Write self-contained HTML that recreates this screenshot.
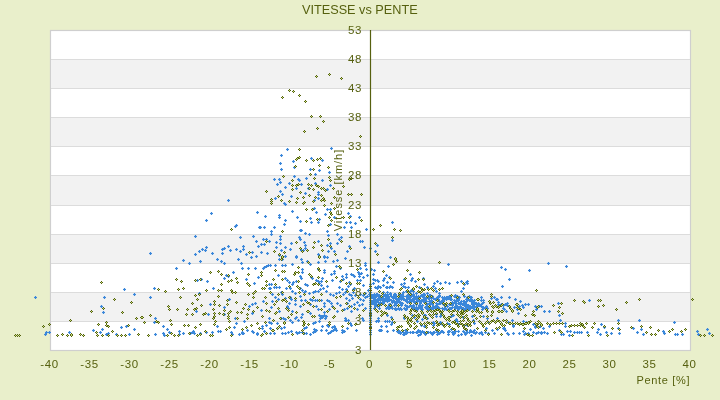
<!DOCTYPE html><html><head><meta charset="utf-8"><style>
html,body{margin:0;padding:0;width:720px;height:400px;overflow:hidden;background:#e9efcb}
svg{display:block;will-change:transform}
.t{font-family:"Liberation Sans",sans-serif;font-size:11.5px;fill:#56600f;letter-spacing:0.6px}
.a{font-family:"Liberation Sans",sans-serif;font-size:11px;fill:#56600f}
.ti{font-family:"Liberation Sans",sans-serif;font-size:12.7px;fill:#56600f}
</style></head><body><svg width="720" height="400" viewBox="0 0 720 400">
<rect x="0" y="0" width="720" height="400" fill="#e9efcb"/><rect x="50.5" y="30.5" width="640" height="320" fill="#ffffff" stroke="#cfcfcf" stroke-width="1.2"/><rect x="51" y="59" width="639" height="29" fill="#f2f2f2"/><rect x="51" y="117" width="639" height="29" fill="#f2f2f2"/><rect x="51" y="175" width="639" height="30" fill="#f2f2f2"/><rect x="51" y="234" width="639" height="29" fill="#f2f2f2"/><rect x="51" y="292" width="639" height="29" fill="#f2f2f2"/><line x1="51" y1="59.5" x2="690" y2="59.5" stroke="#dcdcdc" stroke-width="1.1"/><line x1="51" y1="88.5" x2="690" y2="88.5" stroke="#dcdcdc" stroke-width="1.1"/><line x1="51" y1="117.5" x2="690" y2="117.5" stroke="#dcdcdc" stroke-width="1.1"/><line x1="51" y1="146.5" x2="690" y2="146.5" stroke="#dcdcdc" stroke-width="1.1"/><line x1="51" y1="175.5" x2="690" y2="175.5" stroke="#dcdcdc" stroke-width="1.1"/><line x1="51" y1="205.5" x2="690" y2="205.5" stroke="#dcdcdc" stroke-width="1.1"/><line x1="51" y1="234.5" x2="690" y2="234.5" stroke="#dcdcdc" stroke-width="1.1"/><line x1="51" y1="263.5" x2="690" y2="263.5" stroke="#dcdcdc" stroke-width="1.1"/><line x1="51" y1="292.5" x2="690" y2="292.5" stroke="#dcdcdc" stroke-width="1.1"/><line x1="51" y1="321.5" x2="690" y2="321.5" stroke="#dcdcdc" stroke-width="1.1"/><text transform="translate(342,190.5) rotate(-90)" text-anchor="middle" class="a" textLength="81.5" lengthAdjust="spacing">Vitesse [km/h]</text><g shape-rendering="crispEdges"><path d="M286 148h1v1h-1zM288 148h1v1h-1zM286 150h1v1h-1zM288 150h1v1h-1zM280 154h1v1h-1zM282 154h1v1h-1zM280 156h1v1h-1zM282 156h1v1h-1zM279 162h1v1h-1zM281 162h1v1h-1zM279 164h1v1h-1zM281 164h1v1h-1zM280 168h1v1h-1zM282 168h1v1h-1zM280 170h1v1h-1zM282 170h1v1h-1zM292 160h1v1h-1zM294 160h1v1h-1zM292 162h1v1h-1zM294 162h1v1h-1zM293 166h1v1h-1zM295 166h1v1h-1zM293 168h1v1h-1zM295 168h1v1h-1zM310 157h1v1h-1zM312 157h1v1h-1zM310 159h1v1h-1zM312 159h1v1h-1zM321 159h1v1h-1zM323 159h1v1h-1zM321 161h1v1h-1zM323 161h1v1h-1zM330 147h1v1h-1zM332 147h1v1h-1zM330 149h1v1h-1zM332 149h1v1h-1zM309 168h1v1h-1zM311 168h1v1h-1zM309 170h1v1h-1zM311 170h1v1h-1zM318 169h1v1h-1zM320 169h1v1h-1zM318 171h1v1h-1zM320 171h1v1h-1zM328 171h1v1h-1zM330 171h1v1h-1zM328 173h1v1h-1zM330 173h1v1h-1zM314 173h1v1h-1zM316 173h1v1h-1zM314 175h1v1h-1zM316 175h1v1h-1zM293 175h1v1h-1zM295 175h1v1h-1zM293 177h1v1h-1zM295 177h1v1h-1zM297 178h1v1h-1zM299 178h1v1h-1zM297 180h1v1h-1zM299 180h1v1h-1zM298 179h1v1h-1zM300 179h1v1h-1zM298 181h1v1h-1zM300 181h1v1h-1zM305 177h1v1h-1zM307 177h1v1h-1zM305 179h1v1h-1zM307 179h1v1h-1zM273 178h1v1h-1zM275 178h1v1h-1zM273 180h1v1h-1zM275 180h1v1h-1zM278 178h1v1h-1zM280 178h1v1h-1zM278 180h1v1h-1zM280 180h1v1h-1zM279 181h1v1h-1zM281 181h1v1h-1zM279 183h1v1h-1zM281 183h1v1h-1zM276 183h1v1h-1zM278 183h1v1h-1zM276 185h1v1h-1zM278 185h1v1h-1zM288 182h1v1h-1zM290 182h1v1h-1zM288 184h1v1h-1zM290 184h1v1h-1zM300 183h1v1h-1zM302 183h1v1h-1zM300 185h1v1h-1zM302 185h1v1h-1zM321 179h1v1h-1zM323 179h1v1h-1zM321 181h1v1h-1zM323 181h1v1h-1zM284 186h1v1h-1zM286 186h1v1h-1zM284 188h1v1h-1zM286 188h1v1h-1zM295 187h1v1h-1zM297 187h1v1h-1zM295 189h1v1h-1zM297 189h1v1h-1zM307 187h1v1h-1zM309 187h1v1h-1zM307 189h1v1h-1zM309 189h1v1h-1zM314 182h1v1h-1zM316 182h1v1h-1zM314 184h1v1h-1zM316 184h1v1h-1zM329 184h1v1h-1zM331 184h1v1h-1zM329 186h1v1h-1zM331 186h1v1h-1zM326 188h1v1h-1zM328 188h1v1h-1zM326 190h1v1h-1zM328 190h1v1h-1zM279 190h1v1h-1zM281 190h1v1h-1zM279 192h1v1h-1zM281 192h1v1h-1zM281 193h1v1h-1zM283 193h1v1h-1zM281 195h1v1h-1zM283 195h1v1h-1zM304 192h1v1h-1zM306 192h1v1h-1zM304 194h1v1h-1zM306 194h1v1h-1zM317 191h1v1h-1zM319 191h1v1h-1zM317 193h1v1h-1zM319 193h1v1h-1zM317 193h1v1h-1zM319 193h1v1h-1zM317 195h1v1h-1zM319 195h1v1h-1zM290 195h1v1h-1zM292 195h1v1h-1zM290 197h1v1h-1zM292 197h1v1h-1zM274 197h1v1h-1zM276 197h1v1h-1zM274 199h1v1h-1zM276 199h1v1h-1zM317 197h1v1h-1zM319 197h1v1h-1zM317 199h1v1h-1zM319 199h1v1h-1zM335 265h1v1h-1zM337 265h1v1h-1zM335 267h1v1h-1zM337 267h1v1h-1zM339 267h1v1h-1zM341 267h1v1h-1zM339 269h1v1h-1zM341 269h1v1h-1zM333 270h1v1h-1zM335 270h1v1h-1zM333 272h1v1h-1zM335 272h1v1h-1zM333 272h1v1h-1zM335 272h1v1h-1zM333 274h1v1h-1zM335 274h1v1h-1zM330 273h1v1h-1zM332 273h1v1h-1zM330 275h1v1h-1zM332 275h1v1h-1zM331 279h1v1h-1zM333 279h1v1h-1zM331 281h1v1h-1zM333 281h1v1h-1zM341 275h1v1h-1zM343 275h1v1h-1zM341 277h1v1h-1zM343 277h1v1h-1zM345 273h1v1h-1zM347 273h1v1h-1zM345 275h1v1h-1zM347 275h1v1h-1zM345 276h1v1h-1zM347 276h1v1h-1zM345 278h1v1h-1zM347 278h1v1h-1zM342 278h1v1h-1zM344 278h1v1h-1zM342 280h1v1h-1zM344 280h1v1h-1zM339 280h1v1h-1zM341 280h1v1h-1zM339 282h1v1h-1zM341 282h1v1h-1zM350 273h1v1h-1zM352 273h1v1h-1zM350 275h1v1h-1zM352 275h1v1h-1zM352 274h1v1h-1zM354 274h1v1h-1zM352 276h1v1h-1zM354 276h1v1h-1zM353 275h1v1h-1zM355 275h1v1h-1zM353 277h1v1h-1zM355 277h1v1h-1zM357 271h1v1h-1zM359 271h1v1h-1zM357 273h1v1h-1zM359 273h1v1h-1zM358 273h1v1h-1zM360 273h1v1h-1zM358 275h1v1h-1zM360 275h1v1h-1zM358 275h1v1h-1zM360 275h1v1h-1zM358 277h1v1h-1zM360 277h1v1h-1zM360 272h1v1h-1zM362 272h1v1h-1zM360 274h1v1h-1zM362 274h1v1h-1zM359 267h1v1h-1zM361 267h1v1h-1zM359 269h1v1h-1zM361 269h1v1h-1zM365 268h1v1h-1zM367 268h1v1h-1zM365 270h1v1h-1zM367 270h1v1h-1zM362 276h1v1h-1zM364 276h1v1h-1zM362 278h1v1h-1zM364 278h1v1h-1zM366 274h1v1h-1zM368 274h1v1h-1zM366 276h1v1h-1zM368 276h1v1h-1zM356 279h1v1h-1zM358 279h1v1h-1zM356 281h1v1h-1zM358 281h1v1h-1zM359 279h1v1h-1zM361 279h1v1h-1zM359 281h1v1h-1zM361 281h1v1h-1zM348 281h1v1h-1zM350 281h1v1h-1zM348 283h1v1h-1zM350 283h1v1h-1zM349 283h1v1h-1zM351 283h1v1h-1zM349 285h1v1h-1zM351 285h1v1h-1zM347 285h1v1h-1zM349 285h1v1h-1zM347 287h1v1h-1zM349 287h1v1h-1zM338 286h1v1h-1zM340 286h1v1h-1zM338 288h1v1h-1zM340 288h1v1h-1zM341 288h1v1h-1zM343 288h1v1h-1zM341 290h1v1h-1zM343 290h1v1h-1zM345 288h1v1h-1zM347 288h1v1h-1zM345 290h1v1h-1zM347 290h1v1h-1zM352 288h1v1h-1zM354 288h1v1h-1zM352 290h1v1h-1zM354 290h1v1h-1zM353 287h1v1h-1zM355 287h1v1h-1zM353 289h1v1h-1zM355 289h1v1h-1zM362 284h1v1h-1zM364 284h1v1h-1zM362 286h1v1h-1zM364 286h1v1h-1zM364 262h1v1h-1zM366 262h1v1h-1zM364 264h1v1h-1zM366 264h1v1h-1zM364 264h1v1h-1zM366 264h1v1h-1zM364 266h1v1h-1zM366 266h1v1h-1zM367 289h1v1h-1zM369 289h1v1h-1zM367 291h1v1h-1zM369 291h1v1h-1zM335 292h1v1h-1zM337 292h1v1h-1zM335 294h1v1h-1zM337 294h1v1h-1zM338 291h1v1h-1zM340 291h1v1h-1zM338 293h1v1h-1zM340 293h1v1h-1zM342 293h1v1h-1zM344 293h1v1h-1zM342 295h1v1h-1zM344 295h1v1h-1zM344 291h1v1h-1zM346 291h1v1h-1zM344 293h1v1h-1zM346 293h1v1h-1zM348 293h1v1h-1zM350 293h1v1h-1zM348 295h1v1h-1zM350 295h1v1h-1zM350 294h1v1h-1zM352 294h1v1h-1zM350 296h1v1h-1zM352 296h1v1h-1zM352 291h1v1h-1zM354 291h1v1h-1zM352 293h1v1h-1zM354 293h1v1h-1zM354 294h1v1h-1zM356 294h1v1h-1zM354 296h1v1h-1zM356 296h1v1h-1zM359 293h1v1h-1zM361 293h1v1h-1zM359 295h1v1h-1zM361 295h1v1h-1zM362 294h1v1h-1zM364 294h1v1h-1zM362 296h1v1h-1zM364 296h1v1h-1zM364 292h1v1h-1zM366 292h1v1h-1zM364 294h1v1h-1zM366 294h1v1h-1zM366 295h1v1h-1zM368 295h1v1h-1zM366 297h1v1h-1zM368 297h1v1h-1zM368 293h1v1h-1zM370 293h1v1h-1zM368 295h1v1h-1zM370 295h1v1h-1zM329 293h1v1h-1zM331 293h1v1h-1zM329 295h1v1h-1zM331 295h1v1h-1zM332 294h1v1h-1zM334 294h1v1h-1zM332 296h1v1h-1zM334 296h1v1h-1zM345 297h1v1h-1zM347 297h1v1h-1zM345 299h1v1h-1zM347 299h1v1h-1zM348 299h1v1h-1zM350 299h1v1h-1zM348 301h1v1h-1zM350 301h1v1h-1zM351 297h1v1h-1zM353 297h1v1h-1zM351 299h1v1h-1zM353 299h1v1h-1zM359 298h1v1h-1zM361 298h1v1h-1zM359 300h1v1h-1zM361 300h1v1h-1zM362 299h1v1h-1zM364 299h1v1h-1zM362 301h1v1h-1zM364 301h1v1h-1zM364 296h1v1h-1zM366 296h1v1h-1zM364 298h1v1h-1zM366 298h1v1h-1zM227 199h1v1h-1zM229 199h1v1h-1zM227 201h1v1h-1zM229 201h1v1h-1zM210 212h1v1h-1zM212 212h1v1h-1zM210 214h1v1h-1zM212 214h1v1h-1zM205 219h1v1h-1zM207 219h1v1h-1zM205 221h1v1h-1zM207 221h1v1h-1zM234 225h1v1h-1zM236 225h1v1h-1zM234 227h1v1h-1zM236 227h1v1h-1zM235 224h1v1h-1zM237 224h1v1h-1zM235 226h1v1h-1zM237 226h1v1h-1zM256 211h1v1h-1zM258 211h1v1h-1zM256 213h1v1h-1zM258 213h1v1h-1zM258 226h1v1h-1zM260 226h1v1h-1zM258 228h1v1h-1zM260 228h1v1h-1zM194 235h1v1h-1zM196 235h1v1h-1zM194 237h1v1h-1zM196 237h1v1h-1zM239 236h1v1h-1zM241 236h1v1h-1zM239 238h1v1h-1zM241 238h1v1h-1zM252 235h1v1h-1zM254 235h1v1h-1zM252 237h1v1h-1zM254 237h1v1h-1zM255 240h1v1h-1zM257 240h1v1h-1zM255 242h1v1h-1zM257 242h1v1h-1zM257 245h1v1h-1zM259 245h1v1h-1zM257 247h1v1h-1zM259 247h1v1h-1zM205 246h1v1h-1zM207 246h1v1h-1zM205 248h1v1h-1zM207 248h1v1h-1zM201 248h1v1h-1zM203 248h1v1h-1zM201 250h1v1h-1zM203 250h1v1h-1zM204 249h1v1h-1zM206 249h1v1h-1zM204 251h1v1h-1zM206 251h1v1h-1zM198 250h1v1h-1zM200 250h1v1h-1zM198 252h1v1h-1zM200 252h1v1h-1zM194 253h1v1h-1zM196 253h1v1h-1zM194 255h1v1h-1zM196 255h1v1h-1zM211 252h1v1h-1zM213 252h1v1h-1zM211 254h1v1h-1zM213 254h1v1h-1zM221 248h1v1h-1zM223 248h1v1h-1zM221 250h1v1h-1zM223 250h1v1h-1zM223 247h1v1h-1zM225 247h1v1h-1zM223 249h1v1h-1zM225 249h1v1h-1zM227 245h1v1h-1zM229 245h1v1h-1zM227 247h1v1h-1zM229 247h1v1h-1zM229 249h1v1h-1zM231 249h1v1h-1zM229 251h1v1h-1zM231 251h1v1h-1zM221 252h1v1h-1zM223 252h1v1h-1zM221 254h1v1h-1zM223 254h1v1h-1zM235 248h1v1h-1zM237 248h1v1h-1zM235 250h1v1h-1zM237 250h1v1h-1zM242 245h1v1h-1zM244 245h1v1h-1zM242 247h1v1h-1zM244 247h1v1h-1zM242 248h1v1h-1zM244 248h1v1h-1zM242 250h1v1h-1zM244 250h1v1h-1zM239 250h1v1h-1zM241 250h1v1h-1zM239 252h1v1h-1zM241 252h1v1h-1zM245 253h1v1h-1zM247 253h1v1h-1zM245 255h1v1h-1zM247 255h1v1h-1zM251 251h1v1h-1zM253 251h1v1h-1zM251 253h1v1h-1zM253 253h1v1h-1zM149 252h1v1h-1zM151 252h1v1h-1zM149 254h1v1h-1zM151 254h1v1h-1zM283 202h1v1h-1zM285 202h1v1h-1zM283 204h1v1h-1zM285 204h1v1h-1zM284 203h1v1h-1zM286 203h1v1h-1zM284 205h1v1h-1zM286 205h1v1h-1zM313 199h1v1h-1zM315 199h1v1h-1zM313 201h1v1h-1zM315 201h1v1h-1zM291 210h1v1h-1zM293 210h1v1h-1zM291 212h1v1h-1zM293 212h1v1h-1zM264 215h1v1h-1zM266 215h1v1h-1zM264 217h1v1h-1zM266 217h1v1h-1zM278 214h1v1h-1zM280 214h1v1h-1zM278 216h1v1h-1zM280 216h1v1h-1zM278 216h1v1h-1zM280 216h1v1h-1zM278 218h1v1h-1zM280 218h1v1h-1zM296 216h1v1h-1zM298 216h1v1h-1zM296 218h1v1h-1zM298 218h1v1h-1zM299 220h1v1h-1zM301 220h1v1h-1zM299 222h1v1h-1zM301 222h1v1h-1zM284 219h1v1h-1zM286 219h1v1h-1zM284 221h1v1h-1zM286 221h1v1h-1zM283 223h1v1h-1zM285 223h1v1h-1zM283 225h1v1h-1zM285 225h1v1h-1zM309 217h1v1h-1zM311 217h1v1h-1zM309 219h1v1h-1zM311 219h1v1h-1zM310 221h1v1h-1zM312 221h1v1h-1zM310 223h1v1h-1zM312 223h1v1h-1zM317 221h1v1h-1zM319 221h1v1h-1zM317 223h1v1h-1zM319 223h1v1h-1zM318 218h1v1h-1zM320 218h1v1h-1zM318 220h1v1h-1zM320 220h1v1h-1zM311 208h1v1h-1zM313 208h1v1h-1zM311 210h1v1h-1zM313 210h1v1h-1zM313 207h1v1h-1zM315 207h1v1h-1zM313 209h1v1h-1zM315 209h1v1h-1zM315 211h1v1h-1zM317 211h1v1h-1zM315 213h1v1h-1zM317 213h1v1h-1zM324 213h1v1h-1zM326 213h1v1h-1zM324 215h1v1h-1zM326 215h1v1h-1zM326 208h1v1h-1zM328 208h1v1h-1zM326 210h1v1h-1zM328 210h1v1h-1zM329 208h1v1h-1zM331 208h1v1h-1zM329 210h1v1h-1zM331 210h1v1h-1zM333 216h1v1h-1zM335 216h1v1h-1zM333 218h1v1h-1zM335 218h1v1h-1zM347 212h1v1h-1zM349 212h1v1h-1zM347 214h1v1h-1zM349 214h1v1h-1zM349 215h1v1h-1zM351 215h1v1h-1zM349 217h1v1h-1zM351 217h1v1h-1zM358 216h1v1h-1zM360 216h1v1h-1zM358 218h1v1h-1zM360 218h1v1h-1zM354 222h1v1h-1zM356 222h1v1h-1zM354 224h1v1h-1zM356 224h1v1h-1zM349 221h1v1h-1zM351 221h1v1h-1zM349 223h1v1h-1zM351 223h1v1h-1zM343 226h1v1h-1zM345 226h1v1h-1zM343 228h1v1h-1zM345 228h1v1h-1zM345 221h1v1h-1zM347 221h1v1h-1zM345 223h1v1h-1zM347 223h1v1h-1zM350 226h1v1h-1zM352 226h1v1h-1zM350 228h1v1h-1zM352 228h1v1h-1zM365 228h1v1h-1zM367 228h1v1h-1zM365 230h1v1h-1zM367 230h1v1h-1zM329 223h1v1h-1zM331 223h1v1h-1zM329 225h1v1h-1zM331 225h1v1h-1zM326 230h1v1h-1zM328 230h1v1h-1zM326 232h1v1h-1zM328 232h1v1h-1zM327 234h1v1h-1zM329 234h1v1h-1zM327 236h1v1h-1zM329 236h1v1h-1zM336 233h1v1h-1zM338 233h1v1h-1zM336 235h1v1h-1zM338 235h1v1h-1zM259 226h1v1h-1zM261 226h1v1h-1zM259 228h1v1h-1zM261 228h1v1h-1zM263 226h1v1h-1zM265 226h1v1h-1zM263 228h1v1h-1zM265 228h1v1h-1zM273 226h1v1h-1zM275 226h1v1h-1zM273 228h1v1h-1zM275 228h1v1h-1zM270 230h1v1h-1zM272 230h1v1h-1zM270 232h1v1h-1zM272 232h1v1h-1zM270 233h1v1h-1zM272 233h1v1h-1zM270 235h1v1h-1zM272 235h1v1h-1zM299 229h1v1h-1zM301 229h1v1h-1zM299 231h1v1h-1zM301 231h1v1h-1zM300 229h1v1h-1zM302 229h1v1h-1zM300 231h1v1h-1zM302 231h1v1h-1zM304 232h1v1h-1zM306 232h1v1h-1zM304 234h1v1h-1zM306 234h1v1h-1zM308 233h1v1h-1zM310 233h1v1h-1zM308 235h1v1h-1zM310 235h1v1h-1zM279 235h1v1h-1zM281 235h1v1h-1zM279 237h1v1h-1zM281 237h1v1h-1zM279 238h1v1h-1zM281 238h1v1h-1zM279 240h1v1h-1zM281 240h1v1h-1zM262 238h1v1h-1zM264 238h1v1h-1zM262 240h1v1h-1zM264 240h1v1h-1zM265 238h1v1h-1zM267 238h1v1h-1zM265 240h1v1h-1zM267 240h1v1h-1zM268 240h1v1h-1zM270 240h1v1h-1zM268 242h1v1h-1zM270 242h1v1h-1zM298 236h1v1h-1zM300 236h1v1h-1zM298 238h1v1h-1zM300 238h1v1h-1zM299 238h1v1h-1zM301 238h1v1h-1zM299 240h1v1h-1zM301 240h1v1h-1zM275 241h1v1h-1zM277 241h1v1h-1zM275 243h1v1h-1zM277 243h1v1h-1zM279 242h1v1h-1zM281 242h1v1h-1zM279 244h1v1h-1zM281 244h1v1h-1zM290 242h1v1h-1zM292 242h1v1h-1zM290 244h1v1h-1zM292 244h1v1h-1zM303 241h1v1h-1zM305 241h1v1h-1zM303 243h1v1h-1zM305 243h1v1h-1zM317 240h1v1h-1zM319 240h1v1h-1zM317 242h1v1h-1zM319 242h1v1h-1zM338 238h1v1h-1zM340 238h1v1h-1zM338 240h1v1h-1zM340 240h1v1h-1zM340 236h1v1h-1zM342 236h1v1h-1zM340 238h1v1h-1zM342 238h1v1h-1zM260 243h1v1h-1zM262 243h1v1h-1zM260 245h1v1h-1zM262 245h1v1h-1zM263 243h1v1h-1zM265 243h1v1h-1zM263 245h1v1h-1zM265 245h1v1h-1zM275 246h1v1h-1zM277 246h1v1h-1zM275 248h1v1h-1zM277 248h1v1h-1zM284 246h1v1h-1zM286 246h1v1h-1zM284 248h1v1h-1zM286 248h1v1h-1zM304 247h1v1h-1zM306 247h1v1h-1zM304 249h1v1h-1zM306 249h1v1h-1zM302 249h1v1h-1zM304 249h1v1h-1zM302 251h1v1h-1zM304 251h1v1h-1zM304 244h1v1h-1zM306 244h1v1h-1zM304 246h1v1h-1zM306 246h1v1h-1zM326 244h1v1h-1zM328 244h1v1h-1zM326 246h1v1h-1zM328 246h1v1h-1zM329 242h1v1h-1zM331 242h1v1h-1zM329 244h1v1h-1zM331 244h1v1h-1zM330 247h1v1h-1zM332 247h1v1h-1zM330 249h1v1h-1zM332 249h1v1h-1zM336 242h1v1h-1zM338 242h1v1h-1zM336 244h1v1h-1zM338 244h1v1h-1zM348 245h1v1h-1zM350 245h1v1h-1zM348 247h1v1h-1zM350 247h1v1h-1zM359 240h1v1h-1zM361 240h1v1h-1zM359 242h1v1h-1zM361 242h1v1h-1zM361 240h1v1h-1zM363 240h1v1h-1zM361 242h1v1h-1zM363 242h1v1h-1zM363 246h1v1h-1zM365 246h1v1h-1zM363 248h1v1h-1zM365 248h1v1h-1zM280 249h1v1h-1zM282 249h1v1h-1zM280 251h1v1h-1zM282 251h1v1h-1zM289 248h1v1h-1zM291 248h1v1h-1zM289 250h1v1h-1zM291 250h1v1h-1zM260 251h1v1h-1zM262 251h1v1h-1zM260 253h1v1h-1zM262 253h1v1h-1zM266 252h1v1h-1zM268 252h1v1h-1zM266 254h1v1h-1zM268 254h1v1h-1zM300 249h1v1h-1zM302 249h1v1h-1zM300 251h1v1h-1zM302 251h1v1h-1zM327 250h1v1h-1zM329 250h1v1h-1zM327 252h1v1h-1zM329 252h1v1h-1zM333 250h1v1h-1zM335 250h1v1h-1zM333 252h1v1h-1zM335 252h1v1h-1zM346 250h1v1h-1zM348 250h1v1h-1zM346 252h1v1h-1zM348 252h1v1h-1zM278 254h1v1h-1zM280 254h1v1h-1zM278 256h1v1h-1zM280 256h1v1h-1zM284 255h1v1h-1zM286 255h1v1h-1zM284 257h1v1h-1zM286 257h1v1h-1zM295 255h1v1h-1zM297 255h1v1h-1zM295 257h1v1h-1zM297 257h1v1h-1zM317 253h1v1h-1zM319 253h1v1h-1zM317 255h1v1h-1zM319 255h1v1h-1zM323 255h1v1h-1zM325 255h1v1h-1zM323 257h1v1h-1zM325 257h1v1h-1zM326 256h1v1h-1zM328 256h1v1h-1zM326 258h1v1h-1zM328 258h1v1h-1zM278 258h1v1h-1zM280 258h1v1h-1zM278 260h1v1h-1zM280 260h1v1h-1zM281 258h1v1h-1zM283 258h1v1h-1zM281 260h1v1h-1zM283 260h1v1h-1zM295 256h1v1h-1zM297 256h1v1h-1zM295 258h1v1h-1zM297 258h1v1h-1zM300 258h1v1h-1zM302 258h1v1h-1zM300 260h1v1h-1zM302 260h1v1h-1zM301 261h1v1h-1zM303 261h1v1h-1zM301 263h1v1h-1zM303 263h1v1h-1zM306 260h1v1h-1zM308 260h1v1h-1zM306 262h1v1h-1zM308 262h1v1h-1zM309 263h1v1h-1zM311 263h1v1h-1zM309 265h1v1h-1zM311 265h1v1h-1zM317 261h1v1h-1zM319 261h1v1h-1zM317 263h1v1h-1zM319 263h1v1h-1zM323 256h1v1h-1zM325 256h1v1h-1zM323 258h1v1h-1zM325 258h1v1h-1zM326 256h1v1h-1zM328 256h1v1h-1zM326 258h1v1h-1zM328 258h1v1h-1zM324 260h1v1h-1zM326 260h1v1h-1zM324 262h1v1h-1zM326 262h1v1h-1zM332 260h1v1h-1zM334 260h1v1h-1zM332 262h1v1h-1zM334 262h1v1h-1zM336 259h1v1h-1zM338 259h1v1h-1zM336 261h1v1h-1zM338 261h1v1h-1zM344 257h1v1h-1zM346 257h1v1h-1zM344 259h1v1h-1zM346 259h1v1h-1zM265 265h1v1h-1zM267 265h1v1h-1zM265 267h1v1h-1zM267 267h1v1h-1zM267 264h1v1h-1zM269 264h1v1h-1zM267 266h1v1h-1zM269 266h1v1h-1zM269 264h1v1h-1zM271 264h1v1h-1zM269 266h1v1h-1zM271 266h1v1h-1zM262 267h1v1h-1zM264 267h1v1h-1zM262 269h1v1h-1zM264 269h1v1h-1zM263 266h1v1h-1zM265 266h1v1h-1zM263 268h1v1h-1zM265 268h1v1h-1zM274 264h1v1h-1zM276 264h1v1h-1zM274 266h1v1h-1zM276 266h1v1h-1zM281 264h1v1h-1zM283 264h1v1h-1zM281 266h1v1h-1zM283 266h1v1h-1zM284 264h1v1h-1zM286 264h1v1h-1zM284 266h1v1h-1zM286 266h1v1h-1zM291 263h1v1h-1zM293 263h1v1h-1zM291 265h1v1h-1zM293 265h1v1h-1zM301 268h1v1h-1zM303 268h1v1h-1zM301 270h1v1h-1zM303 270h1v1h-1zM301 271h1v1h-1zM303 271h1v1h-1zM301 273h1v1h-1zM303 273h1v1h-1zM317 268h1v1h-1zM319 268h1v1h-1zM317 270h1v1h-1zM319 270h1v1h-1zM323 269h1v1h-1zM325 269h1v1h-1zM323 271h1v1h-1zM325 271h1v1h-1zM323 271h1v1h-1zM325 271h1v1h-1zM323 273h1v1h-1zM325 273h1v1h-1zM277 274h1v1h-1zM279 274h1v1h-1zM277 276h1v1h-1zM279 276h1v1h-1zM284 277h1v1h-1zM286 277h1v1h-1zM284 279h1v1h-1zM286 279h1v1h-1zM286 279h1v1h-1zM288 279h1v1h-1zM286 281h1v1h-1zM288 281h1v1h-1zM288 281h1v1h-1zM290 281h1v1h-1zM288 283h1v1h-1zM290 283h1v1h-1zM291 283h1v1h-1zM293 283h1v1h-1zM291 285h1v1h-1zM293 285h1v1h-1zM292 281h1v1h-1zM294 281h1v1h-1zM292 283h1v1h-1zM294 283h1v1h-1zM295 280h1v1h-1zM297 280h1v1h-1zM295 282h1v1h-1zM297 282h1v1h-1zM299 275h1v1h-1zM301 275h1v1h-1zM299 277h1v1h-1zM301 277h1v1h-1zM300 277h1v1h-1zM302 277h1v1h-1zM300 279h1v1h-1zM302 279h1v1h-1zM304 283h1v1h-1zM306 283h1v1h-1zM304 285h1v1h-1zM306 285h1v1h-1zM306 284h1v1h-1zM308 284h1v1h-1zM306 286h1v1h-1zM308 286h1v1h-1zM310 276h1v1h-1zM312 276h1v1h-1zM310 278h1v1h-1zM312 278h1v1h-1zM311 277h1v1h-1zM313 277h1v1h-1zM311 279h1v1h-1zM313 279h1v1h-1zM315 279h1v1h-1zM317 279h1v1h-1zM315 281h1v1h-1zM317 281h1v1h-1zM317 280h1v1h-1zM319 280h1v1h-1zM317 282h1v1h-1zM319 282h1v1h-1zM318 282h1v1h-1zM320 282h1v1h-1zM318 284h1v1h-1zM320 284h1v1h-1zM320 284h1v1h-1zM322 284h1v1h-1zM320 286h1v1h-1zM322 286h1v1h-1zM321 277h1v1h-1zM323 277h1v1h-1zM321 279h1v1h-1zM323 279h1v1h-1zM320 280h1v1h-1zM322 280h1v1h-1zM320 282h1v1h-1zM322 282h1v1h-1zM326 285h1v1h-1zM328 285h1v1h-1zM326 287h1v1h-1zM328 287h1v1h-1zM268 283h1v1h-1zM270 283h1v1h-1zM268 285h1v1h-1zM270 285h1v1h-1zM270 283h1v1h-1zM272 283h1v1h-1zM270 285h1v1h-1zM272 285h1v1h-1zM273 286h1v1h-1zM275 286h1v1h-1zM273 288h1v1h-1zM275 288h1v1h-1zM275 286h1v1h-1zM277 286h1v1h-1zM275 288h1v1h-1zM277 288h1v1h-1zM278 286h1v1h-1zM280 286h1v1h-1zM278 288h1v1h-1zM280 288h1v1h-1zM269 287h1v1h-1zM271 287h1v1h-1zM269 289h1v1h-1zM271 289h1v1h-1zM268 287h1v1h-1zM270 287h1v1h-1zM268 289h1v1h-1zM270 289h1v1h-1zM280 291h1v1h-1zM282 291h1v1h-1zM280 293h1v1h-1zM282 293h1v1h-1zM281 293h1v1h-1zM283 293h1v1h-1zM281 295h1v1h-1zM283 295h1v1h-1zM285 287h1v1h-1zM287 287h1v1h-1zM285 289h1v1h-1zM287 289h1v1h-1zM289 287h1v1h-1zM291 287h1v1h-1zM289 289h1v1h-1zM291 289h1v1h-1zM291 290h1v1h-1zM293 290h1v1h-1zM291 292h1v1h-1zM293 292h1v1h-1zM294 292h1v1h-1zM296 292h1v1h-1zM294 294h1v1h-1zM296 294h1v1h-1zM299 287h1v1h-1zM301 287h1v1h-1zM299 289h1v1h-1zM301 289h1v1h-1zM301 289h1v1h-1zM303 289h1v1h-1zM301 291h1v1h-1zM303 291h1v1h-1zM303 291h1v1h-1zM305 291h1v1h-1zM303 293h1v1h-1zM305 293h1v1h-1zM304 290h1v1h-1zM306 290h1v1h-1zM304 292h1v1h-1zM306 292h1v1h-1zM308 292h1v1h-1zM310 292h1v1h-1zM308 294h1v1h-1zM310 294h1v1h-1zM312 291h1v1h-1zM314 291h1v1h-1zM312 293h1v1h-1zM314 293h1v1h-1zM314 290h1v1h-1zM316 290h1v1h-1zM314 292h1v1h-1zM316 292h1v1h-1zM317 290h1v1h-1zM319 290h1v1h-1zM317 292h1v1h-1zM319 292h1v1h-1zM319 288h1v1h-1zM321 288h1v1h-1zM319 290h1v1h-1zM321 290h1v1h-1zM322 287h1v1h-1zM324 287h1v1h-1zM322 289h1v1h-1zM324 289h1v1h-1zM325 290h1v1h-1zM327 290h1v1h-1zM325 292h1v1h-1zM327 292h1v1h-1zM271 293h1v1h-1zM273 293h1v1h-1zM271 295h1v1h-1zM273 295h1v1h-1zM274 296h1v1h-1zM276 296h1v1h-1zM274 298h1v1h-1zM276 298h1v1h-1zM262 300h1v1h-1zM264 300h1v1h-1zM262 302h1v1h-1zM264 302h1v1h-1zM271 300h1v1h-1zM273 300h1v1h-1zM271 302h1v1h-1zM273 302h1v1h-1zM277 298h1v1h-1zM279 298h1v1h-1zM277 300h1v1h-1zM279 300h1v1h-1zM284 297h1v1h-1zM286 297h1v1h-1zM284 299h1v1h-1zM286 299h1v1h-1zM289 296h1v1h-1zM291 296h1v1h-1zM289 298h1v1h-1zM291 298h1v1h-1zM290 298h1v1h-1zM292 298h1v1h-1zM290 300h1v1h-1zM292 300h1v1h-1zM294 299h1v1h-1zM296 299h1v1h-1zM294 301h1v1h-1zM296 301h1v1h-1zM299 295h1v1h-1zM301 295h1v1h-1zM299 297h1v1h-1zM301 297h1v1h-1zM300 299h1v1h-1zM302 299h1v1h-1zM300 301h1v1h-1zM302 301h1v1h-1zM304 299h1v1h-1zM306 299h1v1h-1zM304 301h1v1h-1zM306 301h1v1h-1zM309 298h1v1h-1zM311 298h1v1h-1zM309 300h1v1h-1zM311 300h1v1h-1zM311 299h1v1h-1zM313 299h1v1h-1zM311 301h1v1h-1zM313 301h1v1h-1zM314 299h1v1h-1zM316 299h1v1h-1zM314 301h1v1h-1zM316 301h1v1h-1zM316 299h1v1h-1zM318 299h1v1h-1zM316 301h1v1h-1zM318 301h1v1h-1zM320 299h1v1h-1zM322 299h1v1h-1zM320 301h1v1h-1zM322 301h1v1h-1zM326 299h1v1h-1zM328 299h1v1h-1zM326 301h1v1h-1zM328 301h1v1h-1zM328 300h1v1h-1zM330 300h1v1h-1zM328 302h1v1h-1zM330 302h1v1h-1zM330 302h1v1h-1zM332 302h1v1h-1zM330 304h1v1h-1zM332 304h1v1h-1zM323 302h1v1h-1zM325 302h1v1h-1zM323 304h1v1h-1zM325 304h1v1h-1zM336 302h1v1h-1zM338 302h1v1h-1zM336 304h1v1h-1zM338 304h1v1h-1zM346 302h1v1h-1zM348 302h1v1h-1zM346 304h1v1h-1zM348 304h1v1h-1zM356 301h1v1h-1zM358 301h1v1h-1zM356 303h1v1h-1zM358 303h1v1h-1zM286 305h1v1h-1zM288 305h1v1h-1zM286 307h1v1h-1zM288 307h1v1h-1zM288 302h1v1h-1zM290 302h1v1h-1zM288 304h1v1h-1zM290 304h1v1h-1zM294 303h1v1h-1zM296 303h1v1h-1zM294 305h1v1h-1zM296 305h1v1h-1zM299 305h1v1h-1zM301 305h1v1h-1zM299 307h1v1h-1zM301 307h1v1h-1zM309 303h1v1h-1zM311 303h1v1h-1zM309 305h1v1h-1zM311 305h1v1h-1zM315 305h1v1h-1zM317 305h1v1h-1zM315 307h1v1h-1zM317 307h1v1h-1zM323 305h1v1h-1zM325 305h1v1h-1zM323 307h1v1h-1zM325 307h1v1h-1zM331 305h1v1h-1zM333 305h1v1h-1zM331 307h1v1h-1zM333 307h1v1h-1zM339 304h1v1h-1zM341 304h1v1h-1zM339 306h1v1h-1zM341 306h1v1h-1zM350 305h1v1h-1zM352 305h1v1h-1zM350 307h1v1h-1zM352 307h1v1h-1zM353 303h1v1h-1zM355 303h1v1h-1zM353 305h1v1h-1zM355 305h1v1h-1zM358 304h1v1h-1zM360 304h1v1h-1zM358 306h1v1h-1zM360 306h1v1h-1zM361 303h1v1h-1zM363 303h1v1h-1zM361 305h1v1h-1zM363 305h1v1h-1zM260 309h1v1h-1zM262 309h1v1h-1zM260 311h1v1h-1zM262 311h1v1h-1zM270 306h1v1h-1zM272 306h1v1h-1zM270 308h1v1h-1zM272 308h1v1h-1zM278 310h1v1h-1zM280 310h1v1h-1zM278 312h1v1h-1zM280 312h1v1h-1zM287 307h1v1h-1zM289 307h1v1h-1zM287 309h1v1h-1zM289 309h1v1h-1zM291 310h1v1h-1zM293 310h1v1h-1zM291 312h1v1h-1zM293 312h1v1h-1zM301 313h1v1h-1zM303 313h1v1h-1zM301 315h1v1h-1zM303 315h1v1h-1zM309 312h1v1h-1zM311 312h1v1h-1zM309 314h1v1h-1zM311 314h1v1h-1zM317 308h1v1h-1zM319 308h1v1h-1zM317 310h1v1h-1zM319 310h1v1h-1zM323 311h1v1h-1zM325 311h1v1h-1zM323 313h1v1h-1zM325 313h1v1h-1zM328 308h1v1h-1zM330 308h1v1h-1zM328 310h1v1h-1zM330 310h1v1h-1zM336 310h1v1h-1zM338 310h1v1h-1zM336 312h1v1h-1zM338 312h1v1h-1zM343 308h1v1h-1zM345 308h1v1h-1zM343 310h1v1h-1zM345 310h1v1h-1zM346 307h1v1h-1zM348 307h1v1h-1zM346 309h1v1h-1zM348 309h1v1h-1zM350 310h1v1h-1zM352 310h1v1h-1zM350 312h1v1h-1zM352 312h1v1h-1zM356 308h1v1h-1zM358 308h1v1h-1zM356 310h1v1h-1zM358 310h1v1h-1zM364 307h1v1h-1zM366 307h1v1h-1zM364 309h1v1h-1zM366 309h1v1h-1zM182 259h1v1h-1zM184 259h1v1h-1zM182 261h1v1h-1zM184 261h1v1h-1zM188 262h1v1h-1zM190 262h1v1h-1zM188 264h1v1h-1zM190 264h1v1h-1zM199 260h1v1h-1zM201 260h1v1h-1zM199 262h1v1h-1zM201 262h1v1h-1zM216 258h1v1h-1zM218 258h1v1h-1zM216 260h1v1h-1zM218 260h1v1h-1zM220 260h1v1h-1zM222 260h1v1h-1zM220 262h1v1h-1zM222 262h1v1h-1zM223 262h1v1h-1zM225 262h1v1h-1zM223 264h1v1h-1zM225 264h1v1h-1zM237 258h1v1h-1zM239 258h1v1h-1zM237 260h1v1h-1zM239 260h1v1h-1zM240 262h1v1h-1zM242 262h1v1h-1zM240 264h1v1h-1zM242 264h1v1h-1zM250 256h1v1h-1zM252 256h1v1h-1zM250 258h1v1h-1zM252 258h1v1h-1zM255 255h1v1h-1zM257 255h1v1h-1zM255 257h1v1h-1zM257 257h1v1h-1zM175 267h1v1h-1zM177 267h1v1h-1zM175 269h1v1h-1zM177 269h1v1h-1zM241 267h1v1h-1zM243 267h1v1h-1zM241 269h1v1h-1zM243 269h1v1h-1zM247 267h1v1h-1zM249 267h1v1h-1zM247 269h1v1h-1zM249 269h1v1h-1zM254 267h1v1h-1zM256 267h1v1h-1zM254 269h1v1h-1zM256 269h1v1h-1zM232 271h1v1h-1zM234 271h1v1h-1zM232 273h1v1h-1zM234 273h1v1h-1zM225 274h1v1h-1zM227 274h1v1h-1zM225 276h1v1h-1zM227 276h1v1h-1zM227 275h1v1h-1zM229 275h1v1h-1zM227 277h1v1h-1zM229 277h1v1h-1zM223 277h1v1h-1zM225 277h1v1h-1zM223 279h1v1h-1zM225 279h1v1h-1zM245 278h1v1h-1zM247 278h1v1h-1zM245 280h1v1h-1zM247 280h1v1h-1zM257 276h1v1h-1zM259 276h1v1h-1zM257 278h1v1h-1zM259 278h1v1h-1zM196 279h1v1h-1zM198 279h1v1h-1zM196 281h1v1h-1zM198 281h1v1h-1zM200 278h1v1h-1zM202 278h1v1h-1zM200 280h1v1h-1zM202 280h1v1h-1zM206 280h1v1h-1zM208 280h1v1h-1zM206 282h1v1h-1zM208 282h1v1h-1zM253 282h1v1h-1zM255 282h1v1h-1zM253 284h1v1h-1zM255 284h1v1h-1zM153 287h1v1h-1zM155 287h1v1h-1zM153 289h1v1h-1zM155 289h1v1h-1zM212 287h1v1h-1zM214 287h1v1h-1zM212 289h1v1h-1zM214 289h1v1h-1zM198 292h1v1h-1zM200 292h1v1h-1zM198 294h1v1h-1zM200 294h1v1h-1zM149 296h1v1h-1zM151 296h1v1h-1zM149 298h1v1h-1zM151 298h1v1h-1zM228 298h1v1h-1zM230 298h1v1h-1zM228 300h1v1h-1zM230 300h1v1h-1zM209 303h1v1h-1zM211 303h1v1h-1zM209 305h1v1h-1zM211 305h1v1h-1zM223 306h1v1h-1zM225 306h1v1h-1zM223 308h1v1h-1zM225 308h1v1h-1zM248 305h1v1h-1zM250 305h1v1h-1zM248 307h1v1h-1zM250 307h1v1h-1zM251 303h1v1h-1zM253 303h1v1h-1zM251 305h1v1h-1zM253 305h1v1h-1zM254 302h1v1h-1zM256 302h1v1h-1zM254 304h1v1h-1zM256 304h1v1h-1zM195 310h1v1h-1zM197 310h1v1h-1zM195 312h1v1h-1zM197 312h1v1h-1zM251 312h1v1h-1zM253 312h1v1h-1zM251 314h1v1h-1zM253 314h1v1h-1zM207 313h1v1h-1zM209 313h1v1h-1zM207 315h1v1h-1zM209 315h1v1h-1zM223 313h1v1h-1zM225 313h1v1h-1zM223 315h1v1h-1zM225 315h1v1h-1zM123 288h1v1h-1zM125 288h1v1h-1zM123 290h1v1h-1zM125 290h1v1h-1zM133 293h1v1h-1zM135 293h1v1h-1zM133 295h1v1h-1zM135 295h1v1h-1zM103 296h1v1h-1zM105 296h1v1h-1zM103 298h1v1h-1zM105 298h1v1h-1zM100 305h1v1h-1zM102 305h1v1h-1zM100 307h1v1h-1zM102 307h1v1h-1zM102 311h1v1h-1zM104 311h1v1h-1zM102 313h1v1h-1zM104 313h1v1h-1zM44 333h1v1h-1zM46 333h1v1h-1zM44 335h1v1h-1zM46 335h1v1h-1zM45 331h1v1h-1zM47 331h1v1h-1zM45 333h1v1h-1zM47 333h1v1h-1zM48 331h1v1h-1zM50 331h1v1h-1zM48 333h1v1h-1zM50 333h1v1h-1zM68 331h1v1h-1zM70 331h1v1h-1zM68 333h1v1h-1zM70 333h1v1h-1zM92 329h1v1h-1zM94 329h1v1h-1zM92 331h1v1h-1zM94 331h1v1h-1zM101 328h1v1h-1zM103 328h1v1h-1zM101 330h1v1h-1zM103 330h1v1h-1zM99 331h1v1h-1zM101 331h1v1h-1zM99 333h1v1h-1zM101 333h1v1h-1zM105 333h1v1h-1zM107 333h1v1h-1zM105 335h1v1h-1zM107 335h1v1h-1zM107 332h1v1h-1zM109 332h1v1h-1zM107 334h1v1h-1zM109 334h1v1h-1zM34 296h1v1h-1zM36 296h1v1h-1zM34 298h1v1h-1zM36 298h1v1h-1zM154 317h1v1h-1zM156 317h1v1h-1zM154 319h1v1h-1zM156 319h1v1h-1zM153 321h1v1h-1zM155 321h1v1h-1zM153 323h1v1h-1zM155 323h1v1h-1zM120 326h1v1h-1zM122 326h1v1h-1zM120 328h1v1h-1zM122 328h1v1h-1zM125 325h1v1h-1zM127 325h1v1h-1zM125 327h1v1h-1zM127 327h1v1h-1zM133 328h1v1h-1zM135 328h1v1h-1zM133 330h1v1h-1zM135 330h1v1h-1zM115 333h1v1h-1zM117 333h1v1h-1zM115 335h1v1h-1zM117 335h1v1h-1zM128 333h1v1h-1zM130 333h1v1h-1zM128 335h1v1h-1zM130 335h1v1h-1zM154 333h1v1h-1zM156 333h1v1h-1zM154 335h1v1h-1zM156 335h1v1h-1zM162 325h1v1h-1zM164 325h1v1h-1zM162 327h1v1h-1zM164 327h1v1h-1zM166 328h1v1h-1zM168 328h1v1h-1zM166 330h1v1h-1zM168 330h1v1h-1zM168 331h1v1h-1zM170 331h1v1h-1zM168 333h1v1h-1zM170 333h1v1h-1zM162 332h1v1h-1zM164 332h1v1h-1zM162 334h1v1h-1zM164 334h1v1h-1zM163 334h1v1h-1zM165 334h1v1h-1zM163 336h1v1h-1zM165 336h1v1h-1zM178 330h1v1h-1zM180 330h1v1h-1zM178 332h1v1h-1zM180 332h1v1h-1zM178 333h1v1h-1zM180 333h1v1h-1zM178 335h1v1h-1zM180 335h1v1h-1zM182 332h1v1h-1zM184 332h1v1h-1zM182 334h1v1h-1zM184 334h1v1h-1zM189 332h1v1h-1zM191 332h1v1h-1zM189 334h1v1h-1zM191 334h1v1h-1zM192 330h1v1h-1zM194 330h1v1h-1zM192 332h1v1h-1zM194 332h1v1h-1zM193 332h1v1h-1zM195 332h1v1h-1zM193 334h1v1h-1zM195 334h1v1h-1zM191 331h1v1h-1zM193 331h1v1h-1zM191 333h1v1h-1zM193 333h1v1h-1zM199 332h1v1h-1zM201 332h1v1h-1zM199 334h1v1h-1zM201 334h1v1h-1zM205 331h1v1h-1zM207 331h1v1h-1zM205 333h1v1h-1zM207 333h1v1h-1zM211 331h1v1h-1zM213 331h1v1h-1zM211 333h1v1h-1zM213 333h1v1h-1zM216 325h1v1h-1zM218 325h1v1h-1zM216 327h1v1h-1zM218 327h1v1h-1zM217 330h1v1h-1zM219 330h1v1h-1zM217 332h1v1h-1zM219 332h1v1h-1zM234 317h1v1h-1zM236 317h1v1h-1zM234 319h1v1h-1zM236 319h1v1h-1zM243 320h1v1h-1zM245 320h1v1h-1zM243 322h1v1h-1zM245 322h1v1h-1zM235 322h1v1h-1zM237 322h1v1h-1zM235 324h1v1h-1zM237 324h1v1h-1zM233 326h1v1h-1zM235 326h1v1h-1zM233 328h1v1h-1zM235 328h1v1h-1zM230 331h1v1h-1zM232 331h1v1h-1zM230 333h1v1h-1zM232 333h1v1h-1zM231 333h1v1h-1zM233 333h1v1h-1zM231 335h1v1h-1zM233 335h1v1h-1zM238 333h1v1h-1zM240 333h1v1h-1zM238 335h1v1h-1zM240 335h1v1h-1zM241 332h1v1h-1zM243 332h1v1h-1zM241 334h1v1h-1zM243 334h1v1h-1zM242 332h1v1h-1zM244 332h1v1h-1zM242 334h1v1h-1zM244 334h1v1h-1zM241 331h1v1h-1zM243 331h1v1h-1zM241 333h1v1h-1zM243 333h1v1h-1zM246 329h1v1h-1zM248 329h1v1h-1zM246 331h1v1h-1zM248 331h1v1h-1zM251 330h1v1h-1zM253 330h1v1h-1zM251 332h1v1h-1zM253 332h1v1h-1zM252 331h1v1h-1zM254 331h1v1h-1zM252 333h1v1h-1zM254 333h1v1h-1zM256 332h1v1h-1zM258 332h1v1h-1zM256 334h1v1h-1zM258 334h1v1h-1zM256 333h1v1h-1zM258 333h1v1h-1zM256 335h1v1h-1zM258 335h1v1h-1zM261 325h1v1h-1zM263 325h1v1h-1zM261 327h1v1h-1zM263 327h1v1h-1zM261 327h1v1h-1zM263 327h1v1h-1zM261 329h1v1h-1zM263 329h1v1h-1zM263 330h1v1h-1zM265 330h1v1h-1zM263 332h1v1h-1zM265 332h1v1h-1zM265 332h1v1h-1zM267 332h1v1h-1zM265 334h1v1h-1zM267 334h1v1h-1zM265 324h1v1h-1zM267 324h1v1h-1zM265 326h1v1h-1zM267 326h1v1h-1zM268 317h1v1h-1zM270 317h1v1h-1zM268 319h1v1h-1zM270 319h1v1h-1zM268 321h1v1h-1zM270 321h1v1h-1zM268 323h1v1h-1zM270 323h1v1h-1zM270 322h1v1h-1zM272 322h1v1h-1zM270 324h1v1h-1zM272 324h1v1h-1zM269 327h1v1h-1zM271 327h1v1h-1zM269 329h1v1h-1zM271 329h1v1h-1zM269 332h1v1h-1zM271 332h1v1h-1zM269 334h1v1h-1zM271 334h1v1h-1zM273 332h1v1h-1zM275 332h1v1h-1zM273 334h1v1h-1zM275 334h1v1h-1zM276 322h1v1h-1zM278 322h1v1h-1zM276 324h1v1h-1zM278 324h1v1h-1zM276 327h1v1h-1zM278 327h1v1h-1zM276 329h1v1h-1zM278 329h1v1h-1zM280 317h1v1h-1zM282 317h1v1h-1zM280 319h1v1h-1zM282 319h1v1h-1zM282 317h1v1h-1zM284 317h1v1h-1zM282 319h1v1h-1zM284 319h1v1h-1zM284 318h1v1h-1zM286 318h1v1h-1zM284 320h1v1h-1zM286 320h1v1h-1zM280 327h1v1h-1zM282 327h1v1h-1zM280 329h1v1h-1zM282 329h1v1h-1zM283 326h1v1h-1zM285 326h1v1h-1zM283 328h1v1h-1zM285 328h1v1h-1zM281 332h1v1h-1zM283 332h1v1h-1zM281 334h1v1h-1zM283 334h1v1h-1zM284 332h1v1h-1zM286 332h1v1h-1zM284 334h1v1h-1zM286 334h1v1h-1zM287 331h1v1h-1zM289 331h1v1h-1zM287 333h1v1h-1zM289 333h1v1h-1zM290 330h1v1h-1zM292 330h1v1h-1zM290 332h1v1h-1zM292 332h1v1h-1zM289 319h1v1h-1zM291 319h1v1h-1zM289 321h1v1h-1zM291 321h1v1h-1zM291 321h1v1h-1zM293 321h1v1h-1zM291 323h1v1h-1zM293 323h1v1h-1zM294 317h1v1h-1zM296 317h1v1h-1zM294 319h1v1h-1zM296 319h1v1h-1zM295 316h1v1h-1zM297 316h1v1h-1zM295 318h1v1h-1zM297 318h1v1h-1zM295 331h1v1h-1zM297 331h1v1h-1zM295 333h1v1h-1zM297 333h1v1h-1zM296 332h1v1h-1zM298 332h1v1h-1zM296 334h1v1h-1zM298 334h1v1h-1zM298 331h1v1h-1zM300 331h1v1h-1zM298 333h1v1h-1zM300 333h1v1h-1zM297 319h1v1h-1zM299 319h1v1h-1zM297 321h1v1h-1zM299 321h1v1h-1zM219 330h1v1h-1zM221 330h1v1h-1zM219 332h1v1h-1zM221 332h1v1h-1zM300 316h1v1h-1zM302 316h1v1h-1zM300 318h1v1h-1zM302 318h1v1h-1zM318 314h1v1h-1zM320 314h1v1h-1zM318 316h1v1h-1zM320 316h1v1h-1zM320 315h1v1h-1zM322 315h1v1h-1zM320 317h1v1h-1zM322 317h1v1h-1zM321 315h1v1h-1zM323 315h1v1h-1zM321 317h1v1h-1zM323 317h1v1h-1zM323 314h1v1h-1zM325 314h1v1h-1zM323 316h1v1h-1zM325 316h1v1h-1zM325 315h1v1h-1zM327 315h1v1h-1zM325 317h1v1h-1zM327 317h1v1h-1zM324 317h1v1h-1zM326 317h1v1h-1zM324 319h1v1h-1zM326 319h1v1h-1zM321 316h1v1h-1zM323 316h1v1h-1zM321 318h1v1h-1zM323 318h1v1h-1zM319 317h1v1h-1zM321 317h1v1h-1zM319 319h1v1h-1zM321 319h1v1h-1zM314 321h1v1h-1zM316 321h1v1h-1zM314 323h1v1h-1zM316 323h1v1h-1zM312 322h1v1h-1zM314 322h1v1h-1zM312 324h1v1h-1zM314 324h1v1h-1zM318 320h1v1h-1zM320 320h1v1h-1zM318 322h1v1h-1zM320 322h1v1h-1zM327 325h1v1h-1zM329 325h1v1h-1zM327 327h1v1h-1zM329 327h1v1h-1zM326 324h1v1h-1zM328 324h1v1h-1zM326 326h1v1h-1zM328 326h1v1h-1zM321 325h1v1h-1zM323 325h1v1h-1zM321 327h1v1h-1zM323 327h1v1h-1zM331 326h1v1h-1zM333 326h1v1h-1zM331 328h1v1h-1zM333 328h1v1h-1zM333 325h1v1h-1zM335 325h1v1h-1zM333 327h1v1h-1zM335 327h1v1h-1zM334 327h1v1h-1zM336 327h1v1h-1zM334 329h1v1h-1zM336 329h1v1h-1zM332 329h1v1h-1zM334 329h1v1h-1zM332 331h1v1h-1zM334 331h1v1h-1zM330 330h1v1h-1zM332 330h1v1h-1zM330 332h1v1h-1zM332 332h1v1h-1zM329 331h1v1h-1zM331 331h1v1h-1zM329 333h1v1h-1zM331 333h1v1h-1zM327 332h1v1h-1zM329 332h1v1h-1zM327 334h1v1h-1zM329 334h1v1h-1zM325 329h1v1h-1zM327 329h1v1h-1zM325 331h1v1h-1zM327 331h1v1h-1zM335 329h1v1h-1zM337 329h1v1h-1zM335 331h1v1h-1zM337 331h1v1h-1zM333 328h1v1h-1zM335 328h1v1h-1zM333 330h1v1h-1zM335 330h1v1h-1zM320 329h1v1h-1zM322 329h1v1h-1zM320 331h1v1h-1zM322 331h1v1h-1zM313 328h1v1h-1zM315 328h1v1h-1zM313 330h1v1h-1zM315 330h1v1h-1zM314 330h1v1h-1zM316 330h1v1h-1zM314 332h1v1h-1zM316 332h1v1h-1zM312 331h1v1h-1zM314 331h1v1h-1zM312 333h1v1h-1zM314 333h1v1h-1zM315 329h1v1h-1zM317 329h1v1h-1zM315 331h1v1h-1zM317 331h1v1h-1zM305 326h1v1h-1zM307 326h1v1h-1zM305 328h1v1h-1zM307 328h1v1h-1zM303 327h1v1h-1zM305 327h1v1h-1zM303 329h1v1h-1zM305 329h1v1h-1zM301 331h1v1h-1zM303 331h1v1h-1zM301 333h1v1h-1zM303 333h1v1h-1zM303 332h1v1h-1zM305 332h1v1h-1zM303 334h1v1h-1zM305 334h1v1h-1zM305 332h1v1h-1zM307 332h1v1h-1zM305 334h1v1h-1zM307 334h1v1h-1zM309 333h1v1h-1zM311 333h1v1h-1zM309 335h1v1h-1zM311 335h1v1h-1zM344 317h1v1h-1zM346 317h1v1h-1zM344 319h1v1h-1zM346 319h1v1h-1zM345 319h1v1h-1zM347 319h1v1h-1zM345 321h1v1h-1zM347 321h1v1h-1zM347 319h1v1h-1zM349 319h1v1h-1zM347 321h1v1h-1zM349 321h1v1h-1zM344 319h1v1h-1zM346 319h1v1h-1zM344 321h1v1h-1zM346 321h1v1h-1zM349 322h1v1h-1zM351 322h1v1h-1zM349 324h1v1h-1zM351 324h1v1h-1zM350 324h1v1h-1zM352 324h1v1h-1zM350 326h1v1h-1zM352 326h1v1h-1zM341 329h1v1h-1zM343 329h1v1h-1zM341 331h1v1h-1zM343 331h1v1h-1zM343 330h1v1h-1zM345 330h1v1h-1zM343 332h1v1h-1zM345 332h1v1h-1zM341 331h1v1h-1zM343 331h1v1h-1zM341 333h1v1h-1zM343 333h1v1h-1zM346 327h1v1h-1zM348 327h1v1h-1zM346 329h1v1h-1zM348 329h1v1h-1zM355 329h1v1h-1zM357 329h1v1h-1zM355 331h1v1h-1zM357 331h1v1h-1zM361 317h1v1h-1zM363 317h1v1h-1zM361 319h1v1h-1zM363 319h1v1h-1zM362 319h1v1h-1zM364 319h1v1h-1zM362 321h1v1h-1zM364 321h1v1h-1zM375 320h1v1h-1zM377 320h1v1h-1zM375 322h1v1h-1zM377 322h1v1h-1zM378 329h1v1h-1zM380 329h1v1h-1zM378 331h1v1h-1zM380 331h1v1h-1zM369 283h1v1h-1zM371 283h1v1h-1zM369 285h1v1h-1zM371 285h1v1h-1zM369 285h1v1h-1zM371 285h1v1h-1zM369 287h1v1h-1zM371 287h1v1h-1zM369 287h1v1h-1zM371 287h1v1h-1zM369 289h1v1h-1zM371 289h1v1h-1zM369 289h1v1h-1zM371 289h1v1h-1zM369 291h1v1h-1zM371 291h1v1h-1zM369 291h1v1h-1zM371 291h1v1h-1zM369 293h1v1h-1zM371 293h1v1h-1zM369 293h1v1h-1zM371 293h1v1h-1zM369 295h1v1h-1zM371 295h1v1h-1zM369 295h1v1h-1zM371 295h1v1h-1zM369 297h1v1h-1zM371 297h1v1h-1zM369 297h1v1h-1zM371 297h1v1h-1zM369 299h1v1h-1zM371 299h1v1h-1zM369 299h1v1h-1zM371 299h1v1h-1zM369 301h1v1h-1zM371 301h1v1h-1zM369 301h1v1h-1zM371 301h1v1h-1zM369 303h1v1h-1zM371 303h1v1h-1zM369 303h1v1h-1zM371 303h1v1h-1zM369 305h1v1h-1zM371 305h1v1h-1zM369 305h1v1h-1zM371 305h1v1h-1zM369 307h1v1h-1zM371 307h1v1h-1zM369 307h1v1h-1zM371 307h1v1h-1zM369 309h1v1h-1zM371 309h1v1h-1zM369 309h1v1h-1zM371 309h1v1h-1zM369 311h1v1h-1zM371 311h1v1h-1zM369 311h1v1h-1zM371 311h1v1h-1zM369 313h1v1h-1zM371 313h1v1h-1zM369 313h1v1h-1zM371 313h1v1h-1zM369 315h1v1h-1zM371 315h1v1h-1zM369 315h1v1h-1zM371 315h1v1h-1zM369 317h1v1h-1zM371 317h1v1h-1zM369 317h1v1h-1zM371 317h1v1h-1zM369 319h1v1h-1zM371 319h1v1h-1zM369 319h1v1h-1zM371 319h1v1h-1zM369 321h1v1h-1zM371 321h1v1h-1zM369 321h1v1h-1zM371 321h1v1h-1zM369 323h1v1h-1zM371 323h1v1h-1zM369 323h1v1h-1zM371 323h1v1h-1zM369 325h1v1h-1zM371 325h1v1h-1zM369 325h1v1h-1zM371 325h1v1h-1zM369 327h1v1h-1zM371 327h1v1h-1zM369 327h1v1h-1zM371 327h1v1h-1zM369 329h1v1h-1zM371 329h1v1h-1zM369 329h1v1h-1zM371 329h1v1h-1zM369 331h1v1h-1zM371 331h1v1h-1zM369 331h1v1h-1zM371 331h1v1h-1zM369 333h1v1h-1zM371 333h1v1h-1zM369 333h1v1h-1zM371 333h1v1h-1zM369 335h1v1h-1zM371 335h1v1h-1zM391 221h1v1h-1zM393 221h1v1h-1zM391 223h1v1h-1zM393 223h1v1h-1zM391 239h1v1h-1zM393 239h1v1h-1zM391 241h1v1h-1zM393 241h1v1h-1zM376 244h1v1h-1zM378 244h1v1h-1zM376 246h1v1h-1zM378 246h1v1h-1zM374 250h1v1h-1zM376 250h1v1h-1zM374 252h1v1h-1zM376 252h1v1h-1zM369 247h1v1h-1zM371 247h1v1h-1zM369 249h1v1h-1zM371 249h1v1h-1zM389 256h1v1h-1zM391 256h1v1h-1zM389 258h1v1h-1zM391 258h1v1h-1zM471 315h1v1h-1zM473 315h1v1h-1zM471 317h1v1h-1zM473 317h1v1h-1zM472 319h1v1h-1zM474 319h1v1h-1zM472 321h1v1h-1zM474 321h1v1h-1zM473 322h1v1h-1zM475 322h1v1h-1zM473 324h1v1h-1zM475 324h1v1h-1zM478 320h1v1h-1zM480 320h1v1h-1zM478 322h1v1h-1zM480 322h1v1h-1zM482 315h1v1h-1zM484 315h1v1h-1zM482 317h1v1h-1zM484 317h1v1h-1zM486 317h1v1h-1zM488 317h1v1h-1zM486 319h1v1h-1zM488 319h1v1h-1zM487 321h1v1h-1zM489 321h1v1h-1zM487 323h1v1h-1zM489 323h1v1h-1zM496 317h1v1h-1zM498 317h1v1h-1zM496 319h1v1h-1zM498 319h1v1h-1zM507 321h1v1h-1zM509 321h1v1h-1zM507 323h1v1h-1zM509 323h1v1h-1zM511 319h1v1h-1zM513 319h1v1h-1zM511 321h1v1h-1zM513 321h1v1h-1zM512 324h1v1h-1zM514 324h1v1h-1zM512 326h1v1h-1zM514 326h1v1h-1zM517 312h1v1h-1zM519 312h1v1h-1zM517 314h1v1h-1zM519 314h1v1h-1zM522 320h1v1h-1zM524 320h1v1h-1zM522 322h1v1h-1zM524 322h1v1h-1zM525 321h1v1h-1zM527 321h1v1h-1zM525 323h1v1h-1zM527 323h1v1h-1zM469 329h1v1h-1zM471 329h1v1h-1zM469 331h1v1h-1zM471 331h1v1h-1zM468 331h1v1h-1zM470 331h1v1h-1zM468 333h1v1h-1zM470 333h1v1h-1zM470 330h1v1h-1zM472 330h1v1h-1zM470 332h1v1h-1zM472 332h1v1h-1zM472 331h1v1h-1zM474 331h1v1h-1zM472 333h1v1h-1zM474 333h1v1h-1zM473 329h1v1h-1zM475 329h1v1h-1zM473 331h1v1h-1zM475 331h1v1h-1zM475 331h1v1h-1zM477 331h1v1h-1zM475 333h1v1h-1zM477 333h1v1h-1zM478 332h1v1h-1zM480 332h1v1h-1zM478 334h1v1h-1zM480 334h1v1h-1zM480 331h1v1h-1zM482 331h1v1h-1zM480 333h1v1h-1zM482 333h1v1h-1zM481 333h1v1h-1zM483 333h1v1h-1zM481 335h1v1h-1zM483 335h1v1h-1zM485 327h1v1h-1zM487 327h1v1h-1zM485 329h1v1h-1zM487 329h1v1h-1zM484 331h1v1h-1zM486 331h1v1h-1zM484 333h1v1h-1zM486 333h1v1h-1zM487 332h1v1h-1zM489 332h1v1h-1zM487 334h1v1h-1zM489 334h1v1h-1zM491 329h1v1h-1zM493 329h1v1h-1zM491 331h1v1h-1zM493 331h1v1h-1zM493 332h1v1h-1zM495 332h1v1h-1zM493 334h1v1h-1zM495 334h1v1h-1zM496 328h1v1h-1zM498 328h1v1h-1zM496 330h1v1h-1zM498 330h1v1h-1zM502 327h1v1h-1zM504 327h1v1h-1zM502 329h1v1h-1zM504 329h1v1h-1zM504 329h1v1h-1zM506 329h1v1h-1zM504 331h1v1h-1zM506 331h1v1h-1zM506 332h1v1h-1zM508 332h1v1h-1zM506 334h1v1h-1zM508 334h1v1h-1zM512 332h1v1h-1zM514 332h1v1h-1zM512 334h1v1h-1zM514 334h1v1h-1zM518 332h1v1h-1zM520 332h1v1h-1zM518 334h1v1h-1zM520 334h1v1h-1zM522 330h1v1h-1zM524 330h1v1h-1zM522 332h1v1h-1zM524 332h1v1h-1zM524 332h1v1h-1zM526 332h1v1h-1zM524 334h1v1h-1zM526 334h1v1h-1zM527 332h1v1h-1zM529 332h1v1h-1zM527 334h1v1h-1zM529 334h1v1h-1zM374 286h1v1h-1zM376 286h1v1h-1zM374 288h1v1h-1zM376 288h1v1h-1zM376 287h1v1h-1zM378 287h1v1h-1zM376 289h1v1h-1zM378 289h1v1h-1zM377 285h1v1h-1zM379 285h1v1h-1zM377 287h1v1h-1zM379 287h1v1h-1zM379 286h1v1h-1zM381 286h1v1h-1zM379 288h1v1h-1zM381 288h1v1h-1zM382 284h1v1h-1zM384 284h1v1h-1zM382 286h1v1h-1zM384 286h1v1h-1zM385 286h1v1h-1zM387 286h1v1h-1zM385 288h1v1h-1zM387 288h1v1h-1zM386 286h1v1h-1zM388 286h1v1h-1zM386 288h1v1h-1zM388 288h1v1h-1zM388 286h1v1h-1zM390 286h1v1h-1zM388 288h1v1h-1zM390 288h1v1h-1zM389 285h1v1h-1zM391 285h1v1h-1zM389 287h1v1h-1zM391 287h1v1h-1zM391 286h1v1h-1zM393 286h1v1h-1zM391 288h1v1h-1zM393 288h1v1h-1zM400 283h1v1h-1zM402 283h1v1h-1zM400 285h1v1h-1zM402 285h1v1h-1zM402 285h1v1h-1zM404 285h1v1h-1zM402 287h1v1h-1zM404 287h1v1h-1zM404 286h1v1h-1zM406 286h1v1h-1zM404 288h1v1h-1zM406 288h1v1h-1zM407 286h1v1h-1zM409 286h1v1h-1zM407 288h1v1h-1zM409 288h1v1h-1zM410 289h1v1h-1zM412 289h1v1h-1zM410 291h1v1h-1zM412 291h1v1h-1zM412 290h1v1h-1zM414 290h1v1h-1zM412 292h1v1h-1zM414 292h1v1h-1zM415 292h1v1h-1zM417 292h1v1h-1zM415 294h1v1h-1zM417 294h1v1h-1zM382 291h1v1h-1zM384 291h1v1h-1zM382 293h1v1h-1zM384 293h1v1h-1zM386 291h1v1h-1zM388 291h1v1h-1zM386 293h1v1h-1zM388 293h1v1h-1zM389 292h1v1h-1zM391 292h1v1h-1zM389 294h1v1h-1zM391 294h1v1h-1zM398 292h1v1h-1zM400 292h1v1h-1zM398 294h1v1h-1zM400 294h1v1h-1zM402 291h1v1h-1zM404 291h1v1h-1zM402 293h1v1h-1zM404 293h1v1h-1zM405 290h1v1h-1zM407 290h1v1h-1zM405 292h1v1h-1zM407 292h1v1h-1zM409 290h1v1h-1zM411 290h1v1h-1zM409 292h1v1h-1zM411 292h1v1h-1zM375 293h1v1h-1zM377 293h1v1h-1zM375 295h1v1h-1zM377 295h1v1h-1zM378 294h1v1h-1zM380 294h1v1h-1zM378 296h1v1h-1zM380 296h1v1h-1zM371 294h1v1h-1zM373 294h1v1h-1zM371 296h1v1h-1zM373 296h1v1h-1zM373 296h1v1h-1zM375 296h1v1h-1zM373 298h1v1h-1zM375 298h1v1h-1zM376 298h1v1h-1zM378 298h1v1h-1zM376 300h1v1h-1zM378 300h1v1h-1zM379 297h1v1h-1zM381 297h1v1h-1zM379 299h1v1h-1zM381 299h1v1h-1zM371 302h1v1h-1zM373 302h1v1h-1zM371 304h1v1h-1zM373 304h1v1h-1zM374 302h1v1h-1zM376 302h1v1h-1zM374 304h1v1h-1zM376 304h1v1h-1zM377 301h1v1h-1zM379 301h1v1h-1zM377 303h1v1h-1zM379 303h1v1h-1zM376 305h1v1h-1zM378 305h1v1h-1zM376 307h1v1h-1zM378 307h1v1h-1zM373 307h1v1h-1zM375 307h1v1h-1zM373 309h1v1h-1zM375 309h1v1h-1zM378 307h1v1h-1zM380 307h1v1h-1zM378 309h1v1h-1zM380 309h1v1h-1zM423 283h1v1h-1zM425 283h1v1h-1zM423 285h1v1h-1zM425 285h1v1h-1zM426 286h1v1h-1zM428 286h1v1h-1zM426 288h1v1h-1zM428 288h1v1h-1zM432 285h1v1h-1zM434 285h1v1h-1zM432 287h1v1h-1zM434 287h1v1h-1zM434 287h1v1h-1zM436 287h1v1h-1zM434 289h1v1h-1zM436 289h1v1h-1zM435 290h1v1h-1zM437 290h1v1h-1zM435 292h1v1h-1zM437 292h1v1h-1zM438 292h1v1h-1zM440 292h1v1h-1zM438 294h1v1h-1zM440 294h1v1h-1zM418 286h1v1h-1zM420 286h1v1h-1zM418 288h1v1h-1zM420 288h1v1h-1zM462 287h1v1h-1zM464 287h1v1h-1zM462 289h1v1h-1zM464 289h1v1h-1zM460 290h1v1h-1zM462 290h1v1h-1zM460 292h1v1h-1zM462 292h1v1h-1zM463 283h1v1h-1zM465 283h1v1h-1zM463 285h1v1h-1zM465 285h1v1h-1zM420 294h1v1h-1zM422 294h1v1h-1zM420 296h1v1h-1zM422 296h1v1h-1zM426 292h1v1h-1zM428 292h1v1h-1zM426 294h1v1h-1zM428 294h1v1h-1zM429 295h1v1h-1zM431 295h1v1h-1zM429 297h1v1h-1zM431 297h1v1h-1zM443 296h1v1h-1zM445 296h1v1h-1zM443 298h1v1h-1zM445 298h1v1h-1zM448 295h1v1h-1zM450 295h1v1h-1zM448 297h1v1h-1zM450 297h1v1h-1zM454 294h1v1h-1zM456 294h1v1h-1zM454 296h1v1h-1zM456 296h1v1h-1zM463 295h1v1h-1zM465 295h1v1h-1zM463 297h1v1h-1zM465 297h1v1h-1zM407 293h1v1h-1zM409 293h1v1h-1zM407 295h1v1h-1zM409 295h1v1h-1zM432 297h1v1h-1zM434 297h1v1h-1zM432 299h1v1h-1zM434 299h1v1h-1zM376 300h1v1h-1zM378 300h1v1h-1zM376 302h1v1h-1zM378 302h1v1h-1zM374 298h1v1h-1zM376 298h1v1h-1zM374 300h1v1h-1zM376 300h1v1h-1zM419 305h1v1h-1zM421 305h1v1h-1zM419 307h1v1h-1zM421 307h1v1h-1zM384 295h1v1h-1zM386 295h1v1h-1zM384 297h1v1h-1zM386 297h1v1h-1zM443 308h1v1h-1zM445 308h1v1h-1zM443 310h1v1h-1zM445 310h1v1h-1zM437 298h1v1h-1zM439 298h1v1h-1zM437 300h1v1h-1zM439 300h1v1h-1zM386 293h1v1h-1zM388 293h1v1h-1zM386 295h1v1h-1zM388 295h1v1h-1zM406 305h1v1h-1zM408 305h1v1h-1zM406 307h1v1h-1zM408 307h1v1h-1zM391 301h1v1h-1zM393 301h1v1h-1zM391 303h1v1h-1zM393 303h1v1h-1zM444 297h1v1h-1zM446 297h1v1h-1zM444 299h1v1h-1zM446 299h1v1h-1zM376 294h1v1h-1zM378 294h1v1h-1zM376 296h1v1h-1zM378 296h1v1h-1zM449 298h1v1h-1zM451 298h1v1h-1zM449 300h1v1h-1zM451 300h1v1h-1zM406 301h1v1h-1zM408 301h1v1h-1zM406 303h1v1h-1zM408 303h1v1h-1zM423 296h1v1h-1zM425 296h1v1h-1zM423 298h1v1h-1zM425 298h1v1h-1zM462 303h1v1h-1zM464 303h1v1h-1zM462 305h1v1h-1zM464 305h1v1h-1zM398 301h1v1h-1zM400 301h1v1h-1zM398 303h1v1h-1zM400 303h1v1h-1zM431 306h1v1h-1zM433 306h1v1h-1zM431 308h1v1h-1zM433 308h1v1h-1zM455 296h1v1h-1zM457 296h1v1h-1zM455 298h1v1h-1zM457 298h1v1h-1zM418 304h1v1h-1zM420 304h1v1h-1zM418 306h1v1h-1zM420 306h1v1h-1zM387 299h1v1h-1zM389 299h1v1h-1zM387 301h1v1h-1zM389 301h1v1h-1zM374 303h1v1h-1zM376 303h1v1h-1zM374 305h1v1h-1zM376 305h1v1h-1zM459 301h1v1h-1zM461 301h1v1h-1zM459 303h1v1h-1zM461 303h1v1h-1zM451 301h1v1h-1zM453 301h1v1h-1zM451 303h1v1h-1zM453 303h1v1h-1zM437 299h1v1h-1zM439 299h1v1h-1zM437 301h1v1h-1zM439 301h1v1h-1zM468 308h1v1h-1zM470 308h1v1h-1zM468 310h1v1h-1zM470 310h1v1h-1zM425 302h1v1h-1zM427 302h1v1h-1zM425 304h1v1h-1zM427 304h1v1h-1zM377 303h1v1h-1zM379 303h1v1h-1zM377 305h1v1h-1zM379 305h1v1h-1zM466 296h1v1h-1zM468 296h1v1h-1zM466 298h1v1h-1zM468 298h1v1h-1zM415 303h1v1h-1zM417 303h1v1h-1zM415 305h1v1h-1zM417 305h1v1h-1zM372 299h1v1h-1zM374 299h1v1h-1zM372 301h1v1h-1zM374 301h1v1h-1zM389 293h1v1h-1zM391 293h1v1h-1zM389 295h1v1h-1zM391 295h1v1h-1zM376 304h1v1h-1zM378 304h1v1h-1zM376 306h1v1h-1zM378 306h1v1h-1zM385 295h1v1h-1zM387 295h1v1h-1zM385 297h1v1h-1zM387 297h1v1h-1zM415 306h1v1h-1zM417 306h1v1h-1zM415 308h1v1h-1zM417 308h1v1h-1zM379 299h1v1h-1zM381 299h1v1h-1zM379 301h1v1h-1zM381 301h1v1h-1zM434 306h1v1h-1zM436 306h1v1h-1zM434 308h1v1h-1zM436 308h1v1h-1zM465 306h1v1h-1zM467 306h1v1h-1zM465 308h1v1h-1zM467 308h1v1h-1zM402 298h1v1h-1zM404 298h1v1h-1zM402 300h1v1h-1zM404 300h1v1h-1zM411 306h1v1h-1zM413 306h1v1h-1zM411 308h1v1h-1zM413 308h1v1h-1zM390 295h1v1h-1zM392 295h1v1h-1zM390 297h1v1h-1zM392 297h1v1h-1zM397 299h1v1h-1zM399 299h1v1h-1zM397 301h1v1h-1zM399 301h1v1h-1zM438 295h1v1h-1zM440 295h1v1h-1zM438 297h1v1h-1zM440 297h1v1h-1zM413 301h1v1h-1zM415 301h1v1h-1zM413 303h1v1h-1zM415 303h1v1h-1zM430 302h1v1h-1zM432 302h1v1h-1zM430 304h1v1h-1zM432 304h1v1h-1zM475 305h1v1h-1zM477 305h1v1h-1zM475 307h1v1h-1zM477 307h1v1h-1zM472 305h1v1h-1zM474 305h1v1h-1zM472 307h1v1h-1zM474 307h1v1h-1zM415 298h1v1h-1zM417 298h1v1h-1zM415 300h1v1h-1zM417 300h1v1h-1zM382 302h1v1h-1zM384 302h1v1h-1zM382 304h1v1h-1zM384 304h1v1h-1zM394 293h1v1h-1zM396 293h1v1h-1zM394 295h1v1h-1zM396 295h1v1h-1zM381 297h1v1h-1zM383 297h1v1h-1zM381 299h1v1h-1zM383 299h1v1h-1zM399 297h1v1h-1zM401 297h1v1h-1zM399 299h1v1h-1zM401 299h1v1h-1zM412 293h1v1h-1zM414 293h1v1h-1zM412 295h1v1h-1zM414 295h1v1h-1zM424 299h1v1h-1zM426 299h1v1h-1zM424 301h1v1h-1zM426 301h1v1h-1zM410 295h1v1h-1zM412 295h1v1h-1zM410 297h1v1h-1zM412 297h1v1h-1zM471 303h1v1h-1zM473 303h1v1h-1zM471 305h1v1h-1zM473 305h1v1h-1zM400 297h1v1h-1zM402 297h1v1h-1zM400 299h1v1h-1zM402 299h1v1h-1zM389 304h1v1h-1zM391 304h1v1h-1zM389 306h1v1h-1zM391 306h1v1h-1zM432 305h1v1h-1zM434 305h1v1h-1zM432 307h1v1h-1zM434 307h1v1h-1zM408 295h1v1h-1zM410 295h1v1h-1zM408 297h1v1h-1zM410 297h1v1h-1zM469 305h1v1h-1zM471 305h1v1h-1zM469 307h1v1h-1zM471 307h1v1h-1zM465 304h1v1h-1zM467 304h1v1h-1zM465 306h1v1h-1zM467 306h1v1h-1zM396 300h1v1h-1zM398 300h1v1h-1zM396 302h1v1h-1zM398 302h1v1h-1zM373 296h1v1h-1zM375 296h1v1h-1zM373 298h1v1h-1zM375 298h1v1h-1zM400 303h1v1h-1zM402 303h1v1h-1zM400 305h1v1h-1zM402 305h1v1h-1zM395 295h1v1h-1zM397 295h1v1h-1zM395 297h1v1h-1zM397 297h1v1h-1zM393 294h1v1h-1zM395 294h1v1h-1zM393 296h1v1h-1zM395 296h1v1h-1zM443 307h1v1h-1zM445 307h1v1h-1zM443 309h1v1h-1zM445 309h1v1h-1zM468 299h1v1h-1zM470 299h1v1h-1zM468 301h1v1h-1zM470 301h1v1h-1zM446 305h1v1h-1zM448 305h1v1h-1zM446 307h1v1h-1zM448 307h1v1h-1zM379 302h1v1h-1zM381 302h1v1h-1zM379 304h1v1h-1zM381 304h1v1h-1zM476 305h1v1h-1zM478 305h1v1h-1zM476 307h1v1h-1zM478 307h1v1h-1zM457 299h1v1h-1zM459 299h1v1h-1zM457 301h1v1h-1zM459 301h1v1h-1zM390 305h1v1h-1zM392 305h1v1h-1zM390 307h1v1h-1zM392 307h1v1h-1zM408 305h1v1h-1zM410 305h1v1h-1zM408 307h1v1h-1zM410 307h1v1h-1zM416 308h1v1h-1zM418 308h1v1h-1zM416 310h1v1h-1zM418 310h1v1h-1zM384 293h1v1h-1zM386 293h1v1h-1zM384 295h1v1h-1zM386 295h1v1h-1zM475 305h1v1h-1zM477 305h1v1h-1zM475 307h1v1h-1zM477 307h1v1h-1zM387 305h1v1h-1zM389 305h1v1h-1zM387 307h1v1h-1zM389 307h1v1h-1zM410 300h1v1h-1zM412 300h1v1h-1zM410 302h1v1h-1zM412 302h1v1h-1zM431 307h1v1h-1zM433 307h1v1h-1zM431 309h1v1h-1zM433 309h1v1h-1zM420 306h1v1h-1zM422 306h1v1h-1zM420 308h1v1h-1zM422 308h1v1h-1zM399 296h1v1h-1zM401 296h1v1h-1zM399 298h1v1h-1zM401 298h1v1h-1zM398 301h1v1h-1zM400 301h1v1h-1zM398 303h1v1h-1zM400 303h1v1h-1zM400 298h1v1h-1zM402 298h1v1h-1zM400 300h1v1h-1zM402 300h1v1h-1zM385 307h1v1h-1zM387 307h1v1h-1zM385 309h1v1h-1zM387 309h1v1h-1zM411 299h1v1h-1zM413 299h1v1h-1zM411 301h1v1h-1zM413 301h1v1h-1zM438 307h1v1h-1zM440 307h1v1h-1zM438 309h1v1h-1zM440 309h1v1h-1zM419 307h1v1h-1zM421 307h1v1h-1zM419 309h1v1h-1zM421 309h1v1h-1zM428 300h1v1h-1zM430 300h1v1h-1zM428 302h1v1h-1zM430 302h1v1h-1zM421 294h1v1h-1zM423 294h1v1h-1zM421 296h1v1h-1zM423 296h1v1h-1zM390 299h1v1h-1zM392 299h1v1h-1zM390 301h1v1h-1zM392 301h1v1h-1zM454 301h1v1h-1zM456 301h1v1h-1zM454 303h1v1h-1zM456 303h1v1h-1zM408 300h1v1h-1zM410 300h1v1h-1zM408 302h1v1h-1zM410 302h1v1h-1zM434 305h1v1h-1zM436 305h1v1h-1zM434 307h1v1h-1zM436 307h1v1h-1zM382 301h1v1h-1zM384 301h1v1h-1zM382 303h1v1h-1zM384 303h1v1h-1zM399 295h1v1h-1zM401 295h1v1h-1zM399 297h1v1h-1zM401 297h1v1h-1zM460 300h1v1h-1zM462 300h1v1h-1zM460 302h1v1h-1zM462 302h1v1h-1zM435 304h1v1h-1zM437 304h1v1h-1zM435 306h1v1h-1zM437 306h1v1h-1zM441 300h1v1h-1zM443 300h1v1h-1zM441 302h1v1h-1zM443 302h1v1h-1zM429 303h1v1h-1zM431 303h1v1h-1zM429 305h1v1h-1zM431 305h1v1h-1zM422 300h1v1h-1zM424 300h1v1h-1zM422 302h1v1h-1zM424 302h1v1h-1zM425 307h1v1h-1zM427 307h1v1h-1zM425 309h1v1h-1zM427 309h1v1h-1zM451 306h1v1h-1zM453 306h1v1h-1zM451 308h1v1h-1zM453 308h1v1h-1zM435 307h1v1h-1zM437 307h1v1h-1zM435 309h1v1h-1zM437 309h1v1h-1zM384 298h1v1h-1zM386 298h1v1h-1zM384 300h1v1h-1zM386 300h1v1h-1zM378 295h1v1h-1zM380 295h1v1h-1zM378 297h1v1h-1zM380 297h1v1h-1zM378 303h1v1h-1zM380 303h1v1h-1zM378 305h1v1h-1zM380 305h1v1h-1zM461 307h1v1h-1zM463 307h1v1h-1zM461 309h1v1h-1zM463 309h1v1h-1zM388 303h1v1h-1zM390 303h1v1h-1zM388 305h1v1h-1zM390 305h1v1h-1zM473 308h1v1h-1zM475 308h1v1h-1zM473 310h1v1h-1zM475 310h1v1h-1zM395 308h1v1h-1zM397 308h1v1h-1zM395 310h1v1h-1zM397 310h1v1h-1zM416 299h1v1h-1zM418 299h1v1h-1zM416 301h1v1h-1zM418 301h1v1h-1zM485 305h1v1h-1zM487 305h1v1h-1zM485 307h1v1h-1zM487 307h1v1h-1zM388 298h1v1h-1zM390 298h1v1h-1zM388 300h1v1h-1zM390 300h1v1h-1zM430 297h1v1h-1zM432 297h1v1h-1zM430 299h1v1h-1zM432 299h1v1h-1zM392 296h1v1h-1zM394 296h1v1h-1zM392 298h1v1h-1zM394 298h1v1h-1zM434 298h1v1h-1zM436 298h1v1h-1zM434 300h1v1h-1zM436 300h1v1h-1zM372 296h1v1h-1zM374 296h1v1h-1zM372 298h1v1h-1zM374 298h1v1h-1zM442 300h1v1h-1zM444 300h1v1h-1zM442 302h1v1h-1zM444 302h1v1h-1zM462 308h1v1h-1zM464 308h1v1h-1zM462 310h1v1h-1zM464 310h1v1h-1zM382 295h1v1h-1zM384 295h1v1h-1zM382 297h1v1h-1zM384 297h1v1h-1zM374 305h1v1h-1zM376 305h1v1h-1zM374 307h1v1h-1zM376 307h1v1h-1zM401 293h1v1h-1zM403 293h1v1h-1zM401 295h1v1h-1zM403 295h1v1h-1zM419 307h1v1h-1zM421 307h1v1h-1zM419 309h1v1h-1zM421 309h1v1h-1zM387 307h1v1h-1zM389 307h1v1h-1zM387 309h1v1h-1zM389 309h1v1h-1zM436 303h1v1h-1zM438 303h1v1h-1zM436 305h1v1h-1zM438 305h1v1h-1zM450 298h1v1h-1zM452 298h1v1h-1zM450 300h1v1h-1zM452 300h1v1h-1zM444 305h1v1h-1zM446 305h1v1h-1zM444 307h1v1h-1zM446 307h1v1h-1zM423 297h1v1h-1zM425 297h1v1h-1zM423 299h1v1h-1zM425 299h1v1h-1zM434 307h1v1h-1zM436 307h1v1h-1zM434 309h1v1h-1zM436 309h1v1h-1zM401 293h1v1h-1zM403 293h1v1h-1zM401 295h1v1h-1zM403 295h1v1h-1zM431 295h1v1h-1zM433 295h1v1h-1zM431 297h1v1h-1zM433 297h1v1h-1zM382 293h1v1h-1zM384 293h1v1h-1zM382 295h1v1h-1zM384 295h1v1h-1zM375 294h1v1h-1zM377 294h1v1h-1zM375 296h1v1h-1zM377 296h1v1h-1zM406 296h1v1h-1zM408 296h1v1h-1zM406 298h1v1h-1zM408 298h1v1h-1zM458 296h1v1h-1zM460 296h1v1h-1zM458 298h1v1h-1zM460 298h1v1h-1zM428 294h1v1h-1zM430 294h1v1h-1zM428 296h1v1h-1zM430 296h1v1h-1zM455 300h1v1h-1zM457 300h1v1h-1zM455 302h1v1h-1zM457 302h1v1h-1zM392 299h1v1h-1zM394 299h1v1h-1zM392 301h1v1h-1zM394 301h1v1h-1zM465 298h1v1h-1zM467 298h1v1h-1zM465 300h1v1h-1zM467 300h1v1h-1zM427 306h1v1h-1zM429 306h1v1h-1zM427 308h1v1h-1zM429 308h1v1h-1zM415 300h1v1h-1zM417 300h1v1h-1zM415 302h1v1h-1zM417 302h1v1h-1zM410 305h1v1h-1zM412 305h1v1h-1zM410 307h1v1h-1zM412 307h1v1h-1zM452 302h1v1h-1zM454 302h1v1h-1zM452 304h1v1h-1zM454 304h1v1h-1zM417 297h1v1h-1zM419 297h1v1h-1zM417 299h1v1h-1zM419 299h1v1h-1zM376 293h1v1h-1zM378 293h1v1h-1zM376 295h1v1h-1zM378 295h1v1h-1zM378 304h1v1h-1zM380 304h1v1h-1zM378 306h1v1h-1zM380 306h1v1h-1zM399 293h1v1h-1zM401 293h1v1h-1zM399 295h1v1h-1zM401 295h1v1h-1zM471 303h1v1h-1zM473 303h1v1h-1zM471 305h1v1h-1zM473 305h1v1h-1zM402 295h1v1h-1zM404 295h1v1h-1zM402 297h1v1h-1zM404 297h1v1h-1zM404 299h1v1h-1zM406 299h1v1h-1zM404 301h1v1h-1zM406 301h1v1h-1zM388 299h1v1h-1zM390 299h1v1h-1zM388 301h1v1h-1zM390 301h1v1h-1zM400 308h1v1h-1zM402 308h1v1h-1zM400 310h1v1h-1zM402 310h1v1h-1zM398 308h1v1h-1zM400 308h1v1h-1zM398 310h1v1h-1zM400 310h1v1h-1zM406 297h1v1h-1zM408 297h1v1h-1zM406 299h1v1h-1zM408 299h1v1h-1zM425 300h1v1h-1zM427 300h1v1h-1zM425 302h1v1h-1zM427 302h1v1h-1zM393 300h1v1h-1zM395 300h1v1h-1zM393 302h1v1h-1zM395 302h1v1h-1zM380 298h1v1h-1zM382 298h1v1h-1zM380 300h1v1h-1zM382 300h1v1h-1zM405 295h1v1h-1zM407 295h1v1h-1zM405 297h1v1h-1zM407 297h1v1h-1zM438 300h1v1h-1zM440 300h1v1h-1zM438 302h1v1h-1zM440 302h1v1h-1zM457 302h1v1h-1zM459 302h1v1h-1zM457 304h1v1h-1zM459 304h1v1h-1zM453 306h1v1h-1zM455 306h1v1h-1zM453 308h1v1h-1zM455 308h1v1h-1zM415 296h1v1h-1zM417 296h1v1h-1zM415 298h1v1h-1zM417 298h1v1h-1zM454 302h1v1h-1zM456 302h1v1h-1zM454 304h1v1h-1zM456 304h1v1h-1zM474 302h1v1h-1zM476 302h1v1h-1zM474 304h1v1h-1zM476 304h1v1h-1zM455 305h1v1h-1zM457 305h1v1h-1zM455 307h1v1h-1zM457 307h1v1h-1zM386 300h1v1h-1zM388 300h1v1h-1zM386 302h1v1h-1zM388 302h1v1h-1zM429 306h1v1h-1zM431 306h1v1h-1zM429 308h1v1h-1zM431 308h1v1h-1zM464 305h1v1h-1zM466 305h1v1h-1zM464 307h1v1h-1zM466 307h1v1h-1zM438 307h1v1h-1zM440 307h1v1h-1zM438 309h1v1h-1zM440 309h1v1h-1zM449 303h1v1h-1zM451 303h1v1h-1zM449 305h1v1h-1zM451 305h1v1h-1zM385 297h1v1h-1zM387 297h1v1h-1zM385 299h1v1h-1zM387 299h1v1h-1zM435 302h1v1h-1zM437 302h1v1h-1zM435 304h1v1h-1zM437 304h1v1h-1zM443 303h1v1h-1zM445 303h1v1h-1zM443 305h1v1h-1zM445 305h1v1h-1zM463 304h1v1h-1zM465 304h1v1h-1zM463 306h1v1h-1zM465 306h1v1h-1zM428 300h1v1h-1zM430 300h1v1h-1zM428 302h1v1h-1zM430 302h1v1h-1zM456 295h1v1h-1zM458 295h1v1h-1zM456 297h1v1h-1zM458 297h1v1h-1zM378 295h1v1h-1zM380 295h1v1h-1zM378 297h1v1h-1zM380 297h1v1h-1zM427 297h1v1h-1zM429 297h1v1h-1zM427 299h1v1h-1zM429 299h1v1h-1zM426 303h1v1h-1zM428 303h1v1h-1zM426 305h1v1h-1zM428 305h1v1h-1zM459 302h1v1h-1zM461 302h1v1h-1zM459 304h1v1h-1zM461 304h1v1h-1zM387 295h1v1h-1zM389 295h1v1h-1zM387 297h1v1h-1zM389 297h1v1h-1zM456 296h1v1h-1zM458 296h1v1h-1zM456 298h1v1h-1zM458 298h1v1h-1zM377 295h1v1h-1zM379 295h1v1h-1zM377 297h1v1h-1zM379 297h1v1h-1zM448 303h1v1h-1zM450 303h1v1h-1zM448 305h1v1h-1zM450 305h1v1h-1zM449 296h1v1h-1zM451 296h1v1h-1zM449 298h1v1h-1zM451 298h1v1h-1zM430 299h1v1h-1zM432 299h1v1h-1zM430 301h1v1h-1zM432 301h1v1h-1zM484 307h1v1h-1zM486 307h1v1h-1zM484 309h1v1h-1zM486 309h1v1h-1zM372 299h1v1h-1zM374 299h1v1h-1zM372 301h1v1h-1zM374 301h1v1h-1zM465 308h1v1h-1zM467 308h1v1h-1zM465 310h1v1h-1zM467 310h1v1h-1zM422 295h1v1h-1zM424 295h1v1h-1zM422 297h1v1h-1zM424 297h1v1h-1zM394 308h1v1h-1zM396 308h1v1h-1zM394 310h1v1h-1zM396 310h1v1h-1zM394 301h1v1h-1zM396 301h1v1h-1zM394 303h1v1h-1zM396 303h1v1h-1zM386 300h1v1h-1zM388 300h1v1h-1zM386 302h1v1h-1zM388 302h1v1h-1zM465 300h1v1h-1zM467 300h1v1h-1zM465 302h1v1h-1zM467 302h1v1h-1zM473 303h1v1h-1zM475 303h1v1h-1zM473 305h1v1h-1zM475 305h1v1h-1zM397 307h1v1h-1zM399 307h1v1h-1zM397 309h1v1h-1zM399 309h1v1h-1zM422 296h1v1h-1zM424 296h1v1h-1zM422 298h1v1h-1zM424 298h1v1h-1zM386 297h1v1h-1zM388 297h1v1h-1zM386 299h1v1h-1zM388 299h1v1h-1zM406 306h1v1h-1zM408 306h1v1h-1zM406 308h1v1h-1zM408 308h1v1h-1zM478 303h1v1h-1zM480 303h1v1h-1zM478 305h1v1h-1zM480 305h1v1h-1zM413 298h1v1h-1zM415 298h1v1h-1zM413 300h1v1h-1zM415 300h1v1h-1zM412 298h1v1h-1zM414 298h1v1h-1zM412 300h1v1h-1zM414 300h1v1h-1zM403 307h1v1h-1zM405 307h1v1h-1zM403 309h1v1h-1zM405 309h1v1h-1zM399 295h1v1h-1zM401 295h1v1h-1zM399 297h1v1h-1zM401 297h1v1h-1zM429 294h1v1h-1zM431 294h1v1h-1zM429 296h1v1h-1zM431 296h1v1h-1zM413 308h1v1h-1zM415 308h1v1h-1zM413 310h1v1h-1zM415 310h1v1h-1zM473 305h1v1h-1zM475 305h1v1h-1zM473 307h1v1h-1zM475 307h1v1h-1zM443 307h1v1h-1zM445 307h1v1h-1zM443 309h1v1h-1zM445 309h1v1h-1zM455 299h1v1h-1zM457 299h1v1h-1zM455 301h1v1h-1zM457 301h1v1h-1zM458 302h1v1h-1zM460 302h1v1h-1zM458 304h1v1h-1zM460 304h1v1h-1zM425 297h1v1h-1zM427 297h1v1h-1zM425 299h1v1h-1zM427 299h1v1h-1zM404 304h1v1h-1zM406 304h1v1h-1zM404 306h1v1h-1zM406 306h1v1h-1zM446 296h1v1h-1zM448 296h1v1h-1zM446 298h1v1h-1zM448 298h1v1h-1zM435 298h1v1h-1zM437 298h1v1h-1zM435 300h1v1h-1zM437 300h1v1h-1zM389 293h1v1h-1zM391 293h1v1h-1zM389 295h1v1h-1zM391 295h1v1h-1zM394 307h1v1h-1zM396 307h1v1h-1zM394 309h1v1h-1zM396 309h1v1h-1zM428 294h1v1h-1zM430 294h1v1h-1zM428 296h1v1h-1zM430 296h1v1h-1zM422 293h1v1h-1zM424 293h1v1h-1zM422 295h1v1h-1zM424 295h1v1h-1zM397 295h1v1h-1zM399 295h1v1h-1zM397 297h1v1h-1zM399 297h1v1h-1zM436 306h1v1h-1zM438 306h1v1h-1zM436 308h1v1h-1zM438 308h1v1h-1zM457 298h1v1h-1zM459 298h1v1h-1zM457 300h1v1h-1zM459 300h1v1h-1zM418 300h1v1h-1zM420 300h1v1h-1zM418 302h1v1h-1zM420 302h1v1h-1zM414 297h1v1h-1zM416 297h1v1h-1zM414 299h1v1h-1zM416 299h1v1h-1zM377 295h1v1h-1zM379 295h1v1h-1zM377 297h1v1h-1zM379 297h1v1h-1zM428 302h1v1h-1zM430 302h1v1h-1zM428 304h1v1h-1zM430 304h1v1h-1zM401 295h1v1h-1zM403 295h1v1h-1zM401 297h1v1h-1zM403 297h1v1h-1zM416 299h1v1h-1zM418 299h1v1h-1zM416 301h1v1h-1zM418 301h1v1h-1zM481 306h1v1h-1zM483 306h1v1h-1zM481 308h1v1h-1zM483 308h1v1h-1zM373 303h1v1h-1zM375 303h1v1h-1zM373 305h1v1h-1zM375 305h1v1h-1zM415 307h1v1h-1zM417 307h1v1h-1zM415 309h1v1h-1zM417 309h1v1h-1zM466 306h1v1h-1zM468 306h1v1h-1zM466 308h1v1h-1zM468 308h1v1h-1zM382 293h1v1h-1zM384 293h1v1h-1zM382 295h1v1h-1zM384 295h1v1h-1zM431 303h1v1h-1zM433 303h1v1h-1zM431 305h1v1h-1zM433 305h1v1h-1zM480 303h1v1h-1zM482 303h1v1h-1zM480 305h1v1h-1zM482 305h1v1h-1zM445 304h1v1h-1zM447 304h1v1h-1zM445 306h1v1h-1zM447 306h1v1h-1zM423 300h1v1h-1zM425 300h1v1h-1zM423 302h1v1h-1zM425 302h1v1h-1zM374 305h1v1h-1zM376 305h1v1h-1zM374 307h1v1h-1zM376 307h1v1h-1zM397 307h1v1h-1zM399 307h1v1h-1zM397 309h1v1h-1zM399 309h1v1h-1zM445 296h1v1h-1zM447 296h1v1h-1zM445 298h1v1h-1zM447 298h1v1h-1zM384 295h1v1h-1zM386 295h1v1h-1zM384 297h1v1h-1zM386 297h1v1h-1zM444 303h1v1h-1zM446 303h1v1h-1zM444 305h1v1h-1zM446 305h1v1h-1zM431 301h1v1h-1zM433 301h1v1h-1zM431 303h1v1h-1zM433 303h1v1h-1zM415 295h1v1h-1zM417 295h1v1h-1zM415 297h1v1h-1zM417 297h1v1h-1zM405 299h1v1h-1zM407 299h1v1h-1zM405 301h1v1h-1zM407 301h1v1h-1zM473 299h1v1h-1zM475 299h1v1h-1zM473 301h1v1h-1zM475 301h1v1h-1zM397 295h1v1h-1zM399 295h1v1h-1zM397 297h1v1h-1zM399 297h1v1h-1zM428 303h1v1h-1zM430 303h1v1h-1zM428 305h1v1h-1zM430 305h1v1h-1zM419 295h1v1h-1zM421 295h1v1h-1zM419 297h1v1h-1zM421 297h1v1h-1zM448 307h1v1h-1zM450 307h1v1h-1zM448 309h1v1h-1zM450 309h1v1h-1zM409 298h1v1h-1zM411 298h1v1h-1zM409 300h1v1h-1zM411 300h1v1h-1zM463 304h1v1h-1zM465 304h1v1h-1zM463 306h1v1h-1zM465 306h1v1h-1zM429 294h1v1h-1zM431 294h1v1h-1zM429 296h1v1h-1zM431 296h1v1h-1zM395 304h1v1h-1zM397 304h1v1h-1zM395 306h1v1h-1zM397 306h1v1h-1zM404 308h1v1h-1zM406 308h1v1h-1zM404 310h1v1h-1zM406 310h1v1h-1zM428 294h1v1h-1zM430 294h1v1h-1zM428 296h1v1h-1zM430 296h1v1h-1zM396 298h1v1h-1zM398 298h1v1h-1zM396 300h1v1h-1zM398 300h1v1h-1zM447 308h1v1h-1zM449 308h1v1h-1zM447 310h1v1h-1zM449 310h1v1h-1zM387 298h1v1h-1zM389 298h1v1h-1zM387 300h1v1h-1zM389 300h1v1h-1zM377 298h1v1h-1zM379 298h1v1h-1zM377 300h1v1h-1zM379 300h1v1h-1zM475 306h1v1h-1zM477 306h1v1h-1zM475 308h1v1h-1zM477 308h1v1h-1zM391 307h1v1h-1zM393 307h1v1h-1zM391 309h1v1h-1zM393 309h1v1h-1zM447 297h1v1h-1zM449 297h1v1h-1zM447 299h1v1h-1zM449 299h1v1h-1zM413 296h1v1h-1zM415 296h1v1h-1zM413 298h1v1h-1zM415 298h1v1h-1zM402 297h1v1h-1zM404 297h1v1h-1zM402 299h1v1h-1zM404 299h1v1h-1zM411 305h1v1h-1zM413 305h1v1h-1zM411 307h1v1h-1zM413 307h1v1h-1zM466 298h1v1h-1zM468 298h1v1h-1zM466 300h1v1h-1zM468 300h1v1h-1zM375 299h1v1h-1zM377 299h1v1h-1zM375 301h1v1h-1zM377 301h1v1h-1zM413 307h1v1h-1zM415 307h1v1h-1zM413 309h1v1h-1zM415 309h1v1h-1zM392 297h1v1h-1zM394 297h1v1h-1zM392 299h1v1h-1zM394 299h1v1h-1zM418 305h1v1h-1zM420 305h1v1h-1zM418 307h1v1h-1zM420 307h1v1h-1zM457 307h1v1h-1zM459 307h1v1h-1zM457 309h1v1h-1zM459 309h1v1h-1zM409 295h1v1h-1zM411 295h1v1h-1zM409 297h1v1h-1zM411 297h1v1h-1zM400 303h1v1h-1zM402 303h1v1h-1zM400 305h1v1h-1zM402 305h1v1h-1zM407 295h1v1h-1zM409 295h1v1h-1zM407 297h1v1h-1zM409 297h1v1h-1zM477 302h1v1h-1zM479 302h1v1h-1zM477 304h1v1h-1zM479 304h1v1h-1zM397 299h1v1h-1zM399 299h1v1h-1zM397 301h1v1h-1zM399 301h1v1h-1zM481 308h1v1h-1zM483 308h1v1h-1zM481 310h1v1h-1zM483 310h1v1h-1zM415 295h1v1h-1zM417 295h1v1h-1zM415 297h1v1h-1zM417 297h1v1h-1zM420 299h1v1h-1zM422 299h1v1h-1zM420 301h1v1h-1zM422 301h1v1h-1zM463 304h1v1h-1zM465 304h1v1h-1zM463 306h1v1h-1zM465 306h1v1h-1zM466 304h1v1h-1zM468 304h1v1h-1zM466 306h1v1h-1zM468 306h1v1h-1zM441 296h1v1h-1zM443 296h1v1h-1zM441 298h1v1h-1zM443 298h1v1h-1zM407 297h1v1h-1zM409 297h1v1h-1zM407 299h1v1h-1zM409 299h1v1h-1zM393 304h1v1h-1zM395 304h1v1h-1zM393 306h1v1h-1zM395 306h1v1h-1zM373 300h1v1h-1zM375 300h1v1h-1zM373 302h1v1h-1zM375 302h1v1h-1zM381 299h1v1h-1zM383 299h1v1h-1zM381 301h1v1h-1zM383 301h1v1h-1zM453 299h1v1h-1zM455 299h1v1h-1zM453 301h1v1h-1zM455 301h1v1h-1zM397 298h1v1h-1zM399 298h1v1h-1zM397 300h1v1h-1zM399 300h1v1h-1zM442 303h1v1h-1zM444 303h1v1h-1zM442 305h1v1h-1zM444 305h1v1h-1zM457 306h1v1h-1zM459 306h1v1h-1zM457 308h1v1h-1zM459 308h1v1h-1zM436 297h1v1h-1zM438 297h1v1h-1zM436 299h1v1h-1zM438 299h1v1h-1zM398 295h1v1h-1zM400 295h1v1h-1zM398 297h1v1h-1zM400 297h1v1h-1zM387 306h1v1h-1zM389 306h1v1h-1zM387 308h1v1h-1zM389 308h1v1h-1zM437 296h1v1h-1zM439 296h1v1h-1zM437 298h1v1h-1zM439 298h1v1h-1zM429 295h1v1h-1zM431 295h1v1h-1zM429 297h1v1h-1zM431 297h1v1h-1zM464 302h1v1h-1zM466 302h1v1h-1zM464 304h1v1h-1zM466 304h1v1h-1zM425 305h1v1h-1zM427 305h1v1h-1zM425 307h1v1h-1zM427 307h1v1h-1zM468 307h1v1h-1zM470 307h1v1h-1zM468 309h1v1h-1zM470 309h1v1h-1zM374 296h1v1h-1zM376 296h1v1h-1zM374 298h1v1h-1zM376 298h1v1h-1zM383 294h1v1h-1zM385 294h1v1h-1zM383 296h1v1h-1zM385 296h1v1h-1zM471 299h1v1h-1zM473 299h1v1h-1zM471 301h1v1h-1zM473 301h1v1h-1zM400 304h1v1h-1zM402 304h1v1h-1zM400 306h1v1h-1zM402 306h1v1h-1zM439 302h1v1h-1zM441 302h1v1h-1zM439 304h1v1h-1zM441 304h1v1h-1zM395 297h1v1h-1zM397 297h1v1h-1zM395 299h1v1h-1zM397 299h1v1h-1zM386 294h1v1h-1zM388 294h1v1h-1zM386 296h1v1h-1zM388 296h1v1h-1zM399 301h1v1h-1zM401 301h1v1h-1zM399 303h1v1h-1zM401 303h1v1h-1zM371 296h1v1h-1zM373 296h1v1h-1zM371 298h1v1h-1zM373 298h1v1h-1zM406 294h1v1h-1zM408 294h1v1h-1zM406 296h1v1h-1zM408 296h1v1h-1zM463 300h1v1h-1zM465 300h1v1h-1zM463 302h1v1h-1zM465 302h1v1h-1zM416 300h1v1h-1zM418 300h1v1h-1zM416 302h1v1h-1zM418 302h1v1h-1zM389 303h1v1h-1zM391 303h1v1h-1zM389 305h1v1h-1zM391 305h1v1h-1zM417 296h1v1h-1zM419 296h1v1h-1zM417 298h1v1h-1zM419 298h1v1h-1zM405 308h1v1h-1zM407 308h1v1h-1zM405 310h1v1h-1zM407 310h1v1h-1zM406 301h1v1h-1zM408 301h1v1h-1zM406 303h1v1h-1zM408 303h1v1h-1zM411 298h1v1h-1zM413 298h1v1h-1zM411 300h1v1h-1zM413 300h1v1h-1zM412 294h1v1h-1zM414 294h1v1h-1zM412 296h1v1h-1zM414 296h1v1h-1zM419 305h1v1h-1zM421 305h1v1h-1zM419 307h1v1h-1zM421 307h1v1h-1zM417 306h1v1h-1zM419 306h1v1h-1zM417 308h1v1h-1zM419 308h1v1h-1zM423 293h1v1h-1zM425 293h1v1h-1zM423 295h1v1h-1zM425 295h1v1h-1zM371 300h1v1h-1zM373 300h1v1h-1zM371 302h1v1h-1zM373 302h1v1h-1zM444 307h1v1h-1zM446 307h1v1h-1zM444 309h1v1h-1zM446 309h1v1h-1zM380 302h1v1h-1zM382 302h1v1h-1zM380 304h1v1h-1zM382 304h1v1h-1zM413 300h1v1h-1zM415 300h1v1h-1zM413 302h1v1h-1zM415 302h1v1h-1zM387 296h1v1h-1zM389 296h1v1h-1zM387 298h1v1h-1zM389 298h1v1h-1zM430 307h1v1h-1zM432 307h1v1h-1zM430 309h1v1h-1zM432 309h1v1h-1zM382 299h1v1h-1zM384 299h1v1h-1zM382 301h1v1h-1zM384 301h1v1h-1zM464 308h1v1h-1zM466 308h1v1h-1zM464 310h1v1h-1zM466 310h1v1h-1zM393 293h1v1h-1zM395 293h1v1h-1zM393 295h1v1h-1zM395 295h1v1h-1zM475 302h1v1h-1zM477 302h1v1h-1zM475 304h1v1h-1zM477 304h1v1h-1zM417 306h1v1h-1zM419 306h1v1h-1zM417 308h1v1h-1zM419 308h1v1h-1zM395 298h1v1h-1zM397 298h1v1h-1zM395 300h1v1h-1zM397 300h1v1h-1zM430 297h1v1h-1zM432 297h1v1h-1zM430 299h1v1h-1zM432 299h1v1h-1zM384 295h1v1h-1zM386 295h1v1h-1zM384 297h1v1h-1zM386 297h1v1h-1zM454 307h1v1h-1zM456 307h1v1h-1zM454 309h1v1h-1zM456 309h1v1h-1zM374 301h1v1h-1zM376 301h1v1h-1zM374 303h1v1h-1zM376 303h1v1h-1zM440 300h1v1h-1zM442 300h1v1h-1zM440 302h1v1h-1zM442 302h1v1h-1zM443 296h1v1h-1zM445 296h1v1h-1zM443 298h1v1h-1zM445 298h1v1h-1zM419 301h1v1h-1zM421 301h1v1h-1zM419 303h1v1h-1zM421 303h1v1h-1zM419 302h1v1h-1zM421 302h1v1h-1zM419 304h1v1h-1zM421 304h1v1h-1zM422 298h1v1h-1zM424 298h1v1h-1zM422 300h1v1h-1zM424 300h1v1h-1zM372 302h1v1h-1zM374 302h1v1h-1zM372 304h1v1h-1zM374 304h1v1h-1zM427 295h1v1h-1zM429 295h1v1h-1zM427 297h1v1h-1zM429 297h1v1h-1zM459 305h1v1h-1zM461 305h1v1h-1zM459 307h1v1h-1zM461 307h1v1h-1zM423 294h1v1h-1zM425 294h1v1h-1zM423 296h1v1h-1zM425 296h1v1h-1zM385 298h1v1h-1zM387 298h1v1h-1zM385 300h1v1h-1zM387 300h1v1h-1zM380 298h1v1h-1zM382 298h1v1h-1zM380 300h1v1h-1zM382 300h1v1h-1zM455 304h1v1h-1zM457 304h1v1h-1zM455 306h1v1h-1zM457 306h1v1h-1zM428 297h1v1h-1zM430 297h1v1h-1zM428 299h1v1h-1zM430 299h1v1h-1zM455 305h1v1h-1zM457 305h1v1h-1zM455 307h1v1h-1zM457 307h1v1h-1zM427 308h1v1h-1zM429 308h1v1h-1zM427 310h1v1h-1zM429 310h1v1h-1zM462 307h1v1h-1zM464 307h1v1h-1zM462 309h1v1h-1zM464 309h1v1h-1zM377 297h1v1h-1zM379 297h1v1h-1zM377 299h1v1h-1zM379 299h1v1h-1zM428 307h1v1h-1zM430 307h1v1h-1zM428 309h1v1h-1zM430 309h1v1h-1zM394 295h1v1h-1zM396 295h1v1h-1zM394 297h1v1h-1zM396 297h1v1h-1zM429 296h1v1h-1zM431 296h1v1h-1zM429 298h1v1h-1zM431 298h1v1h-1zM374 294h1v1h-1zM376 294h1v1h-1zM374 296h1v1h-1zM376 296h1v1h-1zM388 307h1v1h-1zM390 307h1v1h-1zM388 309h1v1h-1zM390 309h1v1h-1zM449 307h1v1h-1zM451 307h1v1h-1zM449 309h1v1h-1zM451 309h1v1h-1zM389 305h1v1h-1zM391 305h1v1h-1zM389 307h1v1h-1zM391 307h1v1h-1zM383 300h1v1h-1zM385 300h1v1h-1zM383 302h1v1h-1zM385 302h1v1h-1zM444 297h1v1h-1zM446 297h1v1h-1zM444 299h1v1h-1zM446 299h1v1h-1zM472 300h1v1h-1zM474 300h1v1h-1zM472 302h1v1h-1zM474 302h1v1h-1zM437 306h1v1h-1zM439 306h1v1h-1zM437 308h1v1h-1zM439 308h1v1h-1zM443 298h1v1h-1zM445 298h1v1h-1zM443 300h1v1h-1zM445 300h1v1h-1zM412 304h1v1h-1zM414 304h1v1h-1zM412 306h1v1h-1zM414 306h1v1h-1zM421 294h1v1h-1zM423 294h1v1h-1zM421 296h1v1h-1zM423 296h1v1h-1zM438 302h1v1h-1zM440 302h1v1h-1zM438 304h1v1h-1zM440 304h1v1h-1zM373 293h1v1h-1zM375 293h1v1h-1zM373 295h1v1h-1zM375 295h1v1h-1zM442 298h1v1h-1zM444 298h1v1h-1zM442 300h1v1h-1zM444 300h1v1h-1zM429 307h1v1h-1zM431 307h1v1h-1zM429 309h1v1h-1zM431 309h1v1h-1zM385 295h1v1h-1zM387 295h1v1h-1zM385 297h1v1h-1zM387 297h1v1h-1zM382 297h1v1h-1zM384 297h1v1h-1zM382 299h1v1h-1zM384 299h1v1h-1zM396 301h1v1h-1zM398 301h1v1h-1zM396 303h1v1h-1zM398 303h1v1h-1zM438 294h1v1h-1zM440 294h1v1h-1zM438 296h1v1h-1zM440 296h1v1h-1zM442 299h1v1h-1zM444 299h1v1h-1zM442 301h1v1h-1zM444 301h1v1h-1zM385 307h1v1h-1zM387 307h1v1h-1zM385 309h1v1h-1zM387 309h1v1h-1zM398 293h1v1h-1zM400 293h1v1h-1zM398 295h1v1h-1zM400 295h1v1h-1zM381 302h1v1h-1zM383 302h1v1h-1zM381 304h1v1h-1zM383 304h1v1h-1zM471 305h1v1h-1zM473 305h1v1h-1zM471 307h1v1h-1zM473 307h1v1h-1zM417 295h1v1h-1zM419 295h1v1h-1zM417 297h1v1h-1zM419 297h1v1h-1zM371 302h1v1h-1zM373 302h1v1h-1zM371 304h1v1h-1zM373 304h1v1h-1zM435 297h1v1h-1zM437 297h1v1h-1zM435 299h1v1h-1zM437 299h1v1h-1zM445 298h1v1h-1zM447 298h1v1h-1zM445 300h1v1h-1zM447 300h1v1h-1zM479 304h1v1h-1zM481 304h1v1h-1zM479 306h1v1h-1zM481 306h1v1h-1zM399 307h1v1h-1zM401 307h1v1h-1zM399 309h1v1h-1zM401 309h1v1h-1zM375 300h1v1h-1zM377 300h1v1h-1zM375 302h1v1h-1zM377 302h1v1h-1zM417 295h1v1h-1zM419 295h1v1h-1zM417 297h1v1h-1zM419 297h1v1h-1zM376 305h1v1h-1zM378 305h1v1h-1zM376 307h1v1h-1zM378 307h1v1h-1zM371 300h1v1h-1zM373 300h1v1h-1zM371 302h1v1h-1zM373 302h1v1h-1zM393 301h1v1h-1zM395 301h1v1h-1zM393 303h1v1h-1zM395 303h1v1h-1zM429 302h1v1h-1zM431 302h1v1h-1zM429 304h1v1h-1zM431 304h1v1h-1zM406 296h1v1h-1zM408 296h1v1h-1zM406 298h1v1h-1zM408 298h1v1h-1zM461 303h1v1h-1zM463 303h1v1h-1zM461 305h1v1h-1zM463 305h1v1h-1zM457 299h1v1h-1zM459 299h1v1h-1zM457 301h1v1h-1zM459 301h1v1h-1zM456 299h1v1h-1zM458 299h1v1h-1zM456 301h1v1h-1zM458 301h1v1h-1zM409 304h1v1h-1zM411 304h1v1h-1zM409 306h1v1h-1zM411 306h1v1h-1zM451 306h1v1h-1zM453 306h1v1h-1zM451 308h1v1h-1zM453 308h1v1h-1zM453 295h1v1h-1zM455 295h1v1h-1zM453 297h1v1h-1zM455 297h1v1h-1zM434 298h1v1h-1zM436 298h1v1h-1zM434 300h1v1h-1zM436 300h1v1h-1zM462 300h1v1h-1zM464 300h1v1h-1zM462 302h1v1h-1zM464 302h1v1h-1zM401 302h1v1h-1zM403 302h1v1h-1zM401 304h1v1h-1zM403 304h1v1h-1zM400 295h1v1h-1zM402 295h1v1h-1zM400 297h1v1h-1zM402 297h1v1h-1zM457 308h1v1h-1zM459 308h1v1h-1zM457 310h1v1h-1zM459 310h1v1h-1zM457 296h1v1h-1zM459 296h1v1h-1zM457 298h1v1h-1zM459 298h1v1h-1zM397 307h1v1h-1zM399 307h1v1h-1zM397 309h1v1h-1zM399 309h1v1h-1zM443 303h1v1h-1zM445 303h1v1h-1zM443 305h1v1h-1zM445 305h1v1h-1zM424 306h1v1h-1zM426 306h1v1h-1zM424 308h1v1h-1zM426 308h1v1h-1zM451 306h1v1h-1zM453 306h1v1h-1zM451 308h1v1h-1zM453 308h1v1h-1zM421 304h1v1h-1zM423 304h1v1h-1zM421 306h1v1h-1zM423 306h1v1h-1zM436 296h1v1h-1zM438 296h1v1h-1zM436 298h1v1h-1zM438 298h1v1h-1zM394 302h1v1h-1zM396 302h1v1h-1zM394 304h1v1h-1zM396 304h1v1h-1zM410 293h1v1h-1zM412 293h1v1h-1zM410 295h1v1h-1zM412 295h1v1h-1zM451 302h1v1h-1zM453 302h1v1h-1zM451 304h1v1h-1zM453 304h1v1h-1zM451 304h1v1h-1zM453 304h1v1h-1zM451 306h1v1h-1zM453 306h1v1h-1zM377 301h1v1h-1zM379 301h1v1h-1zM377 303h1v1h-1zM379 303h1v1h-1zM412 305h1v1h-1zM414 305h1v1h-1zM412 307h1v1h-1zM414 307h1v1h-1zM465 307h1v1h-1zM467 307h1v1h-1zM465 309h1v1h-1zM467 309h1v1h-1zM402 333h1v1h-1zM404 333h1v1h-1zM402 335h1v1h-1zM404 335h1v1h-1zM470 334h1v1h-1zM472 334h1v1h-1zM470 336h1v1h-1zM472 336h1v1h-1zM405 330h1v1h-1zM407 330h1v1h-1zM405 332h1v1h-1zM407 332h1v1h-1zM405 329h1v1h-1zM407 329h1v1h-1zM405 331h1v1h-1zM407 331h1v1h-1zM464 333h1v1h-1zM466 333h1v1h-1zM464 335h1v1h-1zM466 335h1v1h-1zM447 333h1v1h-1zM449 333h1v1h-1zM447 335h1v1h-1zM449 335h1v1h-1zM447 330h1v1h-1zM449 330h1v1h-1zM447 332h1v1h-1zM449 332h1v1h-1zM404 329h1v1h-1zM406 329h1v1h-1zM404 331h1v1h-1zM406 331h1v1h-1zM457 330h1v1h-1zM459 330h1v1h-1zM457 332h1v1h-1zM459 332h1v1h-1zM422 331h1v1h-1zM424 331h1v1h-1zM422 333h1v1h-1zM424 333h1v1h-1zM398 330h1v1h-1zM400 330h1v1h-1zM398 332h1v1h-1zM400 332h1v1h-1zM419 333h1v1h-1zM421 333h1v1h-1zM419 335h1v1h-1zM421 335h1v1h-1zM426 331h1v1h-1zM428 331h1v1h-1zM426 333h1v1h-1zM428 333h1v1h-1zM474 332h1v1h-1zM476 332h1v1h-1zM474 334h1v1h-1zM476 334h1v1h-1zM465 332h1v1h-1zM467 332h1v1h-1zM465 334h1v1h-1zM467 334h1v1h-1zM399 331h1v1h-1zM401 331h1v1h-1zM399 333h1v1h-1zM401 333h1v1h-1zM431 333h1v1h-1zM433 333h1v1h-1zM431 335h1v1h-1zM433 335h1v1h-1zM424 333h1v1h-1zM426 333h1v1h-1zM424 335h1v1h-1zM426 335h1v1h-1zM440 330h1v1h-1zM442 330h1v1h-1zM440 332h1v1h-1zM442 332h1v1h-1zM465 329h1v1h-1zM467 329h1v1h-1zM465 331h1v1h-1zM467 331h1v1h-1zM462 330h1v1h-1zM464 330h1v1h-1zM462 332h1v1h-1zM464 332h1v1h-1zM397 330h1v1h-1zM399 330h1v1h-1zM397 332h1v1h-1zM399 332h1v1h-1zM457 334h1v1h-1zM459 334h1v1h-1zM457 336h1v1h-1zM459 336h1v1h-1zM397 331h1v1h-1zM399 331h1v1h-1zM397 333h1v1h-1zM399 333h1v1h-1zM436 333h1v1h-1zM438 333h1v1h-1zM436 335h1v1h-1zM438 335h1v1h-1zM411 331h1v1h-1zM413 331h1v1h-1zM411 333h1v1h-1zM413 333h1v1h-1zM424 333h1v1h-1zM426 333h1v1h-1zM424 335h1v1h-1zM426 335h1v1h-1zM417 334h1v1h-1zM419 334h1v1h-1zM417 336h1v1h-1zM419 336h1v1h-1zM419 330h1v1h-1zM421 330h1v1h-1zM419 332h1v1h-1zM421 332h1v1h-1zM452 331h1v1h-1zM454 331h1v1h-1zM452 333h1v1h-1zM454 333h1v1h-1zM405 332h1v1h-1zM407 332h1v1h-1zM405 334h1v1h-1zM407 334h1v1h-1zM403 333h1v1h-1zM405 333h1v1h-1zM403 335h1v1h-1zM405 335h1v1h-1zM452 333h1v1h-1zM454 333h1v1h-1zM452 335h1v1h-1zM454 335h1v1h-1zM447 331h1v1h-1zM449 331h1v1h-1zM447 333h1v1h-1zM449 333h1v1h-1zM429 331h1v1h-1zM431 331h1v1h-1zM429 333h1v1h-1zM431 333h1v1h-1zM519 300h1v1h-1zM521 300h1v1h-1zM519 302h1v1h-1zM521 302h1v1h-1zM521 304h1v1h-1zM523 304h1v1h-1zM521 306h1v1h-1zM523 306h1v1h-1zM524 303h1v1h-1zM526 303h1v1h-1zM524 305h1v1h-1zM526 305h1v1h-1zM527 303h1v1h-1zM529 303h1v1h-1zM527 305h1v1h-1zM529 305h1v1h-1zM518 305h1v1h-1zM520 305h1v1h-1zM518 307h1v1h-1zM520 307h1v1h-1zM522 306h1v1h-1zM524 306h1v1h-1zM522 308h1v1h-1zM524 308h1v1h-1zM516 308h1v1h-1zM518 308h1v1h-1zM516 310h1v1h-1zM518 310h1v1h-1zM506 304h1v1h-1zM508 304h1v1h-1zM506 306h1v1h-1zM508 306h1v1h-1zM503 327h1v1h-1zM505 327h1v1h-1zM503 329h1v1h-1zM505 329h1v1h-1zM507 333h1v1h-1zM509 333h1v1h-1zM507 335h1v1h-1zM509 335h1v1h-1zM518 332h1v1h-1zM520 332h1v1h-1zM518 334h1v1h-1zM520 334h1v1h-1zM523 333h1v1h-1zM525 333h1v1h-1zM523 335h1v1h-1zM525 335h1v1h-1zM527 332h1v1h-1zM529 332h1v1h-1zM527 334h1v1h-1zM529 334h1v1h-1zM540 331h1v1h-1zM542 331h1v1h-1zM540 333h1v1h-1zM542 333h1v1h-1zM512 325h1v1h-1zM514 325h1v1h-1zM512 327h1v1h-1zM514 327h1v1h-1zM534 325h1v1h-1zM536 325h1v1h-1zM534 327h1v1h-1zM536 327h1v1h-1zM377 261h1v1h-1zM379 261h1v1h-1zM377 263h1v1h-1zM379 263h1v1h-1zM387 265h1v1h-1zM389 265h1v1h-1zM387 267h1v1h-1zM389 267h1v1h-1zM447 263h1v1h-1zM449 263h1v1h-1zM447 265h1v1h-1zM449 265h1v1h-1zM373 269h1v1h-1zM375 269h1v1h-1zM373 271h1v1h-1zM375 271h1v1h-1zM370 268h1v1h-1zM372 268h1v1h-1zM370 270h1v1h-1zM372 270h1v1h-1zM372 273h1v1h-1zM374 273h1v1h-1zM372 275h1v1h-1zM374 275h1v1h-1zM385 274h1v1h-1zM387 274h1v1h-1zM385 276h1v1h-1zM387 276h1v1h-1zM383 277h1v1h-1zM385 277h1v1h-1zM383 279h1v1h-1zM385 279h1v1h-1zM382 279h1v1h-1zM384 279h1v1h-1zM382 281h1v1h-1zM384 281h1v1h-1zM388 276h1v1h-1zM390 276h1v1h-1zM388 278h1v1h-1zM390 278h1v1h-1zM409 273h1v1h-1zM411 273h1v1h-1zM409 275h1v1h-1zM411 275h1v1h-1zM422 277h1v1h-1zM424 277h1v1h-1zM422 279h1v1h-1zM424 279h1v1h-1zM411 277h1v1h-1zM413 277h1v1h-1zM411 279h1v1h-1zM413 279h1v1h-1zM410 279h1v1h-1zM412 279h1v1h-1zM410 281h1v1h-1zM412 281h1v1h-1zM414 280h1v1h-1zM416 280h1v1h-1zM414 282h1v1h-1zM416 282h1v1h-1zM403 278h1v1h-1zM405 278h1v1h-1zM403 280h1v1h-1zM405 280h1v1h-1zM392 281h1v1h-1zM394 281h1v1h-1zM392 283h1v1h-1zM394 283h1v1h-1zM386 281h1v1h-1zM388 281h1v1h-1zM386 283h1v1h-1zM388 283h1v1h-1zM372 278h1v1h-1zM374 278h1v1h-1zM372 280h1v1h-1zM374 280h1v1h-1zM374 279h1v1h-1zM376 279h1v1h-1zM374 281h1v1h-1zM376 281h1v1h-1zM376 279h1v1h-1zM378 279h1v1h-1zM376 281h1v1h-1zM378 281h1v1h-1zM377 280h1v1h-1zM379 280h1v1h-1zM377 282h1v1h-1zM379 282h1v1h-1zM372 282h1v1h-1zM374 282h1v1h-1zM372 284h1v1h-1zM374 284h1v1h-1zM403 282h1v1h-1zM405 282h1v1h-1zM403 284h1v1h-1zM405 284h1v1h-1zM433 282h1v1h-1zM435 282h1v1h-1zM433 284h1v1h-1zM435 284h1v1h-1zM436 280h1v1h-1zM438 280h1v1h-1zM436 282h1v1h-1zM438 282h1v1h-1zM439 282h1v1h-1zM441 282h1v1h-1zM439 284h1v1h-1zM441 284h1v1h-1zM444 281h1v1h-1zM446 281h1v1h-1zM444 283h1v1h-1zM446 283h1v1h-1zM448 282h1v1h-1zM450 282h1v1h-1zM448 284h1v1h-1zM450 284h1v1h-1zM500 266h1v1h-1zM502 266h1v1h-1zM500 268h1v1h-1zM502 268h1v1h-1zM504 268h1v1h-1zM506 268h1v1h-1zM504 270h1v1h-1zM506 270h1v1h-1zM528 269h1v1h-1zM530 269h1v1h-1zM528 271h1v1h-1zM530 271h1v1h-1zM508 278h1v1h-1zM510 278h1v1h-1zM508 280h1v1h-1zM510 280h1v1h-1zM501 285h1v1h-1zM503 285h1v1h-1zM501 287h1v1h-1zM503 287h1v1h-1zM456 281h1v1h-1zM458 281h1v1h-1zM456 283h1v1h-1zM458 283h1v1h-1zM460 280h1v1h-1zM462 280h1v1h-1zM460 282h1v1h-1zM462 282h1v1h-1zM463 283h1v1h-1zM465 283h1v1h-1zM463 285h1v1h-1zM465 285h1v1h-1zM465 281h1v1h-1zM467 281h1v1h-1zM465 283h1v1h-1zM467 283h1v1h-1zM466 280h1v1h-1zM468 280h1v1h-1zM466 282h1v1h-1zM468 282h1v1h-1zM466 282h1v1h-1zM468 282h1v1h-1zM466 284h1v1h-1zM468 284h1v1h-1zM462 287h1v1h-1zM464 287h1v1h-1zM462 289h1v1h-1zM464 289h1v1h-1zM460 290h1v1h-1zM462 290h1v1h-1zM460 292h1v1h-1zM462 292h1v1h-1zM547 262h1v1h-1zM549 262h1v1h-1zM547 264h1v1h-1zM549 264h1v1h-1zM565 265h1v1h-1zM567 265h1v1h-1zM565 267h1v1h-1zM567 267h1v1h-1zM588 299h1v1h-1zM590 299h1v1h-1zM588 301h1v1h-1zM590 301h1v1h-1zM557 302h1v1h-1zM559 302h1v1h-1zM557 304h1v1h-1zM559 304h1v1h-1zM534 305h1v1h-1zM536 305h1v1h-1zM534 307h1v1h-1zM536 307h1v1h-1zM536 306h1v1h-1zM538 306h1v1h-1zM536 308h1v1h-1zM538 308h1v1h-1zM538 305h1v1h-1zM540 305h1v1h-1zM538 307h1v1h-1zM540 307h1v1h-1zM540 305h1v1h-1zM542 305h1v1h-1zM540 307h1v1h-1zM542 307h1v1h-1zM535 308h1v1h-1zM537 308h1v1h-1zM535 310h1v1h-1zM537 310h1v1h-1zM543 310h1v1h-1zM545 310h1v1h-1zM543 312h1v1h-1zM545 312h1v1h-1zM548 310h1v1h-1zM550 310h1v1h-1zM548 312h1v1h-1zM550 312h1v1h-1zM558 314h1v1h-1zM560 314h1v1h-1zM558 316h1v1h-1zM560 316h1v1h-1zM559 319h1v1h-1zM561 319h1v1h-1zM559 321h1v1h-1zM561 321h1v1h-1zM617 319h1v1h-1zM619 319h1v1h-1zM617 321h1v1h-1zM619 321h1v1h-1zM564 322h1v1h-1zM566 322h1v1h-1zM564 324h1v1h-1zM566 324h1v1h-1zM564 325h1v1h-1zM566 325h1v1h-1zM564 327h1v1h-1zM566 327h1v1h-1zM548 325h1v1h-1zM550 325h1v1h-1zM548 327h1v1h-1zM550 327h1v1h-1zM532 323h1v1h-1zM534 323h1v1h-1zM532 325h1v1h-1zM534 325h1v1h-1zM534 326h1v1h-1zM536 326h1v1h-1zM534 328h1v1h-1zM536 328h1v1h-1zM539 325h1v1h-1zM541 325h1v1h-1zM539 327h1v1h-1zM541 327h1v1h-1zM542 327h1v1h-1zM544 327h1v1h-1zM542 329h1v1h-1zM544 329h1v1h-1zM600 323h1v1h-1zM602 323h1v1h-1zM600 325h1v1h-1zM602 325h1v1h-1zM603 326h1v1h-1zM605 326h1v1h-1zM603 328h1v1h-1zM605 328h1v1h-1zM597 328h1v1h-1zM599 328h1v1h-1zM597 330h1v1h-1zM599 330h1v1h-1zM617 327h1v1h-1zM619 327h1v1h-1zM617 329h1v1h-1zM619 329h1v1h-1zM529 328h1v1h-1zM531 328h1v1h-1zM529 330h1v1h-1zM531 330h1v1h-1zM532 331h1v1h-1zM534 331h1v1h-1zM532 333h1v1h-1zM534 333h1v1h-1zM535 332h1v1h-1zM537 332h1v1h-1zM535 334h1v1h-1zM537 334h1v1h-1zM537 331h1v1h-1zM539 331h1v1h-1zM537 333h1v1h-1zM539 333h1v1h-1zM540 332h1v1h-1zM542 332h1v1h-1zM540 334h1v1h-1zM542 334h1v1h-1zM543 331h1v1h-1zM545 331h1v1h-1zM543 333h1v1h-1zM545 333h1v1h-1zM546 332h1v1h-1zM548 332h1v1h-1zM546 334h1v1h-1zM548 334h1v1h-1zM558 329h1v1h-1zM560 329h1v1h-1zM558 331h1v1h-1zM560 331h1v1h-1zM560 333h1v1h-1zM562 333h1v1h-1zM560 335h1v1h-1zM562 335h1v1h-1zM562 333h1v1h-1zM564 333h1v1h-1zM562 335h1v1h-1zM564 335h1v1h-1zM566 330h1v1h-1zM568 330h1v1h-1zM566 332h1v1h-1zM568 332h1v1h-1zM569 330h1v1h-1zM571 330h1v1h-1zM569 332h1v1h-1zM571 332h1v1h-1zM568 334h1v1h-1zM570 334h1v1h-1zM568 336h1v1h-1zM570 336h1v1h-1zM573 331h1v1h-1zM575 331h1v1h-1zM573 333h1v1h-1zM575 333h1v1h-1zM576 331h1v1h-1zM578 331h1v1h-1zM576 333h1v1h-1zM578 333h1v1h-1zM578 331h1v1h-1zM580 331h1v1h-1zM578 333h1v1h-1zM580 333h1v1h-1zM580 331h1v1h-1zM582 331h1v1h-1zM580 333h1v1h-1zM582 333h1v1h-1zM586 331h1v1h-1zM588 331h1v1h-1zM586 333h1v1h-1zM588 333h1v1h-1zM596 331h1v1h-1zM598 331h1v1h-1zM596 333h1v1h-1zM598 333h1v1h-1zM599 333h1v1h-1zM601 333h1v1h-1zM599 335h1v1h-1zM601 335h1v1h-1zM605 331h1v1h-1zM607 331h1v1h-1zM605 333h1v1h-1zM607 333h1v1h-1zM610 332h1v1h-1zM612 332h1v1h-1zM610 334h1v1h-1zM612 334h1v1h-1zM618 332h1v1h-1zM620 332h1v1h-1zM618 334h1v1h-1zM620 334h1v1h-1zM638 319h1v1h-1zM640 319h1v1h-1zM638 321h1v1h-1zM640 321h1v1h-1zM632 327h1v1h-1zM634 327h1v1h-1zM632 329h1v1h-1zM634 329h1v1h-1zM640 328h1v1h-1zM642 328h1v1h-1zM640 330h1v1h-1zM642 330h1v1h-1zM636 331h1v1h-1zM638 331h1v1h-1zM636 333h1v1h-1zM638 333h1v1h-1zM642 333h1v1h-1zM644 333h1v1h-1zM642 335h1v1h-1zM644 335h1v1h-1zM662 330h1v1h-1zM664 330h1v1h-1zM662 332h1v1h-1zM664 332h1v1h-1zM663 332h1v1h-1zM665 332h1v1h-1zM663 334h1v1h-1zM665 334h1v1h-1zM673 321h1v1h-1zM675 321h1v1h-1zM673 323h1v1h-1zM675 323h1v1h-1zM674 333h1v1h-1zM676 333h1v1h-1zM674 335h1v1h-1zM676 335h1v1h-1zM676 333h1v1h-1zM678 333h1v1h-1zM676 335h1v1h-1zM678 335h1v1h-1zM681 333h1v1h-1zM683 333h1v1h-1zM681 335h1v1h-1zM683 335h1v1h-1zM696 330h1v1h-1zM698 330h1v1h-1zM696 332h1v1h-1zM698 332h1v1h-1zM697 333h1v1h-1zM699 333h1v1h-1zM697 335h1v1h-1zM699 335h1v1h-1zM706 328h1v1h-1zM708 328h1v1h-1zM706 330h1v1h-1zM708 330h1v1h-1zM708 332h1v1h-1zM710 332h1v1h-1zM708 334h1v1h-1zM710 334h1v1h-1zM501 285h1v1h-1zM503 285h1v1h-1zM501 287h1v1h-1zM503 287h1v1h-1zM480 296h1v1h-1zM482 296h1v1h-1zM480 298h1v1h-1zM482 298h1v1h-1zM490 297h1v1h-1zM492 297h1v1h-1zM490 299h1v1h-1zM492 299h1v1h-1zM493 296h1v1h-1zM495 296h1v1h-1zM493 298h1v1h-1zM495 298h1v1h-1zM495 298h1v1h-1zM497 298h1v1h-1zM495 300h1v1h-1zM497 300h1v1h-1zM496 298h1v1h-1zM498 298h1v1h-1zM496 300h1v1h-1zM498 300h1v1h-1zM500 296h1v1h-1zM502 296h1v1h-1zM500 298h1v1h-1zM502 298h1v1h-1zM508 296h1v1h-1zM510 296h1v1h-1zM508 298h1v1h-1zM510 298h1v1h-1zM514 298h1v1h-1zM516 298h1v1h-1zM514 300h1v1h-1zM516 300h1v1h-1zM468 295h1v1h-1zM470 295h1v1h-1zM468 297h1v1h-1zM470 297h1v1h-1zM470 296h1v1h-1zM472 296h1v1h-1zM470 298h1v1h-1zM472 298h1v1h-1zM469 298h1v1h-1zM471 298h1v1h-1zM469 300h1v1h-1zM471 300h1v1h-1zM470 300h1v1h-1zM472 300h1v1h-1zM470 302h1v1h-1zM472 302h1v1h-1zM471 302h1v1h-1zM473 302h1v1h-1zM471 304h1v1h-1zM473 304h1v1h-1zM473 301h1v1h-1zM475 301h1v1h-1zM473 303h1v1h-1zM475 303h1v1h-1zM475 302h1v1h-1zM477 302h1v1h-1zM475 304h1v1h-1zM477 304h1v1h-1zM476 303h1v1h-1zM478 303h1v1h-1zM476 305h1v1h-1zM478 305h1v1h-1zM478 304h1v1h-1zM480 304h1v1h-1zM478 306h1v1h-1zM480 306h1v1h-1zM479 304h1v1h-1zM481 304h1v1h-1zM479 306h1v1h-1zM481 306h1v1h-1zM480 305h1v1h-1zM482 305h1v1h-1zM480 307h1v1h-1zM482 307h1v1h-1zM482 306h1v1h-1zM484 306h1v1h-1zM482 308h1v1h-1zM484 308h1v1h-1zM484 307h1v1h-1zM486 307h1v1h-1zM484 309h1v1h-1zM486 309h1v1h-1zM486 307h1v1h-1zM488 307h1v1h-1zM486 309h1v1h-1zM488 309h1v1h-1zM480 299h1v1h-1zM482 299h1v1h-1zM480 301h1v1h-1zM482 301h1v1h-1zM482 299h1v1h-1zM484 299h1v1h-1zM482 301h1v1h-1zM484 301h1v1h-1zM482 301h1v1h-1zM484 301h1v1h-1zM482 303h1v1h-1zM484 303h1v1h-1zM481 302h1v1h-1zM483 302h1v1h-1zM481 304h1v1h-1zM483 304h1v1h-1zM467 304h1v1h-1zM469 304h1v1h-1zM467 306h1v1h-1zM469 306h1v1h-1zM468 305h1v1h-1zM470 305h1v1h-1zM468 307h1v1h-1zM470 307h1v1h-1zM470 306h1v1h-1zM472 306h1v1h-1zM470 308h1v1h-1zM472 308h1v1h-1zM472 307h1v1h-1zM474 307h1v1h-1zM472 309h1v1h-1zM474 309h1v1h-1zM473 308h1v1h-1zM475 308h1v1h-1zM473 310h1v1h-1zM475 310h1v1h-1zM473 305h1v1h-1zM475 305h1v1h-1zM473 307h1v1h-1zM475 307h1v1h-1zM497 301h1v1h-1zM499 301h1v1h-1zM497 303h1v1h-1zM499 303h1v1h-1zM497 303h1v1h-1zM499 303h1v1h-1zM497 305h1v1h-1zM499 305h1v1h-1zM500 303h1v1h-1zM502 303h1v1h-1zM500 305h1v1h-1zM502 305h1v1h-1zM502 304h1v1h-1zM504 304h1v1h-1zM502 306h1v1h-1zM504 306h1v1h-1zM504 303h1v1h-1zM506 303h1v1h-1zM504 305h1v1h-1zM506 305h1v1h-1zM506 302h1v1h-1zM508 302h1v1h-1zM506 304h1v1h-1zM508 304h1v1h-1zM506 304h1v1h-1zM508 304h1v1h-1zM506 306h1v1h-1zM508 306h1v1h-1zM502 307h1v1h-1zM504 307h1v1h-1zM502 309h1v1h-1zM504 309h1v1h-1zM503 308h1v1h-1zM505 308h1v1h-1zM503 310h1v1h-1zM505 310h1v1h-1zM505 310h1v1h-1zM507 310h1v1h-1zM505 312h1v1h-1zM507 312h1v1h-1zM513 306h1v1h-1zM515 306h1v1h-1zM513 308h1v1h-1zM515 308h1v1h-1zM386 314h1v1h-1zM388 314h1v1h-1zM386 316h1v1h-1zM388 316h1v1h-1zM390 316h1v1h-1zM392 316h1v1h-1zM390 318h1v1h-1zM392 318h1v1h-1zM377 317h1v1h-1zM379 317h1v1h-1zM377 319h1v1h-1zM379 319h1v1h-1zM377 319h1v1h-1zM379 319h1v1h-1zM377 321h1v1h-1zM379 321h1v1h-1zM375 320h1v1h-1zM377 320h1v1h-1zM375 322h1v1h-1zM377 322h1v1h-1zM377 320h1v1h-1zM379 320h1v1h-1zM377 322h1v1h-1zM379 322h1v1h-1zM384 320h1v1h-1zM386 320h1v1h-1zM384 322h1v1h-1zM386 322h1v1h-1zM386 320h1v1h-1zM388 320h1v1h-1zM386 322h1v1h-1zM388 322h1v1h-1zM388 320h1v1h-1zM390 320h1v1h-1zM388 322h1v1h-1zM390 322h1v1h-1zM391 321h1v1h-1zM393 321h1v1h-1zM391 323h1v1h-1zM393 323h1v1h-1zM390 323h1v1h-1zM392 323h1v1h-1zM390 325h1v1h-1zM392 325h1v1h-1zM380 325h1v1h-1zM382 325h1v1h-1zM380 327h1v1h-1zM382 327h1v1h-1zM385 325h1v1h-1zM387 325h1v1h-1zM385 327h1v1h-1zM387 327h1v1h-1zM379 329h1v1h-1zM381 329h1v1h-1zM379 331h1v1h-1zM381 331h1v1h-1zM380 329h1v1h-1zM382 329h1v1h-1zM380 331h1v1h-1zM382 331h1v1h-1zM386 330h1v1h-1zM388 330h1v1h-1zM386 332h1v1h-1zM388 332h1v1h-1zM392 329h1v1h-1zM394 329h1v1h-1zM392 331h1v1h-1zM394 331h1v1h-1zM396 330h1v1h-1zM398 330h1v1h-1zM396 332h1v1h-1zM398 332h1v1h-1zM399 332h1v1h-1zM401 332h1v1h-1zM399 334h1v1h-1zM401 334h1v1h-1zM402 331h1v1h-1zM404 331h1v1h-1zM402 333h1v1h-1zM404 333h1v1h-1zM404 332h1v1h-1zM406 332h1v1h-1zM404 334h1v1h-1zM406 334h1v1h-1zM406 331h1v1h-1zM408 331h1v1h-1zM406 333h1v1h-1zM408 333h1v1h-1zM409 331h1v1h-1zM411 331h1v1h-1zM409 333h1v1h-1zM411 333h1v1h-1zM412 331h1v1h-1zM414 331h1v1h-1zM412 333h1v1h-1zM414 333h1v1h-1zM415 331h1v1h-1zM417 331h1v1h-1zM415 333h1v1h-1zM417 333h1v1h-1zM416 331h1v1h-1zM418 331h1v1h-1zM416 333h1v1h-1zM418 333h1v1h-1zM403 316h1v1h-1zM405 316h1v1h-1zM403 318h1v1h-1zM405 318h1v1h-1zM403 317h1v1h-1zM405 317h1v1h-1zM403 319h1v1h-1zM405 319h1v1h-1zM407 322h1v1h-1zM409 322h1v1h-1zM407 324h1v1h-1zM409 324h1v1h-1zM411 314h1v1h-1zM413 314h1v1h-1zM411 316h1v1h-1zM413 316h1v1h-1zM413 316h1v1h-1zM415 316h1v1h-1zM413 318h1v1h-1zM415 318h1v1h-1zM416 320h1v1h-1zM418 320h1v1h-1zM416 322h1v1h-1zM418 322h1v1h-1zM419 307h1v1h-1zM421 307h1v1h-1zM419 309h1v1h-1zM421 309h1v1h-1zM421 308h1v1h-1zM423 308h1v1h-1zM421 310h1v1h-1zM423 310h1v1h-1zM426 307h1v1h-1zM428 307h1v1h-1zM426 309h1v1h-1zM428 309h1v1h-1zM432 307h1v1h-1zM434 307h1v1h-1zM432 309h1v1h-1zM434 309h1v1h-1zM435 307h1v1h-1zM437 307h1v1h-1zM435 309h1v1h-1zM437 309h1v1h-1zM441 307h1v1h-1zM443 307h1v1h-1zM441 309h1v1h-1zM443 309h1v1h-1zM445 308h1v1h-1zM447 308h1v1h-1zM445 310h1v1h-1zM447 310h1v1h-1zM450 307h1v1h-1zM452 307h1v1h-1zM450 309h1v1h-1zM452 309h1v1h-1zM460 307h1v1h-1zM462 307h1v1h-1zM460 309h1v1h-1zM462 309h1v1h-1zM463 308h1v1h-1zM465 308h1v1h-1zM463 310h1v1h-1zM465 310h1v1h-1zM423 314h1v1h-1zM425 314h1v1h-1zM423 316h1v1h-1zM425 316h1v1h-1zM424 314h1v1h-1zM426 314h1v1h-1zM424 316h1v1h-1zM426 316h1v1h-1zM421 318h1v1h-1zM423 318h1v1h-1zM421 320h1v1h-1zM423 320h1v1h-1zM426 317h1v1h-1zM428 317h1v1h-1zM426 319h1v1h-1zM428 319h1v1h-1zM435 313h1v1h-1zM437 313h1v1h-1zM435 315h1v1h-1zM437 315h1v1h-1zM435 315h1v1h-1zM437 315h1v1h-1zM435 317h1v1h-1zM437 317h1v1h-1zM439 315h1v1h-1zM441 315h1v1h-1zM439 317h1v1h-1zM441 317h1v1h-1zM440 313h1v1h-1zM442 313h1v1h-1zM440 315h1v1h-1zM442 315h1v1h-1zM450 315h1v1h-1zM452 315h1v1h-1zM450 317h1v1h-1zM452 317h1v1h-1zM452 314h1v1h-1zM454 314h1v1h-1zM452 316h1v1h-1zM454 316h1v1h-1zM455 318h1v1h-1zM457 318h1v1h-1zM455 320h1v1h-1zM457 320h1v1h-1zM462 316h1v1h-1zM464 316h1v1h-1zM462 318h1v1h-1zM464 318h1v1h-1zM432 321h1v1h-1zM434 321h1v1h-1zM432 323h1v1h-1zM434 323h1v1h-1zM433 322h1v1h-1zM435 322h1v1h-1zM433 324h1v1h-1zM435 324h1v1h-1zM432 324h1v1h-1zM434 324h1v1h-1zM432 326h1v1h-1zM434 326h1v1h-1zM438 322h1v1h-1zM440 322h1v1h-1zM438 324h1v1h-1zM440 324h1v1h-1zM439 321h1v1h-1zM441 321h1v1h-1zM439 323h1v1h-1zM441 323h1v1h-1zM441 323h1v1h-1zM443 323h1v1h-1zM441 325h1v1h-1zM443 325h1v1h-1zM446 322h1v1h-1zM448 322h1v1h-1zM446 324h1v1h-1zM448 324h1v1h-1zM448 323h1v1h-1zM450 323h1v1h-1zM448 325h1v1h-1zM450 325h1v1h-1zM454 319h1v1h-1zM456 319h1v1h-1zM454 321h1v1h-1zM456 321h1v1h-1zM456 320h1v1h-1zM458 320h1v1h-1zM456 322h1v1h-1zM458 322h1v1h-1zM457 323h1v1h-1zM459 323h1v1h-1zM457 325h1v1h-1zM459 325h1v1h-1zM463 324h1v1h-1zM465 324h1v1h-1zM463 326h1v1h-1zM465 326h1v1h-1zM465 323h1v1h-1zM467 323h1v1h-1zM465 325h1v1h-1zM467 325h1v1h-1zM466 324h1v1h-1zM468 324h1v1h-1zM466 326h1v1h-1zM468 326h1v1h-1zM420 324h1v1h-1zM422 324h1v1h-1zM420 326h1v1h-1zM422 326h1v1h-1zM423 325h1v1h-1zM425 325h1v1h-1zM423 327h1v1h-1zM425 327h1v1h-1zM417 329h1v1h-1zM419 329h1v1h-1zM417 331h1v1h-1zM419 331h1v1h-1zM418 330h1v1h-1zM420 330h1v1h-1zM418 332h1v1h-1zM420 332h1v1h-1zM420 331h1v1h-1zM422 331h1v1h-1zM420 333h1v1h-1zM422 333h1v1h-1zM421 330h1v1h-1zM423 330h1v1h-1zM421 332h1v1h-1zM423 332h1v1h-1zM423 331h1v1h-1zM425 331h1v1h-1zM423 333h1v1h-1zM425 333h1v1h-1zM424 332h1v1h-1zM426 332h1v1h-1zM424 334h1v1h-1zM426 334h1v1h-1zM426 331h1v1h-1zM428 331h1v1h-1zM426 333h1v1h-1zM428 333h1v1h-1zM427 331h1v1h-1zM429 331h1v1h-1zM427 333h1v1h-1zM429 333h1v1h-1zM429 331h1v1h-1zM431 331h1v1h-1zM429 333h1v1h-1zM431 333h1v1h-1zM430 332h1v1h-1zM432 332h1v1h-1zM430 334h1v1h-1zM432 334h1v1h-1zM432 331h1v1h-1zM434 331h1v1h-1zM432 333h1v1h-1zM434 333h1v1h-1zM433 331h1v1h-1zM435 331h1v1h-1zM433 333h1v1h-1zM435 333h1v1h-1zM435 329h1v1h-1zM437 329h1v1h-1zM435 331h1v1h-1zM437 331h1v1h-1zM436 331h1v1h-1zM438 331h1v1h-1zM436 333h1v1h-1zM438 333h1v1h-1zM438 332h1v1h-1zM440 332h1v1h-1zM438 334h1v1h-1zM440 334h1v1h-1zM439 331h1v1h-1zM441 331h1v1h-1zM439 333h1v1h-1zM441 333h1v1h-1zM441 330h1v1h-1zM443 330h1v1h-1zM441 332h1v1h-1zM443 332h1v1h-1zM442 331h1v1h-1zM444 331h1v1h-1zM442 333h1v1h-1zM444 333h1v1h-1zM448 330h1v1h-1zM450 330h1v1h-1zM448 332h1v1h-1zM450 332h1v1h-1zM450 328h1v1h-1zM452 328h1v1h-1zM450 330h1v1h-1zM452 330h1v1h-1zM451 331h1v1h-1zM453 331h1v1h-1zM451 333h1v1h-1zM453 333h1v1h-1zM453 332h1v1h-1zM455 332h1v1h-1zM453 334h1v1h-1zM455 334h1v1h-1zM454 330h1v1h-1zM456 330h1v1h-1zM454 332h1v1h-1zM456 332h1v1h-1zM460 333h1v1h-1zM462 333h1v1h-1zM460 335h1v1h-1zM462 335h1v1h-1zM463 331h1v1h-1zM465 331h1v1h-1zM463 333h1v1h-1zM465 333h1v1h-1zM465 331h1v1h-1zM467 331h1v1h-1zM465 333h1v1h-1zM467 333h1v1h-1zM466 331h1v1h-1zM468 331h1v1h-1zM466 333h1v1h-1zM468 333h1v1h-1z" fill="#3a87da" fill-opacity="0.12"/><path d="M286 149h3v1h-3zM287 148h1v3h-1zM280 155h3v1h-3zM281 154h1v3h-1zM279 163h3v1h-3zM280 162h1v3h-1zM280 169h3v1h-3zM281 168h1v3h-1zM292 161h3v1h-3zM293 160h1v3h-1zM293 167h3v1h-3zM294 166h1v3h-1zM310 158h3v1h-3zM311 157h1v3h-1zM321 160h3v1h-3zM322 159h1v3h-1zM330 148h3v1h-3zM331 147h1v3h-1zM309 169h3v1h-3zM310 168h1v3h-1zM318 170h3v1h-3zM319 169h1v3h-1zM328 172h3v1h-3zM329 171h1v3h-1zM314 174h3v1h-3zM315 173h1v3h-1zM293 176h3v1h-3zM294 175h1v3h-1zM297 179h3v1h-3zM298 178h1v3h-1zM298 180h3v1h-3zM299 179h1v3h-1zM305 178h3v1h-3zM306 177h1v3h-1zM273 179h3v1h-3zM274 178h1v3h-1zM278 179h3v1h-3zM279 178h1v3h-1zM279 182h3v1h-3zM280 181h1v3h-1zM276 184h3v1h-3zM277 183h1v3h-1zM288 183h3v1h-3zM289 182h1v3h-1zM300 184h3v1h-3zM301 183h1v3h-1zM321 180h3v1h-3zM322 179h1v3h-1zM284 187h3v1h-3zM285 186h1v3h-1zM295 188h3v1h-3zM296 187h1v3h-1zM307 188h3v1h-3zM308 187h1v3h-1zM314 183h3v1h-3zM315 182h1v3h-1zM329 185h3v1h-3zM330 184h1v3h-1zM326 189h3v1h-3zM327 188h1v3h-1zM279 191h3v1h-3zM280 190h1v3h-1zM281 194h3v1h-3zM282 193h1v3h-1zM304 193h3v1h-3zM305 192h1v3h-1zM317 192h3v1h-3zM318 191h1v3h-1zM317 194h3v1h-3zM318 193h1v3h-1zM290 196h3v1h-3zM291 195h1v3h-1zM274 198h3v1h-3zM275 197h1v3h-1zM317 198h3v1h-3zM318 197h1v3h-1zM335 266h3v1h-3zM336 265h1v3h-1zM339 268h3v1h-3zM340 267h1v3h-1zM333 271h3v1h-3zM334 270h1v3h-1zM333 273h3v1h-3zM334 272h1v3h-1zM330 274h3v1h-3zM331 273h1v3h-1zM331 280h3v1h-3zM332 279h1v3h-1zM341 276h3v1h-3zM342 275h1v3h-1zM345 274h3v1h-3zM346 273h1v3h-1zM345 277h3v1h-3zM346 276h1v3h-1zM342 279h3v1h-3zM343 278h1v3h-1zM339 281h3v1h-3zM340 280h1v3h-1zM350 274h3v1h-3zM351 273h1v3h-1zM352 275h3v1h-3zM353 274h1v3h-1zM353 276h3v1h-3zM354 275h1v3h-1zM357 272h3v1h-3zM358 271h1v3h-1zM358 274h3v1h-3zM359 273h1v3h-1zM358 276h3v1h-3zM359 275h1v3h-1zM360 273h3v1h-3zM361 272h1v3h-1zM359 268h3v1h-3zM360 267h1v3h-1zM365 269h3v1h-3zM366 268h1v3h-1zM362 277h3v1h-3zM363 276h1v3h-1zM366 275h3v1h-3zM367 274h1v3h-1zM356 280h3v1h-3zM357 279h1v3h-1zM359 280h3v1h-3zM360 279h1v3h-1zM348 282h3v1h-3zM349 281h1v3h-1zM349 284h3v1h-3zM350 283h1v3h-1zM347 286h3v1h-3zM348 285h1v3h-1zM338 287h3v1h-3zM339 286h1v3h-1zM341 289h3v1h-3zM342 288h1v3h-1zM345 289h3v1h-3zM346 288h1v3h-1zM352 289h3v1h-3zM353 288h1v3h-1zM353 288h3v1h-3zM354 287h1v3h-1zM362 285h3v1h-3zM363 284h1v3h-1zM364 263h3v1h-3zM365 262h1v3h-1zM364 265h3v1h-3zM365 264h1v3h-1zM367 290h3v1h-3zM368 289h1v3h-1zM335 293h3v1h-3zM336 292h1v3h-1zM338 292h3v1h-3zM339 291h1v3h-1zM342 294h3v1h-3zM343 293h1v3h-1zM344 292h3v1h-3zM345 291h1v3h-1zM348 294h3v1h-3zM349 293h1v3h-1zM350 295h3v1h-3zM351 294h1v3h-1zM352 292h3v1h-3zM353 291h1v3h-1zM354 295h3v1h-3zM355 294h1v3h-1zM359 294h3v1h-3zM360 293h1v3h-1zM362 295h3v1h-3zM363 294h1v3h-1zM364 293h3v1h-3zM365 292h1v3h-1zM366 296h3v1h-3zM367 295h1v3h-1zM368 294h3v1h-3zM369 293h1v3h-1zM329 294h3v1h-3zM330 293h1v3h-1zM332 295h3v1h-3zM333 294h1v3h-1zM345 298h3v1h-3zM346 297h1v3h-1zM348 300h3v1h-3zM349 299h1v3h-1zM351 298h3v1h-3zM352 297h1v3h-1zM359 299h3v1h-3zM360 298h1v3h-1zM362 300h3v1h-3zM363 299h1v3h-1zM364 297h3v1h-3zM365 296h1v3h-1zM227 200h3v1h-3zM228 199h1v3h-1zM210 213h3v1h-3zM211 212h1v3h-1zM205 220h3v1h-3zM206 219h1v3h-1zM234 226h3v1h-3zM235 225h1v3h-1zM235 225h3v1h-3zM236 224h1v3h-1zM256 212h3v1h-3zM257 211h1v3h-1zM258 227h3v1h-3zM259 226h1v3h-1zM194 236h3v1h-3zM195 235h1v3h-1zM239 237h3v1h-3zM240 236h1v3h-1zM252 236h3v1h-3zM253 235h1v3h-1zM255 241h3v1h-3zM256 240h1v3h-1zM257 246h3v1h-3zM258 245h1v3h-1zM205 247h3v1h-3zM206 246h1v3h-1zM201 249h3v1h-3zM202 248h1v3h-1zM204 250h3v1h-3zM205 249h1v3h-1zM198 251h3v1h-3zM199 250h1v3h-1zM194 254h3v1h-3zM195 253h1v3h-1zM211 253h3v1h-3zM212 252h1v3h-1zM221 249h3v1h-3zM222 248h1v3h-1zM223 248h3v1h-3zM224 247h1v3h-1zM227 246h3v1h-3zM228 245h1v3h-1zM229 250h3v1h-3zM230 249h1v3h-1zM221 253h3v1h-3zM222 252h1v3h-1zM235 249h3v1h-3zM236 248h1v3h-1zM242 246h3v1h-3zM243 245h1v3h-1zM242 249h3v1h-3zM243 248h1v3h-1zM239 251h3v1h-3zM240 250h1v3h-1zM245 254h3v1h-3zM246 253h1v3h-1zM251 252h3v1h-3zM252 251h1v3h-1zM149 253h3v1h-3zM150 252h1v3h-1zM283 203h3v1h-3zM284 202h1v3h-1zM284 204h3v1h-3zM285 203h1v3h-1zM313 200h3v1h-3zM314 199h1v3h-1zM291 211h3v1h-3zM292 210h1v3h-1zM264 216h3v1h-3zM265 215h1v3h-1zM278 215h3v1h-3zM279 214h1v3h-1zM278 217h3v1h-3zM279 216h1v3h-1zM296 217h3v1h-3zM297 216h1v3h-1zM299 221h3v1h-3zM300 220h1v3h-1zM284 220h3v1h-3zM285 219h1v3h-1zM283 224h3v1h-3zM284 223h1v3h-1zM309 218h3v1h-3zM310 217h1v3h-1zM310 222h3v1h-3zM311 221h1v3h-1zM317 222h3v1h-3zM318 221h1v3h-1zM318 219h3v1h-3zM319 218h1v3h-1zM311 209h3v1h-3zM312 208h1v3h-1zM313 208h3v1h-3zM314 207h1v3h-1zM315 212h3v1h-3zM316 211h1v3h-1zM324 214h3v1h-3zM325 213h1v3h-1zM326 209h3v1h-3zM327 208h1v3h-1zM329 209h3v1h-3zM330 208h1v3h-1zM333 217h3v1h-3zM334 216h1v3h-1zM347 213h3v1h-3zM348 212h1v3h-1zM349 216h3v1h-3zM350 215h1v3h-1zM358 217h3v1h-3zM359 216h1v3h-1zM354 223h3v1h-3zM355 222h1v3h-1zM349 222h3v1h-3zM350 221h1v3h-1zM343 227h3v1h-3zM344 226h1v3h-1zM345 222h3v1h-3zM346 221h1v3h-1zM350 227h3v1h-3zM351 226h1v3h-1zM365 229h3v1h-3zM366 228h1v3h-1zM329 224h3v1h-3zM330 223h1v3h-1zM326 231h3v1h-3zM327 230h1v3h-1zM327 235h3v1h-3zM328 234h1v3h-1zM336 234h3v1h-3zM337 233h1v3h-1zM259 227h3v1h-3zM260 226h1v3h-1zM263 227h3v1h-3zM264 226h1v3h-1zM273 227h3v1h-3zM274 226h1v3h-1zM270 231h3v1h-3zM271 230h1v3h-1zM270 234h3v1h-3zM271 233h1v3h-1zM299 230h3v1h-3zM300 229h1v3h-1zM300 230h3v1h-3zM301 229h1v3h-1zM304 233h3v1h-3zM305 232h1v3h-1zM308 234h3v1h-3zM309 233h1v3h-1zM279 236h3v1h-3zM280 235h1v3h-1zM279 239h3v1h-3zM280 238h1v3h-1zM262 239h3v1h-3zM263 238h1v3h-1zM265 239h3v1h-3zM266 238h1v3h-1zM268 241h3v1h-3zM269 240h1v3h-1zM298 237h3v1h-3zM299 236h1v3h-1zM299 239h3v1h-3zM300 238h1v3h-1zM275 242h3v1h-3zM276 241h1v3h-1zM279 243h3v1h-3zM280 242h1v3h-1zM290 243h3v1h-3zM291 242h1v3h-1zM303 242h3v1h-3zM304 241h1v3h-1zM317 241h3v1h-3zM318 240h1v3h-1zM338 239h3v1h-3zM339 238h1v3h-1zM340 237h3v1h-3zM341 236h1v3h-1zM260 244h3v1h-3zM261 243h1v3h-1zM263 244h3v1h-3zM264 243h1v3h-1zM275 247h3v1h-3zM276 246h1v3h-1zM284 247h3v1h-3zM285 246h1v3h-1zM304 248h3v1h-3zM305 247h1v3h-1zM302 250h3v1h-3zM303 249h1v3h-1zM304 245h3v1h-3zM305 244h1v3h-1zM326 245h3v1h-3zM327 244h1v3h-1zM329 243h3v1h-3zM330 242h1v3h-1zM330 248h3v1h-3zM331 247h1v3h-1zM336 243h3v1h-3zM337 242h1v3h-1zM348 246h3v1h-3zM349 245h1v3h-1zM359 241h3v1h-3zM360 240h1v3h-1zM361 241h3v1h-3zM362 240h1v3h-1zM363 247h3v1h-3zM364 246h1v3h-1zM280 250h3v1h-3zM281 249h1v3h-1zM289 249h3v1h-3zM290 248h1v3h-1zM260 252h3v1h-3zM261 251h1v3h-1zM266 253h3v1h-3zM267 252h1v3h-1zM300 250h3v1h-3zM301 249h1v3h-1zM327 251h3v1h-3zM328 250h1v3h-1zM333 251h3v1h-3zM334 250h1v3h-1zM346 251h3v1h-3zM347 250h1v3h-1zM278 255h3v1h-3zM279 254h1v3h-1zM284 256h3v1h-3zM285 255h1v3h-1zM295 256h3v1h-3zM296 255h1v3h-1zM317 254h3v1h-3zM318 253h1v3h-1zM323 256h3v1h-3zM324 255h1v3h-1zM326 257h3v1h-3zM327 256h1v3h-1zM278 259h3v1h-3zM279 258h1v3h-1zM281 259h3v1h-3zM282 258h1v3h-1zM295 257h3v1h-3zM296 256h1v3h-1zM300 259h3v1h-3zM301 258h1v3h-1zM301 262h3v1h-3zM302 261h1v3h-1zM306 261h3v1h-3zM307 260h1v3h-1zM309 264h3v1h-3zM310 263h1v3h-1zM317 262h3v1h-3zM318 261h1v3h-1zM323 257h3v1h-3zM324 256h1v3h-1zM326 257h3v1h-3zM327 256h1v3h-1zM324 261h3v1h-3zM325 260h1v3h-1zM332 261h3v1h-3zM333 260h1v3h-1zM336 260h3v1h-3zM337 259h1v3h-1zM344 258h3v1h-3zM345 257h1v3h-1zM265 266h3v1h-3zM266 265h1v3h-1zM267 265h3v1h-3zM268 264h1v3h-1zM269 265h3v1h-3zM270 264h1v3h-1zM262 268h3v1h-3zM263 267h1v3h-1zM263 267h3v1h-3zM264 266h1v3h-1zM274 265h3v1h-3zM275 264h1v3h-1zM281 265h3v1h-3zM282 264h1v3h-1zM284 265h3v1h-3zM285 264h1v3h-1zM291 264h3v1h-3zM292 263h1v3h-1zM301 269h3v1h-3zM302 268h1v3h-1zM301 272h3v1h-3zM302 271h1v3h-1zM317 269h3v1h-3zM318 268h1v3h-1zM323 270h3v1h-3zM324 269h1v3h-1zM323 272h3v1h-3zM324 271h1v3h-1zM277 275h3v1h-3zM278 274h1v3h-1zM284 278h3v1h-3zM285 277h1v3h-1zM286 280h3v1h-3zM287 279h1v3h-1zM288 282h3v1h-3zM289 281h1v3h-1zM291 284h3v1h-3zM292 283h1v3h-1zM292 282h3v1h-3zM293 281h1v3h-1zM295 281h3v1h-3zM296 280h1v3h-1zM299 276h3v1h-3zM300 275h1v3h-1zM300 278h3v1h-3zM301 277h1v3h-1zM304 284h3v1h-3zM305 283h1v3h-1zM306 285h3v1h-3zM307 284h1v3h-1zM310 277h3v1h-3zM311 276h1v3h-1zM311 278h3v1h-3zM312 277h1v3h-1zM315 280h3v1h-3zM316 279h1v3h-1zM317 281h3v1h-3zM318 280h1v3h-1zM318 283h3v1h-3zM319 282h1v3h-1zM320 285h3v1h-3zM321 284h1v3h-1zM321 278h3v1h-3zM322 277h1v3h-1zM320 281h3v1h-3zM321 280h1v3h-1zM326 286h3v1h-3zM327 285h1v3h-1zM268 284h3v1h-3zM269 283h1v3h-1zM270 284h3v1h-3zM271 283h1v3h-1zM273 287h3v1h-3zM274 286h1v3h-1zM275 287h3v1h-3zM276 286h1v3h-1zM278 287h3v1h-3zM279 286h1v3h-1zM269 288h3v1h-3zM270 287h1v3h-1zM268 288h3v1h-3zM269 287h1v3h-1zM280 292h3v1h-3zM281 291h1v3h-1zM281 294h3v1h-3zM282 293h1v3h-1zM285 288h3v1h-3zM286 287h1v3h-1zM289 288h3v1h-3zM290 287h1v3h-1zM291 291h3v1h-3zM292 290h1v3h-1zM294 293h3v1h-3zM295 292h1v3h-1zM299 288h3v1h-3zM300 287h1v3h-1zM301 290h3v1h-3zM302 289h1v3h-1zM303 292h3v1h-3zM304 291h1v3h-1zM304 291h3v1h-3zM305 290h1v3h-1zM308 293h3v1h-3zM309 292h1v3h-1zM312 292h3v1h-3zM313 291h1v3h-1zM314 291h3v1h-3zM315 290h1v3h-1zM317 291h3v1h-3zM318 290h1v3h-1zM319 289h3v1h-3zM320 288h1v3h-1zM322 288h3v1h-3zM323 287h1v3h-1zM325 291h3v1h-3zM326 290h1v3h-1zM271 294h3v1h-3zM272 293h1v3h-1zM274 297h3v1h-3zM275 296h1v3h-1zM262 301h3v1h-3zM263 300h1v3h-1zM271 301h3v1h-3zM272 300h1v3h-1zM277 299h3v1h-3zM278 298h1v3h-1zM284 298h3v1h-3zM285 297h1v3h-1zM289 297h3v1h-3zM290 296h1v3h-1zM290 299h3v1h-3zM291 298h1v3h-1zM294 300h3v1h-3zM295 299h1v3h-1zM299 296h3v1h-3zM300 295h1v3h-1zM300 300h3v1h-3zM301 299h1v3h-1zM304 300h3v1h-3zM305 299h1v3h-1zM309 299h3v1h-3zM310 298h1v3h-1zM311 300h3v1h-3zM312 299h1v3h-1zM314 300h3v1h-3zM315 299h1v3h-1zM316 300h3v1h-3zM317 299h1v3h-1zM320 300h3v1h-3zM321 299h1v3h-1zM326 300h3v1h-3zM327 299h1v3h-1zM328 301h3v1h-3zM329 300h1v3h-1zM330 303h3v1h-3zM331 302h1v3h-1zM323 303h3v1h-3zM324 302h1v3h-1zM336 303h3v1h-3zM337 302h1v3h-1zM346 303h3v1h-3zM347 302h1v3h-1zM356 302h3v1h-3zM357 301h1v3h-1zM286 306h3v1h-3zM287 305h1v3h-1zM288 303h3v1h-3zM289 302h1v3h-1zM294 304h3v1h-3zM295 303h1v3h-1zM299 306h3v1h-3zM300 305h1v3h-1zM309 304h3v1h-3zM310 303h1v3h-1zM315 306h3v1h-3zM316 305h1v3h-1zM323 306h3v1h-3zM324 305h1v3h-1zM331 306h3v1h-3zM332 305h1v3h-1zM339 305h3v1h-3zM340 304h1v3h-1zM350 306h3v1h-3zM351 305h1v3h-1zM353 304h3v1h-3zM354 303h1v3h-1zM358 305h3v1h-3zM359 304h1v3h-1zM361 304h3v1h-3zM362 303h1v3h-1zM260 310h3v1h-3zM261 309h1v3h-1zM270 307h3v1h-3zM271 306h1v3h-1zM278 311h3v1h-3zM279 310h1v3h-1zM287 308h3v1h-3zM288 307h1v3h-1zM291 311h3v1h-3zM292 310h1v3h-1zM301 314h3v1h-3zM302 313h1v3h-1zM309 313h3v1h-3zM310 312h1v3h-1zM317 309h3v1h-3zM318 308h1v3h-1zM323 312h3v1h-3zM324 311h1v3h-1zM328 309h3v1h-3zM329 308h1v3h-1zM336 311h3v1h-3zM337 310h1v3h-1zM343 309h3v1h-3zM344 308h1v3h-1zM346 308h3v1h-3zM347 307h1v3h-1zM350 311h3v1h-3zM351 310h1v3h-1zM356 309h3v1h-3zM357 308h1v3h-1zM364 308h3v1h-3zM365 307h1v3h-1zM182 260h3v1h-3zM183 259h1v3h-1zM188 263h3v1h-3zM189 262h1v3h-1zM199 261h3v1h-3zM200 260h1v3h-1zM216 259h3v1h-3zM217 258h1v3h-1zM220 261h3v1h-3zM221 260h1v3h-1zM223 263h3v1h-3zM224 262h1v3h-1zM237 259h3v1h-3zM238 258h1v3h-1zM240 263h3v1h-3zM241 262h1v3h-1zM250 257h3v1h-3zM251 256h1v3h-1zM255 256h3v1h-3zM256 255h1v3h-1zM175 268h3v1h-3zM176 267h1v3h-1zM241 268h3v1h-3zM242 267h1v3h-1zM247 268h3v1h-3zM248 267h1v3h-1zM254 268h3v1h-3zM255 267h1v3h-1zM232 272h3v1h-3zM233 271h1v3h-1zM225 275h3v1h-3zM226 274h1v3h-1zM227 276h3v1h-3zM228 275h1v3h-1zM223 278h3v1h-3zM224 277h1v3h-1zM245 279h3v1h-3zM246 278h1v3h-1zM257 277h3v1h-3zM258 276h1v3h-1zM196 280h3v1h-3zM197 279h1v3h-1zM200 279h3v1h-3zM201 278h1v3h-1zM206 281h3v1h-3zM207 280h1v3h-1zM253 283h3v1h-3zM254 282h1v3h-1zM153 288h3v1h-3zM154 287h1v3h-1zM212 288h3v1h-3zM213 287h1v3h-1zM198 293h3v1h-3zM199 292h1v3h-1zM149 297h3v1h-3zM150 296h1v3h-1zM228 299h3v1h-3zM229 298h1v3h-1zM209 304h3v1h-3zM210 303h1v3h-1zM223 307h3v1h-3zM224 306h1v3h-1zM248 306h3v1h-3zM249 305h1v3h-1zM251 304h3v1h-3zM252 303h1v3h-1zM254 303h3v1h-3zM255 302h1v3h-1zM195 311h3v1h-3zM196 310h1v3h-1zM251 313h3v1h-3zM252 312h1v3h-1zM207 314h3v1h-3zM208 313h1v3h-1zM223 314h3v1h-3zM224 313h1v3h-1zM123 289h3v1h-3zM124 288h1v3h-1zM133 294h3v1h-3zM134 293h1v3h-1zM103 297h3v1h-3zM104 296h1v3h-1zM100 306h3v1h-3zM101 305h1v3h-1zM102 312h3v1h-3zM103 311h1v3h-1zM44 334h3v1h-3zM45 333h1v3h-1zM45 332h3v1h-3zM46 331h1v3h-1zM48 332h3v1h-3zM49 331h1v3h-1zM68 332h3v1h-3zM69 331h1v3h-1zM92 330h3v1h-3zM93 329h1v3h-1zM101 329h3v1h-3zM102 328h1v3h-1zM99 332h3v1h-3zM100 331h1v3h-1zM105 334h3v1h-3zM106 333h1v3h-1zM107 333h3v1h-3zM108 332h1v3h-1zM34 297h3v1h-3zM35 296h1v3h-1zM154 318h3v1h-3zM155 317h1v3h-1zM153 322h3v1h-3zM154 321h1v3h-1zM120 327h3v1h-3zM121 326h1v3h-1zM125 326h3v1h-3zM126 325h1v3h-1zM133 329h3v1h-3zM134 328h1v3h-1zM115 334h3v1h-3zM116 333h1v3h-1zM128 334h3v1h-3zM129 333h1v3h-1zM154 334h3v1h-3zM155 333h1v3h-1zM162 326h3v1h-3zM163 325h1v3h-1zM166 329h3v1h-3zM167 328h1v3h-1zM168 332h3v1h-3zM169 331h1v3h-1zM162 333h3v1h-3zM163 332h1v3h-1zM163 335h3v1h-3zM164 334h1v3h-1zM178 331h3v1h-3zM179 330h1v3h-1zM178 334h3v1h-3zM179 333h1v3h-1zM182 333h3v1h-3zM183 332h1v3h-1zM189 333h3v1h-3zM190 332h1v3h-1zM192 331h3v1h-3zM193 330h1v3h-1zM193 333h3v1h-3zM194 332h1v3h-1zM191 332h3v1h-3zM192 331h1v3h-1zM199 333h3v1h-3zM200 332h1v3h-1zM205 332h3v1h-3zM206 331h1v3h-1zM211 332h3v1h-3zM212 331h1v3h-1zM216 326h3v1h-3zM217 325h1v3h-1zM217 331h3v1h-3zM218 330h1v3h-1zM234 318h3v1h-3zM235 317h1v3h-1zM243 321h3v1h-3zM244 320h1v3h-1zM235 323h3v1h-3zM236 322h1v3h-1zM233 327h3v1h-3zM234 326h1v3h-1zM230 332h3v1h-3zM231 331h1v3h-1zM231 334h3v1h-3zM232 333h1v3h-1zM238 334h3v1h-3zM239 333h1v3h-1zM241 333h3v1h-3zM242 332h1v3h-1zM242 333h3v1h-3zM243 332h1v3h-1zM241 332h3v1h-3zM242 331h1v3h-1zM246 330h3v1h-3zM247 329h1v3h-1zM251 331h3v1h-3zM252 330h1v3h-1zM252 332h3v1h-3zM253 331h1v3h-1zM256 333h3v1h-3zM257 332h1v3h-1zM256 334h3v1h-3zM257 333h1v3h-1zM261 326h3v1h-3zM262 325h1v3h-1zM261 328h3v1h-3zM262 327h1v3h-1zM263 331h3v1h-3zM264 330h1v3h-1zM265 333h3v1h-3zM266 332h1v3h-1zM265 325h3v1h-3zM266 324h1v3h-1zM268 318h3v1h-3zM269 317h1v3h-1zM268 322h3v1h-3zM269 321h1v3h-1zM270 323h3v1h-3zM271 322h1v3h-1zM269 328h3v1h-3zM270 327h1v3h-1zM269 333h3v1h-3zM270 332h1v3h-1zM273 333h3v1h-3zM274 332h1v3h-1zM276 323h3v1h-3zM277 322h1v3h-1zM276 328h3v1h-3zM277 327h1v3h-1zM280 318h3v1h-3zM281 317h1v3h-1zM282 318h3v1h-3zM283 317h1v3h-1zM284 319h3v1h-3zM285 318h1v3h-1zM280 328h3v1h-3zM281 327h1v3h-1zM283 327h3v1h-3zM284 326h1v3h-1zM281 333h3v1h-3zM282 332h1v3h-1zM284 333h3v1h-3zM285 332h1v3h-1zM287 332h3v1h-3zM288 331h1v3h-1zM290 331h3v1h-3zM291 330h1v3h-1zM289 320h3v1h-3zM290 319h1v3h-1zM291 322h3v1h-3zM292 321h1v3h-1zM294 318h3v1h-3zM295 317h1v3h-1zM295 317h3v1h-3zM296 316h1v3h-1zM295 332h3v1h-3zM296 331h1v3h-1zM296 333h3v1h-3zM297 332h1v3h-1zM298 332h3v1h-3zM299 331h1v3h-1zM297 320h3v1h-3zM298 319h1v3h-1zM219 331h3v1h-3zM220 330h1v3h-1zM300 317h3v1h-3zM301 316h1v3h-1zM318 315h3v1h-3zM319 314h1v3h-1zM320 316h3v1h-3zM321 315h1v3h-1zM321 316h3v1h-3zM322 315h1v3h-1zM323 315h3v1h-3zM324 314h1v3h-1zM325 316h3v1h-3zM326 315h1v3h-1zM324 318h3v1h-3zM325 317h1v3h-1zM321 317h3v1h-3zM322 316h1v3h-1zM319 318h3v1h-3zM320 317h1v3h-1zM314 322h3v1h-3zM315 321h1v3h-1zM312 323h3v1h-3zM313 322h1v3h-1zM318 321h3v1h-3zM319 320h1v3h-1zM327 326h3v1h-3zM328 325h1v3h-1zM326 325h3v1h-3zM327 324h1v3h-1zM321 326h3v1h-3zM322 325h1v3h-1zM331 327h3v1h-3zM332 326h1v3h-1zM333 326h3v1h-3zM334 325h1v3h-1zM334 328h3v1h-3zM335 327h1v3h-1zM332 330h3v1h-3zM333 329h1v3h-1zM330 331h3v1h-3zM331 330h1v3h-1zM329 332h3v1h-3zM330 331h1v3h-1zM327 333h3v1h-3zM328 332h1v3h-1zM325 330h3v1h-3zM326 329h1v3h-1zM335 330h3v1h-3zM336 329h1v3h-1zM333 329h3v1h-3zM334 328h1v3h-1zM320 330h3v1h-3zM321 329h1v3h-1zM313 329h3v1h-3zM314 328h1v3h-1zM314 331h3v1h-3zM315 330h1v3h-1zM312 332h3v1h-3zM313 331h1v3h-1zM315 330h3v1h-3zM316 329h1v3h-1zM305 327h3v1h-3zM306 326h1v3h-1zM303 328h3v1h-3zM304 327h1v3h-1zM301 332h3v1h-3zM302 331h1v3h-1zM303 333h3v1h-3zM304 332h1v3h-1zM305 333h3v1h-3zM306 332h1v3h-1zM309 334h3v1h-3zM310 333h1v3h-1zM344 318h3v1h-3zM345 317h1v3h-1zM345 320h3v1h-3zM346 319h1v3h-1zM347 320h3v1h-3zM348 319h1v3h-1zM344 320h3v1h-3zM345 319h1v3h-1zM349 323h3v1h-3zM350 322h1v3h-1zM350 325h3v1h-3zM351 324h1v3h-1zM341 330h3v1h-3zM342 329h1v3h-1zM343 331h3v1h-3zM344 330h1v3h-1zM341 332h3v1h-3zM342 331h1v3h-1zM346 328h3v1h-3zM347 327h1v3h-1zM355 330h3v1h-3zM356 329h1v3h-1zM361 318h3v1h-3zM362 317h1v3h-1zM362 320h3v1h-3zM363 319h1v3h-1zM375 321h3v1h-3zM376 320h1v3h-1zM378 330h3v1h-3zM379 329h1v3h-1zM369 284h3v1h-3zM370 283h1v3h-1zM369 286h3v1h-3zM370 285h1v3h-1zM369 288h3v1h-3zM370 287h1v3h-1zM369 290h3v1h-3zM370 289h1v3h-1zM369 292h3v1h-3zM370 291h1v3h-1zM369 294h3v1h-3zM370 293h1v3h-1zM369 296h3v1h-3zM370 295h1v3h-1zM369 298h3v1h-3zM370 297h1v3h-1zM369 300h3v1h-3zM370 299h1v3h-1zM369 302h3v1h-3zM370 301h1v3h-1zM369 304h3v1h-3zM370 303h1v3h-1zM369 306h3v1h-3zM370 305h1v3h-1zM369 308h3v1h-3zM370 307h1v3h-1zM369 310h3v1h-3zM370 309h1v3h-1zM369 312h3v1h-3zM370 311h1v3h-1zM369 314h3v1h-3zM370 313h1v3h-1zM369 316h3v1h-3zM370 315h1v3h-1zM369 318h3v1h-3zM370 317h1v3h-1zM369 320h3v1h-3zM370 319h1v3h-1zM369 322h3v1h-3zM370 321h1v3h-1zM369 324h3v1h-3zM370 323h1v3h-1zM369 326h3v1h-3zM370 325h1v3h-1zM369 328h3v1h-3zM370 327h1v3h-1zM369 330h3v1h-3zM370 329h1v3h-1zM369 332h3v1h-3zM370 331h1v3h-1zM369 334h3v1h-3zM370 333h1v3h-1zM391 222h3v1h-3zM392 221h1v3h-1zM391 240h3v1h-3zM392 239h1v3h-1zM376 245h3v1h-3zM377 244h1v3h-1zM374 251h3v1h-3zM375 250h1v3h-1zM369 248h3v1h-3zM370 247h1v3h-1zM389 257h3v1h-3zM390 256h1v3h-1zM471 316h3v1h-3zM472 315h1v3h-1zM472 320h3v1h-3zM473 319h1v3h-1zM473 323h3v1h-3zM474 322h1v3h-1zM478 321h3v1h-3zM479 320h1v3h-1zM482 316h3v1h-3zM483 315h1v3h-1zM486 318h3v1h-3zM487 317h1v3h-1zM487 322h3v1h-3zM488 321h1v3h-1zM496 318h3v1h-3zM497 317h1v3h-1zM507 322h3v1h-3zM508 321h1v3h-1zM511 320h3v1h-3zM512 319h1v3h-1zM512 325h3v1h-3zM513 324h1v3h-1zM517 313h3v1h-3zM518 312h1v3h-1zM522 321h3v1h-3zM523 320h1v3h-1zM525 322h3v1h-3zM526 321h1v3h-1zM469 330h3v1h-3zM470 329h1v3h-1zM468 332h3v1h-3zM469 331h1v3h-1zM470 331h3v1h-3zM471 330h1v3h-1zM472 332h3v1h-3zM473 331h1v3h-1zM473 330h3v1h-3zM474 329h1v3h-1zM475 332h3v1h-3zM476 331h1v3h-1zM478 333h3v1h-3zM479 332h1v3h-1zM480 332h3v1h-3zM481 331h1v3h-1zM481 334h3v1h-3zM482 333h1v3h-1zM485 328h3v1h-3zM486 327h1v3h-1zM484 332h3v1h-3zM485 331h1v3h-1zM487 333h3v1h-3zM488 332h1v3h-1zM491 330h3v1h-3zM492 329h1v3h-1zM493 333h3v1h-3zM494 332h1v3h-1zM496 329h3v1h-3zM497 328h1v3h-1zM502 328h3v1h-3zM503 327h1v3h-1zM504 330h3v1h-3zM505 329h1v3h-1zM506 333h3v1h-3zM507 332h1v3h-1zM512 333h3v1h-3zM513 332h1v3h-1zM518 333h3v1h-3zM519 332h1v3h-1zM522 331h3v1h-3zM523 330h1v3h-1zM524 333h3v1h-3zM525 332h1v3h-1zM527 333h3v1h-3zM528 332h1v3h-1zM374 287h3v1h-3zM375 286h1v3h-1zM376 288h3v1h-3zM377 287h1v3h-1zM377 286h3v1h-3zM378 285h1v3h-1zM379 287h3v1h-3zM380 286h1v3h-1zM382 285h3v1h-3zM383 284h1v3h-1zM385 287h3v1h-3zM386 286h1v3h-1zM386 287h3v1h-3zM387 286h1v3h-1zM388 287h3v1h-3zM389 286h1v3h-1zM389 286h3v1h-3zM390 285h1v3h-1zM391 287h3v1h-3zM392 286h1v3h-1zM400 284h3v1h-3zM401 283h1v3h-1zM402 286h3v1h-3zM403 285h1v3h-1zM404 287h3v1h-3zM405 286h1v3h-1zM407 287h3v1h-3zM408 286h1v3h-1zM410 290h3v1h-3zM411 289h1v3h-1zM412 291h3v1h-3zM413 290h1v3h-1zM415 293h3v1h-3zM416 292h1v3h-1zM382 292h3v1h-3zM383 291h1v3h-1zM386 292h3v1h-3zM387 291h1v3h-1zM389 293h3v1h-3zM390 292h1v3h-1zM398 293h3v1h-3zM399 292h1v3h-1zM402 292h3v1h-3zM403 291h1v3h-1zM405 291h3v1h-3zM406 290h1v3h-1zM409 291h3v1h-3zM410 290h1v3h-1zM375 294h3v1h-3zM376 293h1v3h-1zM378 295h3v1h-3zM379 294h1v3h-1zM371 295h3v1h-3zM372 294h1v3h-1zM373 297h3v1h-3zM374 296h1v3h-1zM376 299h3v1h-3zM377 298h1v3h-1zM379 298h3v1h-3zM380 297h1v3h-1zM371 303h3v1h-3zM372 302h1v3h-1zM374 303h3v1h-3zM375 302h1v3h-1zM377 302h3v1h-3zM378 301h1v3h-1zM376 306h3v1h-3zM377 305h1v3h-1zM373 308h3v1h-3zM374 307h1v3h-1zM378 308h3v1h-3zM379 307h1v3h-1zM423 284h3v1h-3zM424 283h1v3h-1zM426 287h3v1h-3zM427 286h1v3h-1zM432 286h3v1h-3zM433 285h1v3h-1zM434 288h3v1h-3zM435 287h1v3h-1zM435 291h3v1h-3zM436 290h1v3h-1zM438 293h3v1h-3zM439 292h1v3h-1zM418 287h3v1h-3zM419 286h1v3h-1zM462 288h3v1h-3zM463 287h1v3h-1zM460 291h3v1h-3zM461 290h1v3h-1zM463 284h3v1h-3zM464 283h1v3h-1zM420 295h3v1h-3zM421 294h1v3h-1zM426 293h3v1h-3zM427 292h1v3h-1zM429 296h3v1h-3zM430 295h1v3h-1zM443 297h3v1h-3zM444 296h1v3h-1zM448 296h3v1h-3zM449 295h1v3h-1zM454 295h3v1h-3zM455 294h1v3h-1zM463 296h3v1h-3zM464 295h1v3h-1zM407 294h3v1h-3zM408 293h1v3h-1zM432 298h3v1h-3zM433 297h1v3h-1zM376 301h3v1h-3zM377 300h1v3h-1zM374 299h3v1h-3zM375 298h1v3h-1zM419 306h3v1h-3zM420 305h1v3h-1zM384 296h3v1h-3zM385 295h1v3h-1zM443 309h3v1h-3zM444 308h1v3h-1zM437 299h3v1h-3zM438 298h1v3h-1zM386 294h3v1h-3zM387 293h1v3h-1zM406 306h3v1h-3zM407 305h1v3h-1zM391 302h3v1h-3zM392 301h1v3h-1zM444 298h3v1h-3zM445 297h1v3h-1zM376 295h3v1h-3zM377 294h1v3h-1zM449 299h3v1h-3zM450 298h1v3h-1zM406 302h3v1h-3zM407 301h1v3h-1zM423 297h3v1h-3zM424 296h1v3h-1zM462 304h3v1h-3zM463 303h1v3h-1zM398 302h3v1h-3zM399 301h1v3h-1zM431 307h3v1h-3zM432 306h1v3h-1zM455 297h3v1h-3zM456 296h1v3h-1zM418 305h3v1h-3zM419 304h1v3h-1zM387 300h3v1h-3zM388 299h1v3h-1zM374 304h3v1h-3zM375 303h1v3h-1zM459 302h3v1h-3zM460 301h1v3h-1zM451 302h3v1h-3zM452 301h1v3h-1zM437 300h3v1h-3zM438 299h1v3h-1zM468 309h3v1h-3zM469 308h1v3h-1zM425 303h3v1h-3zM426 302h1v3h-1zM377 304h3v1h-3zM378 303h1v3h-1zM466 297h3v1h-3zM467 296h1v3h-1zM415 304h3v1h-3zM416 303h1v3h-1zM372 300h3v1h-3zM373 299h1v3h-1zM389 294h3v1h-3zM390 293h1v3h-1zM376 305h3v1h-3zM377 304h1v3h-1zM385 296h3v1h-3zM386 295h1v3h-1zM415 307h3v1h-3zM416 306h1v3h-1zM379 300h3v1h-3zM380 299h1v3h-1zM434 307h3v1h-3zM435 306h1v3h-1zM465 307h3v1h-3zM466 306h1v3h-1zM402 299h3v1h-3zM403 298h1v3h-1zM411 307h3v1h-3zM412 306h1v3h-1zM390 296h3v1h-3zM391 295h1v3h-1zM397 300h3v1h-3zM398 299h1v3h-1zM438 296h3v1h-3zM439 295h1v3h-1zM413 302h3v1h-3zM414 301h1v3h-1zM430 303h3v1h-3zM431 302h1v3h-1zM475 306h3v1h-3zM476 305h1v3h-1zM472 306h3v1h-3zM473 305h1v3h-1zM415 299h3v1h-3zM416 298h1v3h-1zM382 303h3v1h-3zM383 302h1v3h-1zM394 294h3v1h-3zM395 293h1v3h-1zM381 298h3v1h-3zM382 297h1v3h-1zM399 298h3v1h-3zM400 297h1v3h-1zM412 294h3v1h-3zM413 293h1v3h-1zM424 300h3v1h-3zM425 299h1v3h-1zM410 296h3v1h-3zM411 295h1v3h-1zM471 304h3v1h-3zM472 303h1v3h-1zM400 298h3v1h-3zM401 297h1v3h-1zM389 305h3v1h-3zM390 304h1v3h-1zM432 306h3v1h-3zM433 305h1v3h-1zM408 296h3v1h-3zM409 295h1v3h-1zM469 306h3v1h-3zM470 305h1v3h-1zM465 305h3v1h-3zM466 304h1v3h-1zM396 301h3v1h-3zM397 300h1v3h-1zM373 297h3v1h-3zM374 296h1v3h-1zM400 304h3v1h-3zM401 303h1v3h-1zM395 296h3v1h-3zM396 295h1v3h-1zM393 295h3v1h-3zM394 294h1v3h-1zM443 308h3v1h-3zM444 307h1v3h-1zM468 300h3v1h-3zM469 299h1v3h-1zM446 306h3v1h-3zM447 305h1v3h-1zM379 303h3v1h-3zM380 302h1v3h-1zM476 306h3v1h-3zM477 305h1v3h-1zM457 300h3v1h-3zM458 299h1v3h-1zM390 306h3v1h-3zM391 305h1v3h-1zM408 306h3v1h-3zM409 305h1v3h-1zM416 309h3v1h-3zM417 308h1v3h-1zM384 294h3v1h-3zM385 293h1v3h-1zM475 306h3v1h-3zM476 305h1v3h-1zM387 306h3v1h-3zM388 305h1v3h-1zM410 301h3v1h-3zM411 300h1v3h-1zM431 308h3v1h-3zM432 307h1v3h-1zM420 307h3v1h-3zM421 306h1v3h-1zM399 297h3v1h-3zM400 296h1v3h-1zM398 302h3v1h-3zM399 301h1v3h-1zM400 299h3v1h-3zM401 298h1v3h-1zM385 308h3v1h-3zM386 307h1v3h-1zM411 300h3v1h-3zM412 299h1v3h-1zM438 308h3v1h-3zM439 307h1v3h-1zM419 308h3v1h-3zM420 307h1v3h-1zM428 301h3v1h-3zM429 300h1v3h-1zM421 295h3v1h-3zM422 294h1v3h-1zM390 300h3v1h-3zM391 299h1v3h-1zM454 302h3v1h-3zM455 301h1v3h-1zM408 301h3v1h-3zM409 300h1v3h-1zM434 306h3v1h-3zM435 305h1v3h-1zM382 302h3v1h-3zM383 301h1v3h-1zM399 296h3v1h-3zM400 295h1v3h-1zM460 301h3v1h-3zM461 300h1v3h-1zM435 305h3v1h-3zM436 304h1v3h-1zM441 301h3v1h-3zM442 300h1v3h-1zM429 304h3v1h-3zM430 303h1v3h-1zM422 301h3v1h-3zM423 300h1v3h-1zM425 308h3v1h-3zM426 307h1v3h-1zM451 307h3v1h-3zM452 306h1v3h-1zM435 308h3v1h-3zM436 307h1v3h-1zM384 299h3v1h-3zM385 298h1v3h-1zM378 296h3v1h-3zM379 295h1v3h-1zM378 304h3v1h-3zM379 303h1v3h-1zM461 308h3v1h-3zM462 307h1v3h-1zM388 304h3v1h-3zM389 303h1v3h-1zM473 309h3v1h-3zM474 308h1v3h-1zM395 309h3v1h-3zM396 308h1v3h-1zM416 300h3v1h-3zM417 299h1v3h-1zM485 306h3v1h-3zM486 305h1v3h-1zM388 299h3v1h-3zM389 298h1v3h-1zM430 298h3v1h-3zM431 297h1v3h-1zM392 297h3v1h-3zM393 296h1v3h-1zM434 299h3v1h-3zM435 298h1v3h-1zM372 297h3v1h-3zM373 296h1v3h-1zM442 301h3v1h-3zM443 300h1v3h-1zM462 309h3v1h-3zM463 308h1v3h-1zM382 296h3v1h-3zM383 295h1v3h-1zM374 306h3v1h-3zM375 305h1v3h-1zM401 294h3v1h-3zM402 293h1v3h-1zM419 308h3v1h-3zM420 307h1v3h-1zM387 308h3v1h-3zM388 307h1v3h-1zM436 304h3v1h-3zM437 303h1v3h-1zM450 299h3v1h-3zM451 298h1v3h-1zM444 306h3v1h-3zM445 305h1v3h-1zM423 298h3v1h-3zM424 297h1v3h-1zM434 308h3v1h-3zM435 307h1v3h-1zM401 294h3v1h-3zM402 293h1v3h-1zM431 296h3v1h-3zM432 295h1v3h-1zM382 294h3v1h-3zM383 293h1v3h-1zM375 295h3v1h-3zM376 294h1v3h-1zM406 297h3v1h-3zM407 296h1v3h-1zM458 297h3v1h-3zM459 296h1v3h-1zM428 295h3v1h-3zM429 294h1v3h-1zM455 301h3v1h-3zM456 300h1v3h-1zM392 300h3v1h-3zM393 299h1v3h-1zM465 299h3v1h-3zM466 298h1v3h-1zM427 307h3v1h-3zM428 306h1v3h-1zM415 301h3v1h-3zM416 300h1v3h-1zM410 306h3v1h-3zM411 305h1v3h-1zM452 303h3v1h-3zM453 302h1v3h-1zM417 298h3v1h-3zM418 297h1v3h-1zM376 294h3v1h-3zM377 293h1v3h-1zM378 305h3v1h-3zM379 304h1v3h-1zM399 294h3v1h-3zM400 293h1v3h-1zM471 304h3v1h-3zM472 303h1v3h-1zM402 296h3v1h-3zM403 295h1v3h-1zM404 300h3v1h-3zM405 299h1v3h-1zM388 300h3v1h-3zM389 299h1v3h-1zM400 309h3v1h-3zM401 308h1v3h-1zM398 309h3v1h-3zM399 308h1v3h-1zM406 298h3v1h-3zM407 297h1v3h-1zM425 301h3v1h-3zM426 300h1v3h-1zM393 301h3v1h-3zM394 300h1v3h-1zM380 299h3v1h-3zM381 298h1v3h-1zM405 296h3v1h-3zM406 295h1v3h-1zM438 301h3v1h-3zM439 300h1v3h-1zM457 303h3v1h-3zM458 302h1v3h-1zM453 307h3v1h-3zM454 306h1v3h-1zM415 297h3v1h-3zM416 296h1v3h-1zM454 303h3v1h-3zM455 302h1v3h-1zM474 303h3v1h-3zM475 302h1v3h-1zM455 306h3v1h-3zM456 305h1v3h-1zM386 301h3v1h-3zM387 300h1v3h-1zM429 307h3v1h-3zM430 306h1v3h-1zM464 306h3v1h-3zM465 305h1v3h-1zM438 308h3v1h-3zM439 307h1v3h-1zM449 304h3v1h-3zM450 303h1v3h-1zM385 298h3v1h-3zM386 297h1v3h-1zM435 303h3v1h-3zM436 302h1v3h-1zM443 304h3v1h-3zM444 303h1v3h-1zM463 305h3v1h-3zM464 304h1v3h-1zM428 301h3v1h-3zM429 300h1v3h-1zM456 296h3v1h-3zM457 295h1v3h-1zM378 296h3v1h-3zM379 295h1v3h-1zM427 298h3v1h-3zM428 297h1v3h-1zM426 304h3v1h-3zM427 303h1v3h-1zM459 303h3v1h-3zM460 302h1v3h-1zM387 296h3v1h-3zM388 295h1v3h-1zM456 297h3v1h-3zM457 296h1v3h-1zM377 296h3v1h-3zM378 295h1v3h-1zM448 304h3v1h-3zM449 303h1v3h-1zM449 297h3v1h-3zM450 296h1v3h-1zM430 300h3v1h-3zM431 299h1v3h-1zM484 308h3v1h-3zM485 307h1v3h-1zM372 300h3v1h-3zM373 299h1v3h-1zM465 309h3v1h-3zM466 308h1v3h-1zM422 296h3v1h-3zM423 295h1v3h-1zM394 309h3v1h-3zM395 308h1v3h-1zM394 302h3v1h-3zM395 301h1v3h-1zM386 301h3v1h-3zM387 300h1v3h-1zM465 301h3v1h-3zM466 300h1v3h-1zM473 304h3v1h-3zM474 303h1v3h-1zM397 308h3v1h-3zM398 307h1v3h-1zM422 297h3v1h-3zM423 296h1v3h-1zM386 298h3v1h-3zM387 297h1v3h-1zM406 307h3v1h-3zM407 306h1v3h-1zM478 304h3v1h-3zM479 303h1v3h-1zM413 299h3v1h-3zM414 298h1v3h-1zM412 299h3v1h-3zM413 298h1v3h-1zM403 308h3v1h-3zM404 307h1v3h-1zM399 296h3v1h-3zM400 295h1v3h-1zM429 295h3v1h-3zM430 294h1v3h-1zM413 309h3v1h-3zM414 308h1v3h-1zM473 306h3v1h-3zM474 305h1v3h-1zM443 308h3v1h-3zM444 307h1v3h-1zM455 300h3v1h-3zM456 299h1v3h-1zM458 303h3v1h-3zM459 302h1v3h-1zM425 298h3v1h-3zM426 297h1v3h-1zM404 305h3v1h-3zM405 304h1v3h-1zM446 297h3v1h-3zM447 296h1v3h-1zM435 299h3v1h-3zM436 298h1v3h-1zM389 294h3v1h-3zM390 293h1v3h-1zM394 308h3v1h-3zM395 307h1v3h-1zM428 295h3v1h-3zM429 294h1v3h-1zM422 294h3v1h-3zM423 293h1v3h-1zM397 296h3v1h-3zM398 295h1v3h-1zM436 307h3v1h-3zM437 306h1v3h-1zM457 299h3v1h-3zM458 298h1v3h-1zM418 301h3v1h-3zM419 300h1v3h-1zM414 298h3v1h-3zM415 297h1v3h-1zM377 296h3v1h-3zM378 295h1v3h-1zM428 303h3v1h-3zM429 302h1v3h-1zM401 296h3v1h-3zM402 295h1v3h-1zM416 300h3v1h-3zM417 299h1v3h-1zM481 307h3v1h-3zM482 306h1v3h-1zM373 304h3v1h-3zM374 303h1v3h-1zM415 308h3v1h-3zM416 307h1v3h-1zM466 307h3v1h-3zM467 306h1v3h-1zM382 294h3v1h-3zM383 293h1v3h-1zM431 304h3v1h-3zM432 303h1v3h-1zM480 304h3v1h-3zM481 303h1v3h-1zM445 305h3v1h-3zM446 304h1v3h-1zM423 301h3v1h-3zM424 300h1v3h-1zM374 306h3v1h-3zM375 305h1v3h-1zM397 308h3v1h-3zM398 307h1v3h-1zM445 297h3v1h-3zM446 296h1v3h-1zM384 296h3v1h-3zM385 295h1v3h-1zM444 304h3v1h-3zM445 303h1v3h-1zM431 302h3v1h-3zM432 301h1v3h-1zM415 296h3v1h-3zM416 295h1v3h-1zM405 300h3v1h-3zM406 299h1v3h-1zM473 300h3v1h-3zM474 299h1v3h-1zM397 296h3v1h-3zM398 295h1v3h-1zM428 304h3v1h-3zM429 303h1v3h-1zM419 296h3v1h-3zM420 295h1v3h-1zM448 308h3v1h-3zM449 307h1v3h-1zM409 299h3v1h-3zM410 298h1v3h-1zM463 305h3v1h-3zM464 304h1v3h-1zM429 295h3v1h-3zM430 294h1v3h-1zM395 305h3v1h-3zM396 304h1v3h-1zM404 309h3v1h-3zM405 308h1v3h-1zM428 295h3v1h-3zM429 294h1v3h-1zM396 299h3v1h-3zM397 298h1v3h-1zM447 309h3v1h-3zM448 308h1v3h-1zM387 299h3v1h-3zM388 298h1v3h-1zM377 299h3v1h-3zM378 298h1v3h-1zM475 307h3v1h-3zM476 306h1v3h-1zM391 308h3v1h-3zM392 307h1v3h-1zM447 298h3v1h-3zM448 297h1v3h-1zM413 297h3v1h-3zM414 296h1v3h-1zM402 298h3v1h-3zM403 297h1v3h-1zM411 306h3v1h-3zM412 305h1v3h-1zM466 299h3v1h-3zM467 298h1v3h-1zM375 300h3v1h-3zM376 299h1v3h-1zM413 308h3v1h-3zM414 307h1v3h-1zM392 298h3v1h-3zM393 297h1v3h-1zM418 306h3v1h-3zM419 305h1v3h-1zM457 308h3v1h-3zM458 307h1v3h-1zM409 296h3v1h-3zM410 295h1v3h-1zM400 304h3v1h-3zM401 303h1v3h-1zM407 296h3v1h-3zM408 295h1v3h-1zM477 303h3v1h-3zM478 302h1v3h-1zM397 300h3v1h-3zM398 299h1v3h-1zM481 309h3v1h-3zM482 308h1v3h-1zM415 296h3v1h-3zM416 295h1v3h-1zM420 300h3v1h-3zM421 299h1v3h-1zM463 305h3v1h-3zM464 304h1v3h-1zM466 305h3v1h-3zM467 304h1v3h-1zM441 297h3v1h-3zM442 296h1v3h-1zM407 298h3v1h-3zM408 297h1v3h-1zM393 305h3v1h-3zM394 304h1v3h-1zM373 301h3v1h-3zM374 300h1v3h-1zM381 300h3v1h-3zM382 299h1v3h-1zM453 300h3v1h-3zM454 299h1v3h-1zM397 299h3v1h-3zM398 298h1v3h-1zM442 304h3v1h-3zM443 303h1v3h-1zM457 307h3v1h-3zM458 306h1v3h-1zM436 298h3v1h-3zM437 297h1v3h-1zM398 296h3v1h-3zM399 295h1v3h-1zM387 307h3v1h-3zM388 306h1v3h-1zM437 297h3v1h-3zM438 296h1v3h-1zM429 296h3v1h-3zM430 295h1v3h-1zM464 303h3v1h-3zM465 302h1v3h-1zM425 306h3v1h-3zM426 305h1v3h-1zM468 308h3v1h-3zM469 307h1v3h-1zM374 297h3v1h-3zM375 296h1v3h-1zM383 295h3v1h-3zM384 294h1v3h-1zM471 300h3v1h-3zM472 299h1v3h-1zM400 305h3v1h-3zM401 304h1v3h-1zM439 303h3v1h-3zM440 302h1v3h-1zM395 298h3v1h-3zM396 297h1v3h-1zM386 295h3v1h-3zM387 294h1v3h-1zM399 302h3v1h-3zM400 301h1v3h-1zM371 297h3v1h-3zM372 296h1v3h-1zM406 295h3v1h-3zM407 294h1v3h-1zM463 301h3v1h-3zM464 300h1v3h-1zM416 301h3v1h-3zM417 300h1v3h-1zM389 304h3v1h-3zM390 303h1v3h-1zM417 297h3v1h-3zM418 296h1v3h-1zM405 309h3v1h-3zM406 308h1v3h-1zM406 302h3v1h-3zM407 301h1v3h-1zM411 299h3v1h-3zM412 298h1v3h-1zM412 295h3v1h-3zM413 294h1v3h-1zM419 306h3v1h-3zM420 305h1v3h-1zM417 307h3v1h-3zM418 306h1v3h-1zM423 294h3v1h-3zM424 293h1v3h-1zM371 301h3v1h-3zM372 300h1v3h-1zM444 308h3v1h-3zM445 307h1v3h-1zM380 303h3v1h-3zM381 302h1v3h-1zM413 301h3v1h-3zM414 300h1v3h-1zM387 297h3v1h-3zM388 296h1v3h-1zM430 308h3v1h-3zM431 307h1v3h-1zM382 300h3v1h-3zM383 299h1v3h-1zM464 309h3v1h-3zM465 308h1v3h-1zM393 294h3v1h-3zM394 293h1v3h-1zM475 303h3v1h-3zM476 302h1v3h-1zM417 307h3v1h-3zM418 306h1v3h-1zM395 299h3v1h-3zM396 298h1v3h-1zM430 298h3v1h-3zM431 297h1v3h-1zM384 296h3v1h-3zM385 295h1v3h-1zM454 308h3v1h-3zM455 307h1v3h-1zM374 302h3v1h-3zM375 301h1v3h-1zM440 301h3v1h-3zM441 300h1v3h-1zM443 297h3v1h-3zM444 296h1v3h-1zM419 302h3v1h-3zM420 301h1v3h-1zM419 303h3v1h-3zM420 302h1v3h-1zM422 299h3v1h-3zM423 298h1v3h-1zM372 303h3v1h-3zM373 302h1v3h-1zM427 296h3v1h-3zM428 295h1v3h-1zM459 306h3v1h-3zM460 305h1v3h-1zM423 295h3v1h-3zM424 294h1v3h-1zM385 299h3v1h-3zM386 298h1v3h-1zM380 299h3v1h-3zM381 298h1v3h-1zM455 305h3v1h-3zM456 304h1v3h-1zM428 298h3v1h-3zM429 297h1v3h-1zM455 306h3v1h-3zM456 305h1v3h-1zM427 309h3v1h-3zM428 308h1v3h-1zM462 308h3v1h-3zM463 307h1v3h-1zM377 298h3v1h-3zM378 297h1v3h-1zM428 308h3v1h-3zM429 307h1v3h-1zM394 296h3v1h-3zM395 295h1v3h-1zM429 297h3v1h-3zM430 296h1v3h-1zM374 295h3v1h-3zM375 294h1v3h-1zM388 308h3v1h-3zM389 307h1v3h-1zM449 308h3v1h-3zM450 307h1v3h-1zM389 306h3v1h-3zM390 305h1v3h-1zM383 301h3v1h-3zM384 300h1v3h-1zM444 298h3v1h-3zM445 297h1v3h-1zM472 301h3v1h-3zM473 300h1v3h-1zM437 307h3v1h-3zM438 306h1v3h-1zM443 299h3v1h-3zM444 298h1v3h-1zM412 305h3v1h-3zM413 304h1v3h-1zM421 295h3v1h-3zM422 294h1v3h-1zM438 303h3v1h-3zM439 302h1v3h-1zM373 294h3v1h-3zM374 293h1v3h-1zM442 299h3v1h-3zM443 298h1v3h-1zM429 308h3v1h-3zM430 307h1v3h-1zM385 296h3v1h-3zM386 295h1v3h-1zM382 298h3v1h-3zM383 297h1v3h-1zM396 302h3v1h-3zM397 301h1v3h-1zM438 295h3v1h-3zM439 294h1v3h-1zM442 300h3v1h-3zM443 299h1v3h-1zM385 308h3v1h-3zM386 307h1v3h-1zM398 294h3v1h-3zM399 293h1v3h-1zM381 303h3v1h-3zM382 302h1v3h-1zM471 306h3v1h-3zM472 305h1v3h-1zM417 296h3v1h-3zM418 295h1v3h-1zM371 303h3v1h-3zM372 302h1v3h-1zM435 298h3v1h-3zM436 297h1v3h-1zM445 299h3v1h-3zM446 298h1v3h-1zM479 305h3v1h-3zM480 304h1v3h-1zM399 308h3v1h-3zM400 307h1v3h-1zM375 301h3v1h-3zM376 300h1v3h-1zM417 296h3v1h-3zM418 295h1v3h-1zM376 306h3v1h-3zM377 305h1v3h-1zM371 301h3v1h-3zM372 300h1v3h-1zM393 302h3v1h-3zM394 301h1v3h-1zM429 303h3v1h-3zM430 302h1v3h-1zM406 297h3v1h-3zM407 296h1v3h-1zM461 304h3v1h-3zM462 303h1v3h-1zM457 300h3v1h-3zM458 299h1v3h-1zM456 300h3v1h-3zM457 299h1v3h-1zM409 305h3v1h-3zM410 304h1v3h-1zM451 307h3v1h-3zM452 306h1v3h-1zM453 296h3v1h-3zM454 295h1v3h-1zM434 299h3v1h-3zM435 298h1v3h-1zM462 301h3v1h-3zM463 300h1v3h-1zM401 303h3v1h-3zM402 302h1v3h-1zM400 296h3v1h-3zM401 295h1v3h-1zM457 309h3v1h-3zM458 308h1v3h-1zM457 297h3v1h-3zM458 296h1v3h-1zM397 308h3v1h-3zM398 307h1v3h-1zM443 304h3v1h-3zM444 303h1v3h-1zM424 307h3v1h-3zM425 306h1v3h-1zM451 307h3v1h-3zM452 306h1v3h-1zM421 305h3v1h-3zM422 304h1v3h-1zM436 297h3v1h-3zM437 296h1v3h-1zM394 303h3v1h-3zM395 302h1v3h-1zM410 294h3v1h-3zM411 293h1v3h-1zM451 303h3v1h-3zM452 302h1v3h-1zM451 305h3v1h-3zM452 304h1v3h-1zM377 302h3v1h-3zM378 301h1v3h-1zM412 306h3v1h-3zM413 305h1v3h-1zM465 308h3v1h-3zM466 307h1v3h-1zM402 334h3v1h-3zM403 333h1v3h-1zM470 335h3v1h-3zM471 334h1v3h-1zM405 331h3v1h-3zM406 330h1v3h-1zM405 330h3v1h-3zM406 329h1v3h-1zM464 334h3v1h-3zM465 333h1v3h-1zM447 334h3v1h-3zM448 333h1v3h-1zM447 331h3v1h-3zM448 330h1v3h-1zM404 330h3v1h-3zM405 329h1v3h-1zM457 331h3v1h-3zM458 330h1v3h-1zM422 332h3v1h-3zM423 331h1v3h-1zM398 331h3v1h-3zM399 330h1v3h-1zM419 334h3v1h-3zM420 333h1v3h-1zM426 332h3v1h-3zM427 331h1v3h-1zM474 333h3v1h-3zM475 332h1v3h-1zM465 333h3v1h-3zM466 332h1v3h-1zM399 332h3v1h-3zM400 331h1v3h-1zM431 334h3v1h-3zM432 333h1v3h-1zM424 334h3v1h-3zM425 333h1v3h-1zM440 331h3v1h-3zM441 330h1v3h-1zM465 330h3v1h-3zM466 329h1v3h-1zM462 331h3v1h-3zM463 330h1v3h-1zM397 331h3v1h-3zM398 330h1v3h-1zM457 335h3v1h-3zM458 334h1v3h-1zM397 332h3v1h-3zM398 331h1v3h-1zM436 334h3v1h-3zM437 333h1v3h-1zM411 332h3v1h-3zM412 331h1v3h-1zM424 334h3v1h-3zM425 333h1v3h-1zM417 335h3v1h-3zM418 334h1v3h-1zM419 331h3v1h-3zM420 330h1v3h-1zM452 332h3v1h-3zM453 331h1v3h-1zM405 333h3v1h-3zM406 332h1v3h-1zM403 334h3v1h-3zM404 333h1v3h-1zM452 334h3v1h-3zM453 333h1v3h-1zM447 332h3v1h-3zM448 331h1v3h-1zM429 332h3v1h-3zM430 331h1v3h-1zM519 301h3v1h-3zM520 300h1v3h-1zM521 305h3v1h-3zM522 304h1v3h-1zM524 304h3v1h-3zM525 303h1v3h-1zM527 304h3v1h-3zM528 303h1v3h-1zM518 306h3v1h-3zM519 305h1v3h-1zM522 307h3v1h-3zM523 306h1v3h-1zM516 309h3v1h-3zM517 308h1v3h-1zM506 305h3v1h-3zM507 304h1v3h-1zM503 328h3v1h-3zM504 327h1v3h-1zM507 334h3v1h-3zM508 333h1v3h-1zM518 333h3v1h-3zM519 332h1v3h-1zM523 334h3v1h-3zM524 333h1v3h-1zM527 333h3v1h-3zM528 332h1v3h-1zM540 332h3v1h-3zM541 331h1v3h-1zM512 326h3v1h-3zM513 325h1v3h-1zM534 326h3v1h-3zM535 325h1v3h-1zM377 262h3v1h-3zM378 261h1v3h-1zM387 266h3v1h-3zM388 265h1v3h-1zM447 264h3v1h-3zM448 263h1v3h-1zM373 270h3v1h-3zM374 269h1v3h-1zM370 269h3v1h-3zM371 268h1v3h-1zM372 274h3v1h-3zM373 273h1v3h-1zM385 275h3v1h-3zM386 274h1v3h-1zM383 278h3v1h-3zM384 277h1v3h-1zM382 280h3v1h-3zM383 279h1v3h-1zM388 277h3v1h-3zM389 276h1v3h-1zM409 274h3v1h-3zM410 273h1v3h-1zM422 278h3v1h-3zM423 277h1v3h-1zM411 278h3v1h-3zM412 277h1v3h-1zM410 280h3v1h-3zM411 279h1v3h-1zM414 281h3v1h-3zM415 280h1v3h-1zM403 279h3v1h-3zM404 278h1v3h-1zM392 282h3v1h-3zM393 281h1v3h-1zM386 282h3v1h-3zM387 281h1v3h-1zM372 279h3v1h-3zM373 278h1v3h-1zM374 280h3v1h-3zM375 279h1v3h-1zM376 280h3v1h-3zM377 279h1v3h-1zM377 281h3v1h-3zM378 280h1v3h-1zM372 283h3v1h-3zM373 282h1v3h-1zM403 283h3v1h-3zM404 282h1v3h-1zM433 283h3v1h-3zM434 282h1v3h-1zM436 281h3v1h-3zM437 280h1v3h-1zM439 283h3v1h-3zM440 282h1v3h-1zM444 282h3v1h-3zM445 281h1v3h-1zM448 283h3v1h-3zM449 282h1v3h-1zM500 267h3v1h-3zM501 266h1v3h-1zM504 269h3v1h-3zM505 268h1v3h-1zM528 270h3v1h-3zM529 269h1v3h-1zM508 279h3v1h-3zM509 278h1v3h-1zM501 286h3v1h-3zM502 285h1v3h-1zM456 282h3v1h-3zM457 281h1v3h-1zM460 281h3v1h-3zM461 280h1v3h-1zM463 284h3v1h-3zM464 283h1v3h-1zM465 282h3v1h-3zM466 281h1v3h-1zM466 281h3v1h-3zM467 280h1v3h-1zM466 283h3v1h-3zM467 282h1v3h-1zM462 288h3v1h-3zM463 287h1v3h-1zM460 291h3v1h-3zM461 290h1v3h-1zM547 263h3v1h-3zM548 262h1v3h-1zM565 266h3v1h-3zM566 265h1v3h-1zM588 300h3v1h-3zM589 299h1v3h-1zM557 303h3v1h-3zM558 302h1v3h-1zM534 306h3v1h-3zM535 305h1v3h-1zM536 307h3v1h-3zM537 306h1v3h-1zM538 306h3v1h-3zM539 305h1v3h-1zM540 306h3v1h-3zM541 305h1v3h-1zM535 309h3v1h-3zM536 308h1v3h-1zM543 311h3v1h-3zM544 310h1v3h-1zM548 311h3v1h-3zM549 310h1v3h-1zM558 315h3v1h-3zM559 314h1v3h-1zM559 320h3v1h-3zM560 319h1v3h-1zM617 320h3v1h-3zM618 319h1v3h-1zM564 323h3v1h-3zM565 322h1v3h-1zM564 326h3v1h-3zM565 325h1v3h-1zM548 326h3v1h-3zM549 325h1v3h-1zM532 324h3v1h-3zM533 323h1v3h-1zM534 327h3v1h-3zM535 326h1v3h-1zM539 326h3v1h-3zM540 325h1v3h-1zM542 328h3v1h-3zM543 327h1v3h-1zM600 324h3v1h-3zM601 323h1v3h-1zM603 327h3v1h-3zM604 326h1v3h-1zM597 329h3v1h-3zM598 328h1v3h-1zM617 328h3v1h-3zM618 327h1v3h-1zM529 329h3v1h-3zM530 328h1v3h-1zM532 332h3v1h-3zM533 331h1v3h-1zM535 333h3v1h-3zM536 332h1v3h-1zM537 332h3v1h-3zM538 331h1v3h-1zM540 333h3v1h-3zM541 332h1v3h-1zM543 332h3v1h-3zM544 331h1v3h-1zM546 333h3v1h-3zM547 332h1v3h-1zM558 330h3v1h-3zM559 329h1v3h-1zM560 334h3v1h-3zM561 333h1v3h-1zM562 334h3v1h-3zM563 333h1v3h-1zM566 331h3v1h-3zM567 330h1v3h-1zM569 331h3v1h-3zM570 330h1v3h-1zM568 335h3v1h-3zM569 334h1v3h-1zM573 332h3v1h-3zM574 331h1v3h-1zM576 332h3v1h-3zM577 331h1v3h-1zM578 332h3v1h-3zM579 331h1v3h-1zM580 332h3v1h-3zM581 331h1v3h-1zM586 332h3v1h-3zM587 331h1v3h-1zM596 332h3v1h-3zM597 331h1v3h-1zM599 334h3v1h-3zM600 333h1v3h-1zM605 332h3v1h-3zM606 331h1v3h-1zM610 333h3v1h-3zM611 332h1v3h-1zM618 333h3v1h-3zM619 332h1v3h-1zM638 320h3v1h-3zM639 319h1v3h-1zM632 328h3v1h-3zM633 327h1v3h-1zM640 329h3v1h-3zM641 328h1v3h-1zM636 332h3v1h-3zM637 331h1v3h-1zM642 334h3v1h-3zM643 333h1v3h-1zM662 331h3v1h-3zM663 330h1v3h-1zM663 333h3v1h-3zM664 332h1v3h-1zM673 322h3v1h-3zM674 321h1v3h-1zM674 334h3v1h-3zM675 333h1v3h-1zM676 334h3v1h-3zM677 333h1v3h-1zM681 334h3v1h-3zM682 333h1v3h-1zM696 331h3v1h-3zM697 330h1v3h-1zM697 334h3v1h-3zM698 333h1v3h-1zM706 329h3v1h-3zM707 328h1v3h-1zM708 333h3v1h-3zM709 332h1v3h-1zM501 286h3v1h-3zM502 285h1v3h-1zM480 297h3v1h-3zM481 296h1v3h-1zM490 298h3v1h-3zM491 297h1v3h-1zM493 297h3v1h-3zM494 296h1v3h-1zM495 299h3v1h-3zM496 298h1v3h-1zM496 299h3v1h-3zM497 298h1v3h-1zM500 297h3v1h-3zM501 296h1v3h-1zM508 297h3v1h-3zM509 296h1v3h-1zM514 299h3v1h-3zM515 298h1v3h-1zM468 296h3v1h-3zM469 295h1v3h-1zM470 297h3v1h-3zM471 296h1v3h-1zM469 299h3v1h-3zM470 298h1v3h-1zM470 301h3v1h-3zM471 300h1v3h-1zM471 303h3v1h-3zM472 302h1v3h-1zM473 302h3v1h-3zM474 301h1v3h-1zM475 303h3v1h-3zM476 302h1v3h-1zM476 304h3v1h-3zM477 303h1v3h-1zM478 305h3v1h-3zM479 304h1v3h-1zM479 305h3v1h-3zM480 304h1v3h-1zM480 306h3v1h-3zM481 305h1v3h-1zM482 307h3v1h-3zM483 306h1v3h-1zM484 308h3v1h-3zM485 307h1v3h-1zM486 308h3v1h-3zM487 307h1v3h-1zM480 300h3v1h-3zM481 299h1v3h-1zM482 300h3v1h-3zM483 299h1v3h-1zM482 302h3v1h-3zM483 301h1v3h-1zM481 303h3v1h-3zM482 302h1v3h-1zM467 305h3v1h-3zM468 304h1v3h-1zM468 306h3v1h-3zM469 305h1v3h-1zM470 307h3v1h-3zM471 306h1v3h-1zM472 308h3v1h-3zM473 307h1v3h-1zM473 309h3v1h-3zM474 308h1v3h-1zM473 306h3v1h-3zM474 305h1v3h-1zM497 302h3v1h-3zM498 301h1v3h-1zM497 304h3v1h-3zM498 303h1v3h-1zM500 304h3v1h-3zM501 303h1v3h-1zM502 305h3v1h-3zM503 304h1v3h-1zM504 304h3v1h-3zM505 303h1v3h-1zM506 303h3v1h-3zM507 302h1v3h-1zM506 305h3v1h-3zM507 304h1v3h-1zM502 308h3v1h-3zM503 307h1v3h-1zM503 309h3v1h-3zM504 308h1v3h-1zM505 311h3v1h-3zM506 310h1v3h-1zM513 307h3v1h-3zM514 306h1v3h-1zM386 315h3v1h-3zM387 314h1v3h-1zM390 317h3v1h-3zM391 316h1v3h-1zM377 318h3v1h-3zM378 317h1v3h-1zM377 320h3v1h-3zM378 319h1v3h-1zM375 321h3v1h-3zM376 320h1v3h-1zM377 321h3v1h-3zM378 320h1v3h-1zM384 321h3v1h-3zM385 320h1v3h-1zM386 321h3v1h-3zM387 320h1v3h-1zM388 321h3v1h-3zM389 320h1v3h-1zM391 322h3v1h-3zM392 321h1v3h-1zM390 324h3v1h-3zM391 323h1v3h-1zM380 326h3v1h-3zM381 325h1v3h-1zM385 326h3v1h-3zM386 325h1v3h-1zM379 330h3v1h-3zM380 329h1v3h-1zM380 330h3v1h-3zM381 329h1v3h-1zM386 331h3v1h-3zM387 330h1v3h-1zM392 330h3v1h-3zM393 329h1v3h-1zM396 331h3v1h-3zM397 330h1v3h-1zM399 333h3v1h-3zM400 332h1v3h-1zM402 332h3v1h-3zM403 331h1v3h-1zM404 333h3v1h-3zM405 332h1v3h-1zM406 332h3v1h-3zM407 331h1v3h-1zM409 332h3v1h-3zM410 331h1v3h-1zM412 332h3v1h-3zM413 331h1v3h-1zM415 332h3v1h-3zM416 331h1v3h-1zM416 332h3v1h-3zM417 331h1v3h-1zM403 317h3v1h-3zM404 316h1v3h-1zM403 318h3v1h-3zM404 317h1v3h-1zM407 323h3v1h-3zM408 322h1v3h-1zM411 315h3v1h-3zM412 314h1v3h-1zM413 317h3v1h-3zM414 316h1v3h-1zM416 321h3v1h-3zM417 320h1v3h-1zM419 308h3v1h-3zM420 307h1v3h-1zM421 309h3v1h-3zM422 308h1v3h-1zM426 308h3v1h-3zM427 307h1v3h-1zM432 308h3v1h-3zM433 307h1v3h-1zM435 308h3v1h-3zM436 307h1v3h-1zM441 308h3v1h-3zM442 307h1v3h-1zM445 309h3v1h-3zM446 308h1v3h-1zM450 308h3v1h-3zM451 307h1v3h-1zM460 308h3v1h-3zM461 307h1v3h-1zM463 309h3v1h-3zM464 308h1v3h-1zM423 315h3v1h-3zM424 314h1v3h-1zM424 315h3v1h-3zM425 314h1v3h-1zM421 319h3v1h-3zM422 318h1v3h-1zM426 318h3v1h-3zM427 317h1v3h-1zM435 314h3v1h-3zM436 313h1v3h-1zM435 316h3v1h-3zM436 315h1v3h-1zM439 316h3v1h-3zM440 315h1v3h-1zM440 314h3v1h-3zM441 313h1v3h-1zM450 316h3v1h-3zM451 315h1v3h-1zM452 315h3v1h-3zM453 314h1v3h-1zM455 319h3v1h-3zM456 318h1v3h-1zM462 317h3v1h-3zM463 316h1v3h-1zM432 322h3v1h-3zM433 321h1v3h-1zM433 323h3v1h-3zM434 322h1v3h-1zM432 325h3v1h-3zM433 324h1v3h-1zM438 323h3v1h-3zM439 322h1v3h-1zM439 322h3v1h-3zM440 321h1v3h-1zM441 324h3v1h-3zM442 323h1v3h-1zM446 323h3v1h-3zM447 322h1v3h-1zM448 324h3v1h-3zM449 323h1v3h-1zM454 320h3v1h-3zM455 319h1v3h-1zM456 321h3v1h-3zM457 320h1v3h-1zM457 324h3v1h-3zM458 323h1v3h-1zM463 325h3v1h-3zM464 324h1v3h-1zM465 324h3v1h-3zM466 323h1v3h-1zM466 325h3v1h-3zM467 324h1v3h-1zM420 325h3v1h-3zM421 324h1v3h-1zM423 326h3v1h-3zM424 325h1v3h-1zM417 330h3v1h-3zM418 329h1v3h-1zM418 331h3v1h-3zM419 330h1v3h-1zM420 332h3v1h-3zM421 331h1v3h-1zM421 331h3v1h-3zM422 330h1v3h-1zM423 332h3v1h-3zM424 331h1v3h-1zM424 333h3v1h-3zM425 332h1v3h-1zM426 332h3v1h-3zM427 331h1v3h-1zM427 332h3v1h-3zM428 331h1v3h-1zM429 332h3v1h-3zM430 331h1v3h-1zM430 333h3v1h-3zM431 332h1v3h-1zM432 332h3v1h-3zM433 331h1v3h-1zM433 332h3v1h-3zM434 331h1v3h-1zM435 330h3v1h-3zM436 329h1v3h-1zM436 332h3v1h-3zM437 331h1v3h-1zM438 333h3v1h-3zM439 332h1v3h-1zM439 332h3v1h-3zM440 331h1v3h-1zM441 331h3v1h-3zM442 330h1v3h-1zM442 332h3v1h-3zM443 331h1v3h-1zM448 331h3v1h-3zM449 330h1v3h-1zM450 329h3v1h-3zM451 328h1v3h-1zM451 332h3v1h-3zM452 331h1v3h-1zM453 333h3v1h-3zM454 332h1v3h-1zM454 331h3v1h-3zM455 330h1v3h-1zM460 334h3v1h-3zM461 333h1v3h-1zM463 332h3v1h-3zM464 331h1v3h-1zM465 332h3v1h-3zM466 331h1v3h-1zM466 332h3v1h-3zM467 331h1v3h-1z" fill="#3a87da"/><path d="M315 76h3v1h-3zM316 75h1v3h-1zM328 74h3v1h-3zM329 73h1v3h-1zM340 78h3v1h-3zM341 77h1v3h-1zM281 97h3v1h-3zM282 96h1v3h-1zM288 90h3v1h-3zM289 89h1v3h-1zM292 91h3v1h-3zM293 90h1v3h-1zM298 95h3v1h-3zM299 94h1v3h-1zM304 101h3v1h-3zM305 100h1v3h-1zM310 116h3v1h-3zM311 115h1v3h-1zM319 116h3v1h-3zM320 115h1v3h-1zM322 121h3v1h-3zM323 120h1v3h-1zM316 128h3v1h-3zM317 127h1v3h-1zM303 131h3v1h-3zM304 130h1v3h-1zM359 136h3v1h-3zM360 135h1v3h-1zM298 149h3v1h-3zM299 148h1v3h-1zM296 158h3v1h-3zM297 157h1v3h-1zM298 157h3v1h-3zM299 156h1v3h-1zM295 159h3v1h-3zM296 158h1v3h-1zM305 160h3v1h-3zM306 159h1v3h-1zM312 160h3v1h-3zM313 159h1v3h-1zM316 159h3v1h-3zM317 158h1v3h-1zM319 158h3v1h-3zM320 157h1v3h-1zM318 165h3v1h-3zM319 164h1v3h-1zM294 166h3v1h-3zM295 165h1v3h-1zM327 167h3v1h-3zM328 166h1v3h-1zM312 169h3v1h-3zM313 168h1v3h-1zM309 174h3v1h-3zM310 173h1v3h-1zM282 176h3v1h-3zM283 175h1v3h-1zM328 177h3v1h-3zM329 176h1v3h-1zM313 178h3v1h-3zM314 177h1v3h-1zM291 180h3v1h-3zM292 179h1v3h-1zM329 180h3v1h-3zM330 179h1v3h-1zM348 179h3v1h-3zM349 178h1v3h-1zM350 178h3v1h-3zM351 177h1v3h-1zM291 185h3v1h-3zM292 184h1v3h-1zM295 185h3v1h-3zM296 184h1v3h-1zM297 184h3v1h-3zM298 183h1v3h-1zM307 184h3v1h-3zM308 183h1v3h-1zM310 185h3v1h-3zM311 184h1v3h-1zM315 185h3v1h-3zM316 184h1v3h-1zM317 186h3v1h-3zM318 185h1v3h-1zM320 188h3v1h-3zM321 187h1v3h-1zM322 188h3v1h-3zM323 187h1v3h-1zM324 190h3v1h-3zM325 189h1v3h-1zM308 188h3v1h-3zM309 187h1v3h-1zM312 189h3v1h-3zM313 188h1v3h-1zM291 189h3v1h-3zM292 188h1v3h-1zM265 191h3v1h-3zM266 190h1v3h-1zM332 188h3v1h-3zM333 187h1v3h-1zM342 186h3v1h-3zM343 185h1v3h-1zM299 192h3v1h-3zM300 191h1v3h-1zM277 196h3v1h-3zM278 195h1v3h-1zM296 198h3v1h-3zM297 197h1v3h-1zM302 197h3v1h-3zM303 196h1v3h-1zM308 195h3v1h-3zM309 194h1v3h-1zM314 197h3v1h-3zM315 196h1v3h-1zM320 195h3v1h-3zM321 194h1v3h-1zM322 198h3v1h-3zM323 197h1v3h-1zM333 197h3v1h-3zM334 196h1v3h-1zM347 194h3v1h-3zM348 193h1v3h-1zM350 194h3v1h-3zM351 193h1v3h-1zM360 194h3v1h-3zM361 193h1v3h-1zM270 199h3v1h-3zM271 198h1v3h-1zM338 266h3v1h-3zM339 265h1v3h-1zM339 267h3v1h-3zM340 266h1v3h-1zM356 269h3v1h-3zM357 268h1v3h-1zM335 277h3v1h-3zM336 276h1v3h-1zM340 280h3v1h-3zM341 279h1v3h-1zM345 283h3v1h-3zM346 282h1v3h-1zM349 283h3v1h-3zM350 282h1v3h-1zM356 283h3v1h-3zM357 282h1v3h-1zM358 283h3v1h-3zM359 282h1v3h-1zM346 291h3v1h-3zM347 290h1v3h-1zM352 290h3v1h-3zM353 289h1v3h-1zM363 293h3v1h-3zM364 292h1v3h-1zM335 297h3v1h-3zM336 296h1v3h-1zM339 296h3v1h-3zM340 295h1v3h-1zM357 297h3v1h-3zM358 296h1v3h-1zM369 286h3v1h-3zM370 285h1v3h-1zM369 290h3v1h-3zM370 289h1v3h-1zM230 229h3v1h-3zM231 228h1v3h-1zM248 252h3v1h-3zM249 251h1v3h-1zM270 201h3v1h-3zM271 200h1v3h-1zM270 203h3v1h-3zM271 202h1v3h-1zM280 200h3v1h-3zM281 199h1v3h-1zM288 201h3v1h-3zM289 200h1v3h-1zM295 202h3v1h-3zM296 201h1v3h-1zM302 203h3v1h-3zM303 202h1v3h-1zM303 202h3v1h-3zM304 201h1v3h-1zM312 201h3v1h-3zM313 200h1v3h-1zM320 200h3v1h-3zM321 199h1v3h-1zM323 200h3v1h-3zM324 199h1v3h-1zM323 205h3v1h-3zM324 204h1v3h-1zM330 203h3v1h-3zM331 202h1v3h-1zM305 209h3v1h-3zM306 208h1v3h-1zM311 209h3v1h-3zM312 208h1v3h-1zM333 208h3v1h-3zM334 207h1v3h-1zM329 212h3v1h-3zM330 211h1v3h-1zM330 214h3v1h-3zM331 213h1v3h-1zM328 217h3v1h-3zM329 216h1v3h-1zM330 220h3v1h-3zM331 219h1v3h-1zM342 217h3v1h-3zM343 216h1v3h-1zM348 217h3v1h-3zM349 216h1v3h-1zM360 220h3v1h-3zM361 219h1v3h-1zM305 221h3v1h-3zM306 220h1v3h-1zM316 219h3v1h-3zM317 218h1v3h-1zM327 225h3v1h-3zM328 224h1v3h-1zM281 231h3v1h-3zM282 230h1v3h-1zM265 241h3v1h-3zM266 240h1v3h-1zM295 242h3v1h-3zM296 241h1v3h-1zM313 242h3v1h-3zM314 241h1v3h-1zM320 245h3v1h-3zM321 244h1v3h-1zM329 246h3v1h-3zM330 245h1v3h-1zM340 241h3v1h-3zM341 240h1v3h-1zM299 248h3v1h-3zM300 247h1v3h-1zM306 250h3v1h-3zM307 249h1v3h-1zM312 247h3v1h-3zM313 246h1v3h-1zM349 248h3v1h-3zM350 247h1v3h-1zM273 251h3v1h-3zM274 250h1v3h-1zM283 252h3v1h-3zM284 251h1v3h-1zM321 250h3v1h-3zM322 249h1v3h-1zM327 239h3v1h-3zM328 238h1v3h-1zM301 251h3v1h-3zM302 250h1v3h-1zM278 254h3v1h-3zM279 253h1v3h-1zM281 256h3v1h-3zM282 255h1v3h-1zM334 254h3v1h-3zM335 253h1v3h-1zM318 256h3v1h-3zM319 255h1v3h-1zM281 257h3v1h-3zM282 256h1v3h-1zM280 259h3v1h-3zM281 258h1v3h-1zM318 257h3v1h-3zM319 256h1v3h-1zM307 262h3v1h-3zM308 261h1v3h-1zM317 268h3v1h-3zM318 267h1v3h-1zM318 270h3v1h-3zM319 269h1v3h-1zM297 267h3v1h-3zM298 266h1v3h-1zM294 272h3v1h-3zM295 271h1v3h-1zM293 274h3v1h-3zM294 273h1v3h-1zM260 272h3v1h-3zM261 271h1v3h-1zM260 275h3v1h-3zM261 274h1v3h-1zM274 270h3v1h-3zM275 269h1v3h-1zM272 279h3v1h-3zM273 278h1v3h-1zM281 279h3v1h-3zM282 278h1v3h-1zM265 281h3v1h-3zM266 280h1v3h-1zM265 285h3v1h-3zM266 284h1v3h-1zM261 288h3v1h-3zM262 287h1v3h-1zM263 288h3v1h-3zM264 287h1v3h-1zM274 284h3v1h-3zM275 283h1v3h-1zM281 271h3v1h-3zM282 270h1v3h-1zM283 271h3v1h-3zM284 270h1v3h-1zM297 272h3v1h-3zM298 271h1v3h-1zM308 274h3v1h-3zM309 273h1v3h-1zM310 276h3v1h-3zM311 275h1v3h-1zM317 277h3v1h-3zM318 276h1v3h-1zM312 284h3v1h-3zM313 283h1v3h-1zM314 283h3v1h-3zM315 282h1v3h-1zM317 284h3v1h-3zM318 283h1v3h-1zM297 281h3v1h-3zM298 280h1v3h-1zM296 286h3v1h-3zM297 285h1v3h-1zM298 288h3v1h-3zM299 287h1v3h-1zM288 286h3v1h-3zM289 285h1v3h-1zM325 281h3v1h-3zM326 280h1v3h-1zM277 294h3v1h-3zM278 293h1v3h-1zM281 292h3v1h-3zM282 291h1v3h-1zM269 292h3v1h-3zM270 291h1v3h-1zM264 297h3v1h-3zM265 296h1v3h-1zM265 303h3v1h-3zM266 302h1v3h-1zM273 304h3v1h-3zM274 303h1v3h-1zM275 301h3v1h-3zM276 300h1v3h-1zM281 300h3v1h-3zM282 299h1v3h-1zM283 299h3v1h-3zM284 298h1v3h-1zM288 297h3v1h-3zM289 296h1v3h-1zM285 301h3v1h-3zM286 300h1v3h-1zM294 298h3v1h-3zM295 297h1v3h-1zM298 292h3v1h-3zM299 291h1v3h-1zM303 294h3v1h-3zM304 293h1v3h-1zM306 302h3v1h-3zM307 301h1v3h-1zM308 303h3v1h-3zM309 302h1v3h-1zM312 297h3v1h-3zM313 296h1v3h-1zM318 300h3v1h-3zM319 299h1v3h-1zM320 294h3v1h-3zM321 293h1v3h-1zM345 303h3v1h-3zM346 302h1v3h-1zM265 310h3v1h-3zM266 309h1v3h-1zM268 311h3v1h-3zM269 310h1v3h-1zM274 313h3v1h-3zM275 312h1v3h-1zM275 312h3v1h-3zM276 311h1v3h-1zM277 308h3v1h-3zM278 307h1v3h-1zM285 308h3v1h-3zM286 307h1v3h-1zM287 310h3v1h-3zM288 309h1v3h-1zM290 314h3v1h-3zM291 313h1v3h-1zM295 312h3v1h-3zM296 311h1v3h-1zM302 304h3v1h-3zM303 303h1v3h-1zM306 311h3v1h-3zM307 310h1v3h-1zM307 311h3v1h-3zM308 310h1v3h-1zM312 306h3v1h-3zM313 305h1v3h-1zM320 309h3v1h-3zM321 308h1v3h-1zM326 311h3v1h-3zM327 310h1v3h-1zM332 307h3v1h-3zM333 306h1v3h-1zM333 308h3v1h-3zM334 307h1v3h-1zM341 310h3v1h-3zM342 309h1v3h-1zM348 306h3v1h-3zM349 305h1v3h-1zM353 308h3v1h-3zM354 307h1v3h-1zM362 310h3v1h-3zM363 309h1v3h-1zM209 272h3v1h-3zM210 271h1v3h-1zM217 271h3v1h-3zM218 270h1v3h-1zM220 274h3v1h-3zM221 273h1v3h-1zM227 275h3v1h-3zM228 274h1v3h-1zM235 278h3v1h-3zM236 277h1v3h-1zM247 274h3v1h-3zM248 273h1v3h-1zM175 279h3v1h-3zM176 278h1v3h-1zM180 281h3v1h-3zM181 280h1v3h-1zM194 280h3v1h-3zM195 279h1v3h-1zM199 279h3v1h-3zM200 278h1v3h-1zM227 281h3v1h-3zM228 280h1v3h-1zM230 280h3v1h-3zM231 279h1v3h-1zM236 282h3v1h-3zM237 281h1v3h-1zM246 283h3v1h-3zM247 282h1v3h-1zM248 285h3v1h-3zM249 284h1v3h-1zM220 284h3v1h-3zM221 283h1v3h-1zM157 289h3v1h-3zM158 288h1v3h-1zM164 291h3v1h-3zM165 290h1v3h-1zM177 289h3v1h-3zM178 288h1v3h-1zM182 288h3v1h-3zM183 287h1v3h-1zM205 290h3v1h-3zM206 289h1v3h-1zM217 290h3v1h-3zM218 289h1v3h-1zM220 290h3v1h-3zM221 289h1v3h-1zM230 290h3v1h-3zM231 289h1v3h-1zM231 292h3v1h-3zM232 291h1v3h-1zM234 292h3v1h-3zM235 291h1v3h-1zM247 294h3v1h-3zM248 293h1v3h-1zM252 293h3v1h-3zM253 292h1v3h-1zM254 291h3v1h-3zM255 290h1v3h-1zM179 297h3v1h-3zM180 296h1v3h-1zM194 295h3v1h-3zM195 294h1v3h-1zM198 294h3v1h-3zM199 293h1v3h-1zM217 296h3v1h-3zM218 295h1v3h-1zM252 297h3v1h-3zM253 296h1v3h-1zM196 299h3v1h-3zM197 298h1v3h-1zM226 300h3v1h-3zM227 299h1v3h-1zM191 303h3v1h-3zM192 302h1v3h-1zM167 306h3v1h-3zM168 305h1v3h-1zM168 309h3v1h-3zM169 308h1v3h-1zM176 309h3v1h-3zM177 308h1v3h-1zM186 309h3v1h-3zM187 308h1v3h-1zM193 309h3v1h-3zM194 308h1v3h-1zM195 308h3v1h-3zM196 307h1v3h-1zM200 305h3v1h-3zM201 304h1v3h-1zM213 301h3v1h-3zM214 300h1v3h-1zM213 304h3v1h-3zM214 303h1v3h-1zM218 305h3v1h-3zM219 304h1v3h-1zM226 304h3v1h-3zM227 303h1v3h-1zM235 302h3v1h-3zM236 301h1v3h-1zM244 304h3v1h-3zM245 303h1v3h-1zM242 308h3v1h-3zM243 307h1v3h-1zM247 309h3v1h-3zM248 308h1v3h-1zM256 307h3v1h-3zM257 306h1v3h-1zM212 309h3v1h-3zM213 308h1v3h-1zM223 310h3v1h-3zM224 309h1v3h-1zM229 311h3v1h-3zM230 310h1v3h-1zM236 312h3v1h-3zM237 311h1v3h-1zM240 312h3v1h-3zM241 311h1v3h-1zM252 311h3v1h-3zM253 310h1v3h-1zM185 314h3v1h-3zM186 313h1v3h-1zM191 314h3v1h-3zM192 313h1v3h-1zM202 314h3v1h-3zM203 313h1v3h-1zM204 313h3v1h-3zM205 312h1v3h-1zM213 313h3v1h-3zM214 312h1v3h-1zM218 313h3v1h-3zM219 312h1v3h-1zM222 314h3v1h-3zM223 313h1v3h-1zM227 313h3v1h-3zM228 312h1v3h-1zM246 314h3v1h-3zM247 313h1v3h-1zM149 315h3v1h-3zM150 314h1v3h-1zM100 282h3v1h-3zM101 281h1v3h-1zM113 299h3v1h-3zM114 298h1v3h-1zM130 302h3v1h-3zM131 301h1v3h-1zM102 308h3v1h-3zM103 307h1v3h-1zM90 311h3v1h-3zM91 310h1v3h-1zM121 312h3v1h-3zM122 311h1v3h-1zM69 320h3v1h-3zM70 319h1v3h-1zM42 326h3v1h-3zM43 325h1v3h-1zM48 324h3v1h-3zM49 323h1v3h-1zM14 335h3v1h-3zM15 334h1v3h-1zM16 335h3v1h-3zM17 334h1v3h-1zM18 335h3v1h-3zM19 334h1v3h-1zM56 335h3v1h-3zM57 334h1v3h-1zM61 334h3v1h-3zM62 333h1v3h-1zM66 335h3v1h-3zM67 334h1v3h-1zM70 335h3v1h-3zM71 334h1v3h-1zM70 334h3v1h-3zM71 333h1v3h-1zM79 334h3v1h-3zM80 333h1v3h-1zM82 335h3v1h-3zM83 334h1v3h-1zM97 324h3v1h-3zM98 323h1v3h-1zM105 322h3v1h-3zM106 321h1v3h-1zM105 325h3v1h-3zM106 324h1v3h-1zM107 326h3v1h-3zM108 325h1v3h-1zM95 332h3v1h-3zM96 331h1v3h-1zM96 335h3v1h-3zM97 334h1v3h-1zM101 335h3v1h-3zM102 334h1v3h-1zM107 335h3v1h-3zM108 334h1v3h-1zM135 318h3v1h-3zM136 317h1v3h-1zM140 317h3v1h-3zM141 316h1v3h-1zM141 317h3v1h-3zM142 316h1v3h-1zM143 322h3v1h-3zM144 321h1v3h-1zM155 321h3v1h-3zM156 320h1v3h-1zM157 322h3v1h-3zM158 321h1v3h-1zM169 320h3v1h-3zM170 319h1v3h-1zM170 324h3v1h-3zM171 323h1v3h-1zM183 325h3v1h-3zM184 324h1v3h-1zM187 325h3v1h-3zM188 324h1v3h-1zM194 327h3v1h-3zM195 326h1v3h-1zM199 324h3v1h-3zM200 323h1v3h-1zM213 316h3v1h-3zM214 315h1v3h-1zM212 318h3v1h-3zM213 317h1v3h-1zM214 321h3v1h-3zM215 320h1v3h-1zM213 324h3v1h-3zM214 323h1v3h-1zM127 325h3v1h-3zM128 324h1v3h-1zM111 331h3v1h-3zM112 330h1v3h-1zM116 335h3v1h-3zM117 334h1v3h-1zM120 335h3v1h-3zM121 334h1v3h-1zM124 335h3v1h-3zM125 334h1v3h-1zM137 334h3v1h-3zM138 333h1v3h-1zM147 335h3v1h-3zM148 334h1v3h-1zM166 335h3v1h-3zM167 334h1v3h-1zM170 333h3v1h-3zM171 332h1v3h-1zM173 335h3v1h-3zM174 334h1v3h-1zM177 335h3v1h-3zM178 334h1v3h-1zM188 333h3v1h-3zM189 332h1v3h-1zM196 335h3v1h-3zM197 334h1v3h-1zM199 334h3v1h-3zM200 333h1v3h-1zM204 331h3v1h-3zM205 330h1v3h-1zM209 335h3v1h-3zM210 334h1v3h-1zM211 335h3v1h-3zM212 334h1v3h-1zM227 316h3v1h-3zM228 315h1v3h-1zM227 318h3v1h-3zM228 317h1v3h-1zM228 321h3v1h-3zM229 320h1v3h-1zM236 318h3v1h-3zM237 317h1v3h-1zM246 318h3v1h-3zM247 317h1v3h-1zM261 316h3v1h-3zM262 315h1v3h-1zM272 320h3v1h-3zM273 319h1v3h-1zM279 318h3v1h-3zM280 317h1v3h-1zM283 322h3v1h-3zM284 321h1v3h-1zM283 323h3v1h-3zM284 322h1v3h-1zM287 317h3v1h-3zM288 316h1v3h-1zM256 323h3v1h-3zM257 322h1v3h-1zM264 322h3v1h-3zM265 321h1v3h-1zM250 325h3v1h-3zM251 324h1v3h-1zM228 327h3v1h-3zM229 326h1v3h-1zM225 329h3v1h-3zM226 328h1v3h-1zM241 329h3v1h-3zM242 328h1v3h-1zM245 327h3v1h-3zM246 326h1v3h-1zM258 328h3v1h-3zM259 327h1v3h-1zM271 330h3v1h-3zM272 329h1v3h-1zM272 330h3v1h-3zM273 329h1v3h-1zM276 328h3v1h-3zM277 327h1v3h-1zM278 326h3v1h-3zM279 325h1v3h-1zM230 335h3v1h-3zM231 334h1v3h-1zM260 335h3v1h-3zM261 334h1v3h-1zM261 334h3v1h-3zM262 333h1v3h-1zM291 334h3v1h-3zM292 333h1v3h-1zM265 333h3v1h-3zM266 332h1v3h-1zM311 316h3v1h-3zM312 315h1v3h-1zM313 316h3v1h-3zM314 315h1v3h-1zM332 317h3v1h-3zM333 316h1v3h-1zM333 316h3v1h-3zM334 315h1v3h-1zM358 315h3v1h-3zM359 314h1v3h-1zM302 321h3v1h-3zM303 320h1v3h-1zM303 323h3v1h-3zM304 322h1v3h-1zM302 325h3v1h-3zM303 324h1v3h-1zM307 324h3v1h-3zM308 323h1v3h-1zM328 322h3v1h-3zM329 321h1v3h-1zM328 324h3v1h-3zM329 323h1v3h-1zM341 326h3v1h-3zM342 325h1v3h-1zM347 323h3v1h-3zM348 322h1v3h-1zM354 324h3v1h-3zM355 323h1v3h-1zM301 330h3v1h-3zM302 329h1v3h-1zM302 333h3v1h-3zM303 332h1v3h-1zM369 315h3v1h-3zM370 314h1v3h-1zM369 324h3v1h-3zM370 323h1v3h-1zM369 327h3v1h-3zM370 326h1v3h-1zM372 229h3v1h-3zM373 228h1v3h-1zM379 225h3v1h-3zM380 224h1v3h-1zM393 229h3v1h-3zM394 228h1v3h-1zM399 230h3v1h-3zM400 229h1v3h-1zM391 237h3v1h-3zM392 236h1v3h-1zM374 243h3v1h-3zM375 242h1v3h-1zM376 254h3v1h-3zM377 253h1v3h-1zM394 258h3v1h-3zM395 257h1v3h-1zM473 315h3v1h-3zM474 314h1v3h-1zM479 316h3v1h-3zM480 315h1v3h-1zM486 316h3v1h-3zM487 315h1v3h-1zM490 315h3v1h-3zM491 314h1v3h-1zM467 320h3v1h-3zM468 319h1v3h-1zM469 322h3v1h-3zM470 321h1v3h-1zM472 321h3v1h-3zM473 320h1v3h-1zM475 318h3v1h-3zM476 317h1v3h-1zM478 321h3v1h-3zM479 320h1v3h-1zM480 323h3v1h-3zM481 322h1v3h-1zM481 324h3v1h-3zM482 323h1v3h-1zM482 326h3v1h-3zM483 325h1v3h-1zM484 323h3v1h-3zM485 322h1v3h-1zM486 321h3v1h-3zM487 320h1v3h-1zM488 323h3v1h-3zM489 322h1v3h-1zM490 321h3v1h-3zM491 320h1v3h-1zM492 320h3v1h-3zM493 319h1v3h-1zM494 322h3v1h-3zM495 321h1v3h-1zM495 321h3v1h-3zM496 320h1v3h-1zM498 321h3v1h-3zM499 320h1v3h-1zM500 323h3v1h-3zM501 322h1v3h-1zM501 325h3v1h-3zM502 324h1v3h-1zM502 320h3v1h-3zM503 319h1v3h-1zM505 320h3v1h-3zM506 319h1v3h-1zM508 323h3v1h-3zM509 322h1v3h-1zM511 323h3v1h-3zM512 322h1v3h-1zM514 323h3v1h-3zM515 322h1v3h-1zM516 323h3v1h-3zM517 322h1v3h-1zM519 323h3v1h-3zM520 322h1v3h-1zM522 324h3v1h-3zM523 323h1v3h-1zM524 323h3v1h-3zM525 322h1v3h-1zM527 323h3v1h-3zM528 322h1v3h-1zM523 328h3v1h-3zM524 327h1v3h-1zM524 315h3v1h-3zM525 314h1v3h-1zM469 325h3v1h-3zM470 324h1v3h-1zM476 328h3v1h-3zM477 327h1v3h-1zM484 330h3v1h-3zM485 329h1v3h-1zM487 334h3v1h-3zM488 333h1v3h-1zM495 328h3v1h-3zM496 327h1v3h-1zM498 327h3v1h-3zM499 326h1v3h-1zM500 334h3v1h-3zM501 333h1v3h-1zM526 334h3v1h-3zM527 333h1v3h-1zM528 335h3v1h-3zM529 334h1v3h-1zM378 291h3v1h-3zM379 290h1v3h-1zM381 293h3v1h-3zM382 292h1v3h-1zM380 296h3v1h-3zM381 295h1v3h-1zM399 289h3v1h-3zM400 288h1v3h-1zM400 288h3v1h-3zM401 287h1v3h-1zM406 290h3v1h-3zM407 289h1v3h-1zM407 292h3v1h-3zM408 291h1v3h-1zM409 294h3v1h-3zM410 293h1v3h-1zM412 288h3v1h-3zM413 287h1v3h-1zM412 289h3v1h-3zM413 288h1v3h-1zM415 286h3v1h-3zM416 285h1v3h-1zM397 296h3v1h-3zM398 295h1v3h-1zM398 293h3v1h-3zM399 292h1v3h-1zM397 305h3v1h-3zM398 304h1v3h-1zM389 305h3v1h-3zM390 304h1v3h-1zM409 303h3v1h-3zM410 302h1v3h-1zM415 303h3v1h-3zM416 302h1v3h-1zM377 305h3v1h-3zM378 304h1v3h-1zM380 304h3v1h-3zM381 303h1v3h-1zM384 305h3v1h-3zM385 304h1v3h-1zM420 288h3v1h-3zM421 287h1v3h-1zM421 290h3v1h-3zM422 289h1v3h-1zM423 289h3v1h-3zM424 288h1v3h-1zM427 289h3v1h-3zM428 288h1v3h-1zM430 288h3v1h-3zM431 287h1v3h-1zM432 290h3v1h-3zM433 289h1v3h-1zM438 289h3v1h-3zM439 288h1v3h-1zM441 288h3v1h-3zM442 287h1v3h-1zM417 291h3v1h-3zM418 290h1v3h-1zM419 292h3v1h-3zM420 291h1v3h-1zM450 295h3v1h-3zM451 294h1v3h-1zM462 294h3v1h-3zM463 293h1v3h-1zM456 297h3v1h-3zM457 296h1v3h-1zM424 303h3v1h-3zM425 302h1v3h-1zM432 302h3v1h-3zM433 301h1v3h-1zM436 300h3v1h-3zM437 299h1v3h-1zM442 303h3v1h-3zM443 302h1v3h-1zM445 303h3v1h-3zM446 302h1v3h-1zM449 303h3v1h-3zM450 302h1v3h-1zM444 305h3v1h-3zM445 304h1v3h-1zM426 296h3v1h-3zM427 295h1v3h-1zM430 296h3v1h-3zM431 295h1v3h-1zM418 298h3v1h-3zM419 297h1v3h-1zM428 306h3v1h-3zM429 305h1v3h-1zM461 311h3v1h-3zM462 310h1v3h-1zM461 310h3v1h-3zM462 309h1v3h-1zM413 315h3v1h-3zM414 314h1v3h-1zM462 320h3v1h-3zM463 319h1v3h-1zM425 327h3v1h-3zM426 326h1v3h-1zM415 319h3v1h-3zM416 318h1v3h-1zM436 325h3v1h-3zM437 324h1v3h-1zM451 322h3v1h-3zM452 321h1v3h-1zM423 316h3v1h-3zM424 315h1v3h-1zM409 326h3v1h-3zM410 325h1v3h-1zM445 324h3v1h-3zM446 323h1v3h-1zM410 318h3v1h-3zM411 317h1v3h-1zM453 321h3v1h-3zM454 320h1v3h-1zM407 319h3v1h-3zM408 318h1v3h-1zM460 314h3v1h-3zM461 313h1v3h-1zM412 316h3v1h-3zM413 315h1v3h-1zM448 326h3v1h-3zM449 325h1v3h-1zM409 313h3v1h-3zM410 312h1v3h-1zM416 316h3v1h-3zM417 315h1v3h-1zM435 313h3v1h-3zM436 312h1v3h-1zM421 313h3v1h-3zM422 312h1v3h-1zM467 324h3v1h-3zM468 323h1v3h-1zM406 329h3v1h-3zM407 328h1v3h-1zM406 317h3v1h-3zM407 316h1v3h-1zM467 325h3v1h-3zM468 324h1v3h-1zM515 304h3v1h-3zM516 303h1v3h-1zM517 308h3v1h-3zM518 307h1v3h-1zM519 309h3v1h-3zM520 308h1v3h-1zM498 311h3v1h-3zM499 310h1v3h-1zM500 311h3v1h-3zM501 310h1v3h-1zM496 320h3v1h-3zM497 319h1v3h-1zM500 324h3v1h-3zM501 323h1v3h-1zM503 325h3v1h-3zM504 324h1v3h-1zM505 322h3v1h-3zM506 321h1v3h-1zM509 323h3v1h-3zM510 322h1v3h-1zM516 323h3v1h-3zM517 322h1v3h-1zM518 324h3v1h-3zM519 323h1v3h-1zM521 324h3v1h-3zM522 323h1v3h-1zM525 323h3v1h-3zM526 322h1v3h-1zM527 322h3v1h-3zM528 321h1v3h-1zM535 324h3v1h-3zM536 323h1v3h-1zM537 323h3v1h-3zM538 322h1v3h-1zM540 325h3v1h-3zM541 324h1v3h-1zM536 326h3v1h-3zM537 325h1v3h-1zM498 327h3v1h-3zM499 326h1v3h-1zM394 259h3v1h-3zM395 258h1v3h-1zM395 261h3v1h-3zM396 260h1v3h-1zM392 264h3v1h-3zM393 263h1v3h-1zM408 261h3v1h-3zM409 260h1v3h-1zM438 262h3v1h-3zM439 261h1v3h-1zM382 271h3v1h-3zM383 270h1v3h-1zM406 270h3v1h-3zM407 269h1v3h-1zM418 272h3v1h-3zM419 271h1v3h-1zM389 278h3v1h-3zM390 277h1v3h-1zM404 278h3v1h-3zM405 277h1v3h-1zM417 279h3v1h-3zM418 278h1v3h-1zM422 279h3v1h-3zM423 278h1v3h-1zM462 283h3v1h-3zM463 282h1v3h-1zM462 294h3v1h-3zM463 293h1v3h-1zM450 295h3v1h-3zM451 294h1v3h-1zM490 294h3v1h-3zM491 293h1v3h-1zM535 290h3v1h-3zM536 289h1v3h-1zM573 300h3v1h-3zM574 299h1v3h-1zM582 301h3v1h-3zM583 300h1v3h-1zM583 302h3v1h-3zM584 301h1v3h-1zM597 300h3v1h-3zM598 299h1v3h-1zM599 300h3v1h-3zM600 299h1v3h-1zM597 306h3v1h-3zM598 305h1v3h-1zM602 305h3v1h-3zM603 304h1v3h-1zM615 309h3v1h-3zM616 308h1v3h-1zM552 305h3v1h-3zM553 304h1v3h-1zM560 303h3v1h-3zM561 302h1v3h-1zM558 307h3v1h-3zM559 306h1v3h-1zM557 311h3v1h-3zM558 310h1v3h-1zM561 313h3v1h-3zM562 312h1v3h-1zM532 311h3v1h-3zM533 310h1v3h-1zM531 314h3v1h-3zM532 313h1v3h-1zM533 315h3v1h-3zM534 314h1v3h-1zM536 307h3v1h-3zM537 306h1v3h-1zM537 306h3v1h-3zM538 305h1v3h-1zM529 321h3v1h-3zM530 320h1v3h-1zM534 323h3v1h-3zM535 322h1v3h-1zM535 324h3v1h-3zM536 323h1v3h-1zM537 321h3v1h-3zM538 320h1v3h-1zM539 323h3v1h-3zM540 322h1v3h-1zM540 324h3v1h-3zM541 323h1v3h-1zM536 326h3v1h-3zM537 325h1v3h-1zM537 327h3v1h-3zM538 326h1v3h-1zM546 323h3v1h-3zM547 322h1v3h-1zM549 324h3v1h-3zM550 323h1v3h-1zM552 323h3v1h-3zM553 322h1v3h-1zM555 323h3v1h-3zM556 322h1v3h-1zM558 323h3v1h-3zM559 322h1v3h-1zM561 323h3v1h-3zM562 322h1v3h-1zM568 326h3v1h-3zM569 325h1v3h-1zM570 325h3v1h-3zM571 324h1v3h-1zM573 325h3v1h-3zM574 324h1v3h-1zM576 325h3v1h-3zM577 324h1v3h-1zM579 325h3v1h-3zM580 324h1v3h-1zM579 323h3v1h-3zM580 322h1v3h-1zM581 324h3v1h-3zM582 323h1v3h-1zM582 326h3v1h-3zM583 325h1v3h-1zM583 327h3v1h-3zM584 326h1v3h-1zM585 323h3v1h-3zM586 322h1v3h-1zM593 323h3v1h-3zM594 322h1v3h-1zM591 327h3v1h-3zM592 326h1v3h-1zM603 326h3v1h-3zM604 325h1v3h-1zM611 328h3v1h-3zM612 327h1v3h-1zM617 323h3v1h-3zM618 322h1v3h-1zM618 329h3v1h-3zM619 328h1v3h-1zM553 332h3v1h-3zM554 331h1v3h-1zM559 331h3v1h-3zM560 330h1v3h-1zM560 332h3v1h-3zM561 331h1v3h-1zM587 335h3v1h-3zM588 334h1v3h-1zM571 335h3v1h-3zM572 334h1v3h-1zM606 335h3v1h-3zM607 334h1v3h-1zM531 335h3v1h-3zM532 334h1v3h-1zM625 302h3v1h-3zM626 301h1v3h-1zM638 299h3v1h-3zM639 298h1v3h-1zM691 299h3v1h-3zM692 298h1v3h-1zM630 327h3v1h-3zM631 326h1v3h-1zM640 326h3v1h-3zM641 325h1v3h-1zM645 332h3v1h-3zM646 331h1v3h-1zM649 327h3v1h-3zM650 326h1v3h-1zM650 334h3v1h-3zM651 333h1v3h-1zM654 334h3v1h-3zM655 333h1v3h-1zM657 330h3v1h-3zM658 329h1v3h-1zM668 331h3v1h-3zM669 330h1v3h-1zM671 329h3v1h-3zM672 328h1v3h-1zM680 331h3v1h-3zM681 330h1v3h-1zM684 329h3v1h-3zM685 328h1v3h-1zM699 335h3v1h-3zM700 334h1v3h-1zM703 335h3v1h-3zM704 334h1v3h-1zM711 335h3v1h-3zM712 334h1v3h-1zM490 296h3v1h-3zM491 295h1v3h-1zM476 299h3v1h-3zM477 298h1v3h-1zM477 299h3v1h-3zM478 298h1v3h-1zM488 301h3v1h-3zM489 300h1v3h-1zM489 303h3v1h-3zM490 302h1v3h-1zM492 302h3v1h-3zM493 301h1v3h-1zM494 305h3v1h-3zM495 304h1v3h-1zM491 306h3v1h-3zM492 305h1v3h-1zM492 307h3v1h-3zM493 306h1v3h-1zM495 306h3v1h-3zM496 305h1v3h-1zM497 307h3v1h-3zM498 306h1v3h-1zM498 306h3v1h-3zM499 305h1v3h-1zM500 305h3v1h-3zM501 304h1v3h-1zM501 304h3v1h-3zM502 303h1v3h-1zM508 306h3v1h-3zM509 305h1v3h-1zM509 308h3v1h-3zM510 307h1v3h-1zM511 310h3v1h-3zM512 309h1v3h-1zM511 311h3v1h-3zM512 310h1v3h-1zM497 311h3v1h-3zM498 310h1v3h-1zM500 311h3v1h-3zM501 310h1v3h-1zM501 311h3v1h-3zM502 310h1v3h-1zM491 311h3v1h-3zM492 310h1v3h-1zM491 312h3v1h-3zM492 311h1v3h-1zM476 308h3v1h-3zM477 307h1v3h-1zM476 309h3v1h-3zM477 308h1v3h-1zM475 311h3v1h-3zM476 310h1v3h-1zM477 311h3v1h-3zM478 310h1v3h-1zM478 312h3v1h-3zM479 311h1v3h-1zM480 312h3v1h-3zM481 311h1v3h-1zM471 311h3v1h-3zM472 310h1v3h-1zM467 297h3v1h-3zM468 296h1v3h-1zM485 309h3v1h-3zM486 308h1v3h-1zM486 311h3v1h-3zM487 310h1v3h-1zM516 304h3v1h-3zM517 303h1v3h-1zM516 307h3v1h-3zM517 306h1v3h-1zM374 309h3v1h-3zM375 308h1v3h-1zM376 311h3v1h-3zM377 310h1v3h-1zM380 311h3v1h-3zM381 310h1v3h-1zM382 313h3v1h-3zM383 312h1v3h-1zM383 312h3v1h-3zM384 311h1v3h-1zM385 313h3v1h-3zM386 312h1v3h-1zM380 315h3v1h-3zM381 314h1v3h-1zM381 314h3v1h-3zM382 313h1v3h-1zM391 319h3v1h-3zM392 318h1v3h-1zM393 322h3v1h-3zM394 321h1v3h-1zM396 327h3v1h-3zM397 326h1v3h-1zM396 329h3v1h-3zM397 328h1v3h-1zM398 326h3v1h-3zM399 325h1v3h-1zM400 326h3v1h-3zM401 325h1v3h-1zM401 330h3v1h-3zM402 329h1v3h-1zM403 315h3v1h-3zM404 314h1v3h-1zM406 317h3v1h-3zM407 316h1v3h-1zM404 317h3v1h-3zM405 316h1v3h-1zM407 320h3v1h-3zM408 319h1v3h-1zM409 319h3v1h-3zM410 318h1v3h-1zM406 321h3v1h-3zM407 320h1v3h-1zM407 323h3v1h-3zM408 322h1v3h-1zM409 325h3v1h-3zM410 324h1v3h-1zM410 321h3v1h-3zM411 320h1v3h-1zM409 311h3v1h-3zM410 310h1v3h-1zM410 309h3v1h-3zM411 308h1v3h-1zM413 310h3v1h-3zM414 309h1v3h-1zM415 311h3v1h-3zM416 310h1v3h-1zM415 319h3v1h-3zM416 318h1v3h-1zM413 323h3v1h-3zM414 322h1v3h-1zM415 326h3v1h-3zM416 325h1v3h-1zM413 328h3v1h-3zM414 327h1v3h-1zM416 315h3v1h-3zM417 314h1v3h-1zM369 313h3v1h-3zM370 312h1v3h-1zM369 324h3v1h-3zM370 323h1v3h-1zM369 328h3v1h-3zM370 327h1v3h-1zM420 311h3v1h-3zM421 310h1v3h-1zM421 312h3v1h-3zM422 311h1v3h-1zM426 311h3v1h-3zM427 310h1v3h-1zM429 310h3v1h-3zM430 309h1v3h-1zM430 311h3v1h-3zM431 310h1v3h-1zM432 311h3v1h-3zM433 310h1v3h-1zM434 310h3v1h-3zM435 309h1v3h-1zM436 309h3v1h-3zM437 308h1v3h-1zM438 310h3v1h-3zM439 309h1v3h-1zM439 312h3v1h-3zM440 311h1v3h-1zM441 311h3v1h-3zM442 310h1v3h-1zM447 310h3v1h-3zM448 309h1v3h-1zM448 311h3v1h-3zM449 310h1v3h-1zM451 311h3v1h-3zM452 310h1v3h-1zM453 310h3v1h-3zM454 309h1v3h-1zM456 311h3v1h-3zM457 310h1v3h-1zM459 312h3v1h-3zM460 311h1v3h-1zM462 313h3v1h-3zM463 312h1v3h-1zM464 311h3v1h-3zM465 310h1v3h-1zM466 310h3v1h-3zM467 309h1v3h-1zM417 314h3v1h-3zM418 313h1v3h-1zM418 315h3v1h-3zM419 314h1v3h-1zM417 317h3v1h-3zM418 316h1v3h-1zM423 317h3v1h-3zM424 316h1v3h-1zM425 318h3v1h-3zM426 317h1v3h-1zM428 314h3v1h-3zM429 313h1v3h-1zM429 315h3v1h-3zM430 314h1v3h-1zM431 317h3v1h-3zM432 316h1v3h-1zM432 314h3v1h-3zM433 313h1v3h-1zM435 313h3v1h-3zM436 312h1v3h-1zM441 314h3v1h-3zM442 313h1v3h-1zM442 315h3v1h-3zM443 314h1v3h-1zM443 317h3v1h-3zM444 316h1v3h-1zM445 319h3v1h-3zM446 318h1v3h-1zM447 317h3v1h-3zM448 316h1v3h-1zM448 317h3v1h-3zM449 316h1v3h-1zM450 314h3v1h-3zM451 313h1v3h-1zM456 314h3v1h-3zM457 313h1v3h-1zM457 315h3v1h-3zM458 314h1v3h-1zM459 317h3v1h-3zM460 316h1v3h-1zM460 316h3v1h-3zM461 315h1v3h-1zM463 317h3v1h-3zM464 316h1v3h-1zM465 315h3v1h-3zM466 314h1v3h-1zM466 318h3v1h-3zM467 317h1v3h-1zM419 323h3v1h-3zM420 322h1v3h-1zM420 324h3v1h-3zM421 323h1v3h-1zM423 323h3v1h-3zM424 322h1v3h-1zM425 325h3v1h-3zM426 324h1v3h-1zM426 322h3v1h-3zM427 321h1v3h-1zM428 323h3v1h-3zM429 322h1v3h-1zM430 323h3v1h-3zM431 322h1v3h-1zM435 321h3v1h-3zM436 320h1v3h-1zM436 323h3v1h-3zM437 322h1v3h-1zM438 324h3v1h-3zM439 323h1v3h-1zM441 323h3v1h-3zM442 322h1v3h-1zM442 324h3v1h-3zM443 323h1v3h-1zM443 326h3v1h-3zM444 325h1v3h-1zM447 319h3v1h-3zM448 318h1v3h-1zM448 320h3v1h-3zM449 319h1v3h-1zM453 321h3v1h-3zM454 320h1v3h-1zM454 323h3v1h-3zM455 322h1v3h-1zM456 324h3v1h-3zM457 323h1v3h-1zM457 326h3v1h-3zM458 325h1v3h-1zM459 323h3v1h-3zM460 322h1v3h-1zM459 321h3v1h-3zM460 320h1v3h-1zM461 324h3v1h-3zM462 323h1v3h-1zM462 326h3v1h-3zM463 325h1v3h-1zM464 324h3v1h-3zM465 323h1v3h-1zM465 323h3v1h-3zM466 322h1v3h-1zM432 327h3v1h-3zM433 326h1v3h-1zM435 329h3v1h-3zM436 328h1v3h-1zM437 330h3v1h-3zM438 329h1v3h-1zM451 328h3v1h-3zM452 327h1v3h-1zM453 329h3v1h-3zM454 328h1v3h-1zM463 328h3v1h-3zM464 327h1v3h-1zM465 329h3v1h-3zM466 328h1v3h-1zM425 332h3v1h-3zM426 331h1v3h-1z" fill="#56620f"/><path d="M316 76h1v1h-1zM329 74h1v1h-1zM341 78h1v1h-1zM282 97h1v1h-1zM289 90h1v1h-1zM293 91h1v1h-1zM299 95h1v1h-1zM305 101h1v1h-1zM311 116h1v1h-1zM320 116h1v1h-1zM323 121h1v1h-1zM317 128h1v1h-1zM304 131h1v1h-1zM360 136h1v1h-1zM299 149h1v1h-1zM297 158h1v1h-1zM299 157h1v1h-1zM296 159h1v1h-1zM306 160h1v1h-1zM313 160h1v1h-1zM317 159h1v1h-1zM320 158h1v1h-1zM319 165h1v1h-1zM295 166h1v1h-1zM328 167h1v1h-1zM313 169h1v1h-1zM310 174h1v1h-1zM283 176h1v1h-1zM329 177h1v1h-1zM314 178h1v1h-1zM292 180h1v1h-1zM330 180h1v1h-1zM349 179h1v1h-1zM351 178h1v1h-1zM292 185h1v1h-1zM296 185h1v1h-1zM298 184h1v1h-1zM308 184h1v1h-1zM311 185h1v1h-1zM316 185h1v1h-1zM318 186h1v1h-1zM321 188h1v1h-1zM323 188h1v1h-1zM325 190h1v1h-1zM309 188h1v1h-1zM313 189h1v1h-1zM292 189h1v1h-1zM266 191h1v1h-1zM333 188h1v1h-1zM343 186h1v1h-1zM300 192h1v1h-1zM278 196h1v1h-1zM297 198h1v1h-1zM303 197h1v1h-1zM309 195h1v1h-1zM315 197h1v1h-1zM321 195h1v1h-1zM323 198h1v1h-1zM334 197h1v1h-1zM348 194h1v1h-1zM351 194h1v1h-1zM361 194h1v1h-1zM271 199h1v1h-1zM339 266h1v1h-1zM340 267h1v1h-1zM357 269h1v1h-1zM336 277h1v1h-1zM341 280h1v1h-1zM346 283h1v1h-1zM350 283h1v1h-1zM357 283h1v1h-1zM359 283h1v1h-1zM347 291h1v1h-1zM353 290h1v1h-1zM364 293h1v1h-1zM336 297h1v1h-1zM340 296h1v1h-1zM358 297h1v1h-1zM370 286h1v1h-1zM370 290h1v1h-1zM231 229h1v1h-1zM249 252h1v1h-1zM271 201h1v1h-1zM271 203h1v1h-1zM281 200h1v1h-1zM289 201h1v1h-1zM296 202h1v1h-1zM303 203h1v1h-1zM304 202h1v1h-1zM313 201h1v1h-1zM321 200h1v1h-1zM324 200h1v1h-1zM324 205h1v1h-1zM331 203h1v1h-1zM306 209h1v1h-1zM312 209h1v1h-1zM334 208h1v1h-1zM330 212h1v1h-1zM331 214h1v1h-1zM329 217h1v1h-1zM331 220h1v1h-1zM343 217h1v1h-1zM349 217h1v1h-1zM361 220h1v1h-1zM306 221h1v1h-1zM317 219h1v1h-1zM328 225h1v1h-1zM282 231h1v1h-1zM266 241h1v1h-1zM296 242h1v1h-1zM314 242h1v1h-1zM321 245h1v1h-1zM330 246h1v1h-1zM341 241h1v1h-1zM300 248h1v1h-1zM307 250h1v1h-1zM313 247h1v1h-1zM350 248h1v1h-1zM274 251h1v1h-1zM284 252h1v1h-1zM322 250h1v1h-1zM328 239h1v1h-1zM302 251h1v1h-1zM279 254h1v1h-1zM282 256h1v1h-1zM335 254h1v1h-1zM319 256h1v1h-1zM282 257h1v1h-1zM281 259h1v1h-1zM319 257h1v1h-1zM308 262h1v1h-1zM318 268h1v1h-1zM319 270h1v1h-1zM298 267h1v1h-1zM295 272h1v1h-1zM294 274h1v1h-1zM261 272h1v1h-1zM261 275h1v1h-1zM275 270h1v1h-1zM273 279h1v1h-1zM282 279h1v1h-1zM266 281h1v1h-1zM266 285h1v1h-1zM262 288h1v1h-1zM264 288h1v1h-1zM275 284h1v1h-1zM282 271h1v1h-1zM284 271h1v1h-1zM298 272h1v1h-1zM309 274h1v1h-1zM311 276h1v1h-1zM318 277h1v1h-1zM313 284h1v1h-1zM315 283h1v1h-1zM318 284h1v1h-1zM298 281h1v1h-1zM297 286h1v1h-1zM299 288h1v1h-1zM289 286h1v1h-1zM326 281h1v1h-1zM278 294h1v1h-1zM282 292h1v1h-1zM270 292h1v1h-1zM265 297h1v1h-1zM266 303h1v1h-1zM274 304h1v1h-1zM276 301h1v1h-1zM282 300h1v1h-1zM284 299h1v1h-1zM289 297h1v1h-1zM286 301h1v1h-1zM295 298h1v1h-1zM299 292h1v1h-1zM304 294h1v1h-1zM307 302h1v1h-1zM309 303h1v1h-1zM313 297h1v1h-1zM319 300h1v1h-1zM321 294h1v1h-1zM346 303h1v1h-1zM266 310h1v1h-1zM269 311h1v1h-1zM275 313h1v1h-1zM276 312h1v1h-1zM278 308h1v1h-1zM286 308h1v1h-1zM288 310h1v1h-1zM291 314h1v1h-1zM296 312h1v1h-1zM303 304h1v1h-1zM307 311h1v1h-1zM308 311h1v1h-1zM313 306h1v1h-1zM321 309h1v1h-1zM327 311h1v1h-1zM333 307h1v1h-1zM334 308h1v1h-1zM342 310h1v1h-1zM349 306h1v1h-1zM354 308h1v1h-1zM363 310h1v1h-1zM210 272h1v1h-1zM218 271h1v1h-1zM221 274h1v1h-1zM228 275h1v1h-1zM236 278h1v1h-1zM248 274h1v1h-1zM176 279h1v1h-1zM181 281h1v1h-1zM195 280h1v1h-1zM200 279h1v1h-1zM228 281h1v1h-1zM231 280h1v1h-1zM237 282h1v1h-1zM247 283h1v1h-1zM249 285h1v1h-1zM221 284h1v1h-1zM158 289h1v1h-1zM165 291h1v1h-1zM178 289h1v1h-1zM183 288h1v1h-1zM206 290h1v1h-1zM218 290h1v1h-1zM221 290h1v1h-1zM231 290h1v1h-1zM232 292h1v1h-1zM235 292h1v1h-1zM248 294h1v1h-1zM253 293h1v1h-1zM255 291h1v1h-1zM180 297h1v1h-1zM195 295h1v1h-1zM199 294h1v1h-1zM218 296h1v1h-1zM253 297h1v1h-1zM197 299h1v1h-1zM227 300h1v1h-1zM192 303h1v1h-1zM168 306h1v1h-1zM169 309h1v1h-1zM177 309h1v1h-1zM187 309h1v1h-1zM194 309h1v1h-1zM196 308h1v1h-1zM201 305h1v1h-1zM214 301h1v1h-1zM214 304h1v1h-1zM219 305h1v1h-1zM227 304h1v1h-1zM236 302h1v1h-1zM245 304h1v1h-1zM243 308h1v1h-1zM248 309h1v1h-1zM257 307h1v1h-1zM213 309h1v1h-1zM224 310h1v1h-1zM230 311h1v1h-1zM237 312h1v1h-1zM241 312h1v1h-1zM253 311h1v1h-1zM186 314h1v1h-1zM192 314h1v1h-1zM203 314h1v1h-1zM205 313h1v1h-1zM214 313h1v1h-1zM219 313h1v1h-1zM223 314h1v1h-1zM228 313h1v1h-1zM247 314h1v1h-1zM150 315h1v1h-1zM101 282h1v1h-1zM114 299h1v1h-1zM131 302h1v1h-1zM103 308h1v1h-1zM91 311h1v1h-1zM122 312h1v1h-1zM70 320h1v1h-1zM43 326h1v1h-1zM49 324h1v1h-1zM15 335h1v1h-1zM17 335h1v1h-1zM19 335h1v1h-1zM57 335h1v1h-1zM62 334h1v1h-1zM67 335h1v1h-1zM71 335h1v1h-1zM71 334h1v1h-1zM80 334h1v1h-1zM83 335h1v1h-1zM98 324h1v1h-1zM106 322h1v1h-1zM106 325h1v1h-1zM108 326h1v1h-1zM96 332h1v1h-1zM97 335h1v1h-1zM102 335h1v1h-1zM108 335h1v1h-1zM136 318h1v1h-1zM141 317h1v1h-1zM142 317h1v1h-1zM144 322h1v1h-1zM156 321h1v1h-1zM158 322h1v1h-1zM170 320h1v1h-1zM171 324h1v1h-1zM184 325h1v1h-1zM188 325h1v1h-1zM195 327h1v1h-1zM200 324h1v1h-1zM214 316h1v1h-1zM213 318h1v1h-1zM215 321h1v1h-1zM214 324h1v1h-1zM128 325h1v1h-1zM112 331h1v1h-1zM117 335h1v1h-1zM121 335h1v1h-1zM125 335h1v1h-1zM138 334h1v1h-1zM148 335h1v1h-1zM167 335h1v1h-1zM171 333h1v1h-1zM174 335h1v1h-1zM178 335h1v1h-1zM189 333h1v1h-1zM197 335h1v1h-1zM200 334h1v1h-1zM205 331h1v1h-1zM210 335h1v1h-1zM212 335h1v1h-1zM228 316h1v1h-1zM228 318h1v1h-1zM229 321h1v1h-1zM237 318h1v1h-1zM247 318h1v1h-1zM262 316h1v1h-1zM273 320h1v1h-1zM280 318h1v1h-1zM284 322h1v1h-1zM284 323h1v1h-1zM288 317h1v1h-1zM257 323h1v1h-1zM265 322h1v1h-1zM251 325h1v1h-1zM229 327h1v1h-1zM226 329h1v1h-1zM242 329h1v1h-1zM246 327h1v1h-1zM259 328h1v1h-1zM272 330h1v1h-1zM273 330h1v1h-1zM277 328h1v1h-1zM279 326h1v1h-1zM231 335h1v1h-1zM261 335h1v1h-1zM262 334h1v1h-1zM292 334h1v1h-1zM266 333h1v1h-1zM312 316h1v1h-1zM314 316h1v1h-1zM333 317h1v1h-1zM334 316h1v1h-1zM359 315h1v1h-1zM303 321h1v1h-1zM304 323h1v1h-1zM303 325h1v1h-1zM308 324h1v1h-1zM329 322h1v1h-1zM329 324h1v1h-1zM342 326h1v1h-1zM348 323h1v1h-1zM355 324h1v1h-1zM302 330h1v1h-1zM303 333h1v1h-1zM370 315h1v1h-1zM370 324h1v1h-1zM370 327h1v1h-1zM373 229h1v1h-1zM380 225h1v1h-1zM394 229h1v1h-1zM400 230h1v1h-1zM392 237h1v1h-1zM375 243h1v1h-1zM377 254h1v1h-1zM395 258h1v1h-1zM474 315h1v1h-1zM480 316h1v1h-1zM487 316h1v1h-1zM491 315h1v1h-1zM468 320h1v1h-1zM470 322h1v1h-1zM473 321h1v1h-1zM476 318h1v1h-1zM479 321h1v1h-1zM481 323h1v1h-1zM482 324h1v1h-1zM483 326h1v1h-1zM485 323h1v1h-1zM487 321h1v1h-1zM489 323h1v1h-1zM491 321h1v1h-1zM493 320h1v1h-1zM495 322h1v1h-1zM496 321h1v1h-1zM499 321h1v1h-1zM501 323h1v1h-1zM502 325h1v1h-1zM503 320h1v1h-1zM506 320h1v1h-1zM509 323h1v1h-1zM512 323h1v1h-1zM515 323h1v1h-1zM517 323h1v1h-1zM520 323h1v1h-1zM523 324h1v1h-1zM525 323h1v1h-1zM528 323h1v1h-1zM524 328h1v1h-1zM525 315h1v1h-1zM470 325h1v1h-1zM477 328h1v1h-1zM485 330h1v1h-1zM488 334h1v1h-1zM496 328h1v1h-1zM499 327h1v1h-1zM501 334h1v1h-1zM527 334h1v1h-1zM529 335h1v1h-1zM379 291h1v1h-1zM382 293h1v1h-1zM381 296h1v1h-1zM400 289h1v1h-1zM401 288h1v1h-1zM407 290h1v1h-1zM408 292h1v1h-1zM410 294h1v1h-1zM413 288h1v1h-1zM413 289h1v1h-1zM416 286h1v1h-1zM398 296h1v1h-1zM399 293h1v1h-1zM398 305h1v1h-1zM390 305h1v1h-1zM410 303h1v1h-1zM416 303h1v1h-1zM378 305h1v1h-1zM381 304h1v1h-1zM385 305h1v1h-1zM421 288h1v1h-1zM422 290h1v1h-1zM424 289h1v1h-1zM428 289h1v1h-1zM431 288h1v1h-1zM433 290h1v1h-1zM439 289h1v1h-1zM442 288h1v1h-1zM418 291h1v1h-1zM420 292h1v1h-1zM451 295h1v1h-1zM463 294h1v1h-1zM457 297h1v1h-1zM425 303h1v1h-1zM433 302h1v1h-1zM437 300h1v1h-1zM443 303h1v1h-1zM446 303h1v1h-1zM450 303h1v1h-1zM445 305h1v1h-1zM427 296h1v1h-1zM431 296h1v1h-1zM419 298h1v1h-1zM429 306h1v1h-1zM462 311h1v1h-1zM462 310h1v1h-1zM414 315h1v1h-1zM463 320h1v1h-1zM426 327h1v1h-1zM416 319h1v1h-1zM437 325h1v1h-1zM452 322h1v1h-1zM424 316h1v1h-1zM410 326h1v1h-1zM446 324h1v1h-1zM411 318h1v1h-1zM454 321h1v1h-1zM408 319h1v1h-1zM461 314h1v1h-1zM413 316h1v1h-1zM449 326h1v1h-1zM410 313h1v1h-1zM417 316h1v1h-1zM436 313h1v1h-1zM422 313h1v1h-1zM468 324h1v1h-1zM407 329h1v1h-1zM407 317h1v1h-1zM468 325h1v1h-1zM516 304h1v1h-1zM518 308h1v1h-1zM520 309h1v1h-1zM499 311h1v1h-1zM501 311h1v1h-1zM497 320h1v1h-1zM501 324h1v1h-1zM504 325h1v1h-1zM506 322h1v1h-1zM510 323h1v1h-1zM517 323h1v1h-1zM519 324h1v1h-1zM522 324h1v1h-1zM526 323h1v1h-1zM528 322h1v1h-1zM536 324h1v1h-1zM538 323h1v1h-1zM541 325h1v1h-1zM537 326h1v1h-1zM499 327h1v1h-1zM395 259h1v1h-1zM396 261h1v1h-1zM393 264h1v1h-1zM409 261h1v1h-1zM439 262h1v1h-1zM383 271h1v1h-1zM407 270h1v1h-1zM419 272h1v1h-1zM390 278h1v1h-1zM405 278h1v1h-1zM418 279h1v1h-1zM423 279h1v1h-1zM463 283h1v1h-1zM463 294h1v1h-1zM451 295h1v1h-1zM491 294h1v1h-1zM536 290h1v1h-1zM574 300h1v1h-1zM583 301h1v1h-1zM584 302h1v1h-1zM598 300h1v1h-1zM600 300h1v1h-1zM598 306h1v1h-1zM603 305h1v1h-1zM616 309h1v1h-1zM553 305h1v1h-1zM561 303h1v1h-1zM559 307h1v1h-1zM558 311h1v1h-1zM562 313h1v1h-1zM533 311h1v1h-1zM532 314h1v1h-1zM534 315h1v1h-1zM537 307h1v1h-1zM538 306h1v1h-1zM530 321h1v1h-1zM535 323h1v1h-1zM536 324h1v1h-1zM538 321h1v1h-1zM540 323h1v1h-1zM541 324h1v1h-1zM537 326h1v1h-1zM538 327h1v1h-1zM547 323h1v1h-1zM550 324h1v1h-1zM553 323h1v1h-1zM556 323h1v1h-1zM559 323h1v1h-1zM562 323h1v1h-1zM569 326h1v1h-1zM571 325h1v1h-1zM574 325h1v1h-1zM577 325h1v1h-1zM580 325h1v1h-1zM580 323h1v1h-1zM582 324h1v1h-1zM583 326h1v1h-1zM584 327h1v1h-1zM586 323h1v1h-1zM594 323h1v1h-1zM592 327h1v1h-1zM604 326h1v1h-1zM612 328h1v1h-1zM618 323h1v1h-1zM619 329h1v1h-1zM554 332h1v1h-1zM560 331h1v1h-1zM561 332h1v1h-1zM588 335h1v1h-1zM572 335h1v1h-1zM607 335h1v1h-1zM532 335h1v1h-1zM626 302h1v1h-1zM639 299h1v1h-1zM692 299h1v1h-1zM631 327h1v1h-1zM641 326h1v1h-1zM646 332h1v1h-1zM650 327h1v1h-1zM651 334h1v1h-1zM655 334h1v1h-1zM658 330h1v1h-1zM669 331h1v1h-1zM672 329h1v1h-1zM681 331h1v1h-1zM685 329h1v1h-1zM700 335h1v1h-1zM704 335h1v1h-1zM712 335h1v1h-1zM491 296h1v1h-1zM477 299h1v1h-1zM478 299h1v1h-1zM489 301h1v1h-1zM490 303h1v1h-1zM493 302h1v1h-1zM495 305h1v1h-1zM492 306h1v1h-1zM493 307h1v1h-1zM496 306h1v1h-1zM498 307h1v1h-1zM499 306h1v1h-1zM501 305h1v1h-1zM502 304h1v1h-1zM509 306h1v1h-1zM510 308h1v1h-1zM512 310h1v1h-1zM512 311h1v1h-1zM498 311h1v1h-1zM501 311h1v1h-1zM502 311h1v1h-1zM492 311h1v1h-1zM492 312h1v1h-1zM477 308h1v1h-1zM477 309h1v1h-1zM476 311h1v1h-1zM478 311h1v1h-1zM479 312h1v1h-1zM481 312h1v1h-1zM472 311h1v1h-1zM468 297h1v1h-1zM486 309h1v1h-1zM487 311h1v1h-1zM517 304h1v1h-1zM517 307h1v1h-1zM375 309h1v1h-1zM377 311h1v1h-1zM381 311h1v1h-1zM383 313h1v1h-1zM384 312h1v1h-1zM386 313h1v1h-1zM381 315h1v1h-1zM382 314h1v1h-1zM392 319h1v1h-1zM394 322h1v1h-1zM397 327h1v1h-1zM397 329h1v1h-1zM399 326h1v1h-1zM401 326h1v1h-1zM402 330h1v1h-1zM404 315h1v1h-1zM407 317h1v1h-1zM405 317h1v1h-1zM408 320h1v1h-1zM410 319h1v1h-1zM407 321h1v1h-1zM408 323h1v1h-1zM410 325h1v1h-1zM411 321h1v1h-1zM410 311h1v1h-1zM411 309h1v1h-1zM414 310h1v1h-1zM416 311h1v1h-1zM416 319h1v1h-1zM414 323h1v1h-1zM416 326h1v1h-1zM414 328h1v1h-1zM417 315h1v1h-1zM370 313h1v1h-1zM370 324h1v1h-1zM370 328h1v1h-1zM421 311h1v1h-1zM422 312h1v1h-1zM427 311h1v1h-1zM430 310h1v1h-1zM431 311h1v1h-1zM433 311h1v1h-1zM435 310h1v1h-1zM437 309h1v1h-1zM439 310h1v1h-1zM440 312h1v1h-1zM442 311h1v1h-1zM448 310h1v1h-1zM449 311h1v1h-1zM452 311h1v1h-1zM454 310h1v1h-1zM457 311h1v1h-1zM460 312h1v1h-1zM463 313h1v1h-1zM465 311h1v1h-1zM467 310h1v1h-1zM418 314h1v1h-1zM419 315h1v1h-1zM418 317h1v1h-1zM424 317h1v1h-1zM426 318h1v1h-1zM429 314h1v1h-1zM430 315h1v1h-1zM432 317h1v1h-1zM433 314h1v1h-1zM436 313h1v1h-1zM442 314h1v1h-1zM443 315h1v1h-1zM444 317h1v1h-1zM446 319h1v1h-1zM448 317h1v1h-1zM449 317h1v1h-1zM451 314h1v1h-1zM457 314h1v1h-1zM458 315h1v1h-1zM460 317h1v1h-1zM461 316h1v1h-1zM464 317h1v1h-1zM466 315h1v1h-1zM467 318h1v1h-1zM420 323h1v1h-1zM421 324h1v1h-1zM424 323h1v1h-1zM426 325h1v1h-1zM427 322h1v1h-1zM429 323h1v1h-1zM431 323h1v1h-1zM436 321h1v1h-1zM437 323h1v1h-1zM439 324h1v1h-1zM442 323h1v1h-1zM443 324h1v1h-1zM444 326h1v1h-1zM448 319h1v1h-1zM449 320h1v1h-1zM454 321h1v1h-1zM455 323h1v1h-1zM457 324h1v1h-1zM458 326h1v1h-1zM460 323h1v1h-1zM460 321h1v1h-1zM462 324h1v1h-1zM463 326h1v1h-1zM465 324h1v1h-1zM466 323h1v1h-1zM433 327h1v1h-1zM436 329h1v1h-1zM438 330h1v1h-1zM452 328h1v1h-1zM454 329h1v1h-1zM464 328h1v1h-1zM466 329h1v1h-1zM426 332h1v1h-1z" fill="#c3dc7c"/></g><line x1="370.5" y1="30" x2="370.5" y2="350" stroke="#56600f" stroke-width="1.2"/>
<text x="361.9" y="34.00" text-anchor="end" class="t">53</text><text x="361.9" y="63.09" text-anchor="end" class="t">48</text><text x="361.9" y="92.18" text-anchor="end" class="t">43</text><text x="361.9" y="121.27" text-anchor="end" class="t">38</text><text x="361.9" y="150.36" text-anchor="end" class="t">33</text><text x="361.9" y="179.45" text-anchor="end" class="t">28</text><text x="361.9" y="208.55" text-anchor="end" class="t">23</text><text x="361.9" y="237.64" text-anchor="end" class="t">18</text><text x="361.9" y="266.73" text-anchor="end" class="t">13</text><text x="361.9" y="295.82" text-anchor="end" class="t">8</text><text x="361.9" y="324.91" text-anchor="end" class="t">3</text><text x="361.9" y="354.00" text-anchor="end" class="t">3</text><text x="49.5" y="368" text-anchor="middle" class="t">-40</text><text x="89.5" y="368" text-anchor="middle" class="t">-35</text><text x="129.5" y="368" text-anchor="middle" class="t">-30</text><text x="169.5" y="368" text-anchor="middle" class="t">-25</text><text x="209.5" y="368" text-anchor="middle" class="t">-20</text><text x="249.5" y="368" text-anchor="middle" class="t">-15</text><text x="289.5" y="368" text-anchor="middle" class="t">-10</text><text x="329.5" y="368" text-anchor="middle" class="t">-5</text><text x="369.5" y="368" text-anchor="middle" class="t">0</text><text x="409.5" y="368" text-anchor="middle" class="t">5</text><text x="449.5" y="368" text-anchor="middle" class="t">10</text><text x="489.5" y="368" text-anchor="middle" class="t">15</text><text x="529.5" y="368" text-anchor="middle" class="t">20</text><text x="569.5" y="368" text-anchor="middle" class="t">25</text><text x="609.5" y="368" text-anchor="middle" class="t">30</text><text x="649.5" y="368" text-anchor="middle" class="t">35</text><text x="689.5" y="368" text-anchor="middle" class="t">40</text><text x="689.5" y="383.6" text-anchor="end" class="a" textLength="53" lengthAdjust="spacing">Pente [%]</text><text x="359.8" y="14" text-anchor="middle" class="ti">VITESSE vs PENTE</text>
</svg></body></html>
